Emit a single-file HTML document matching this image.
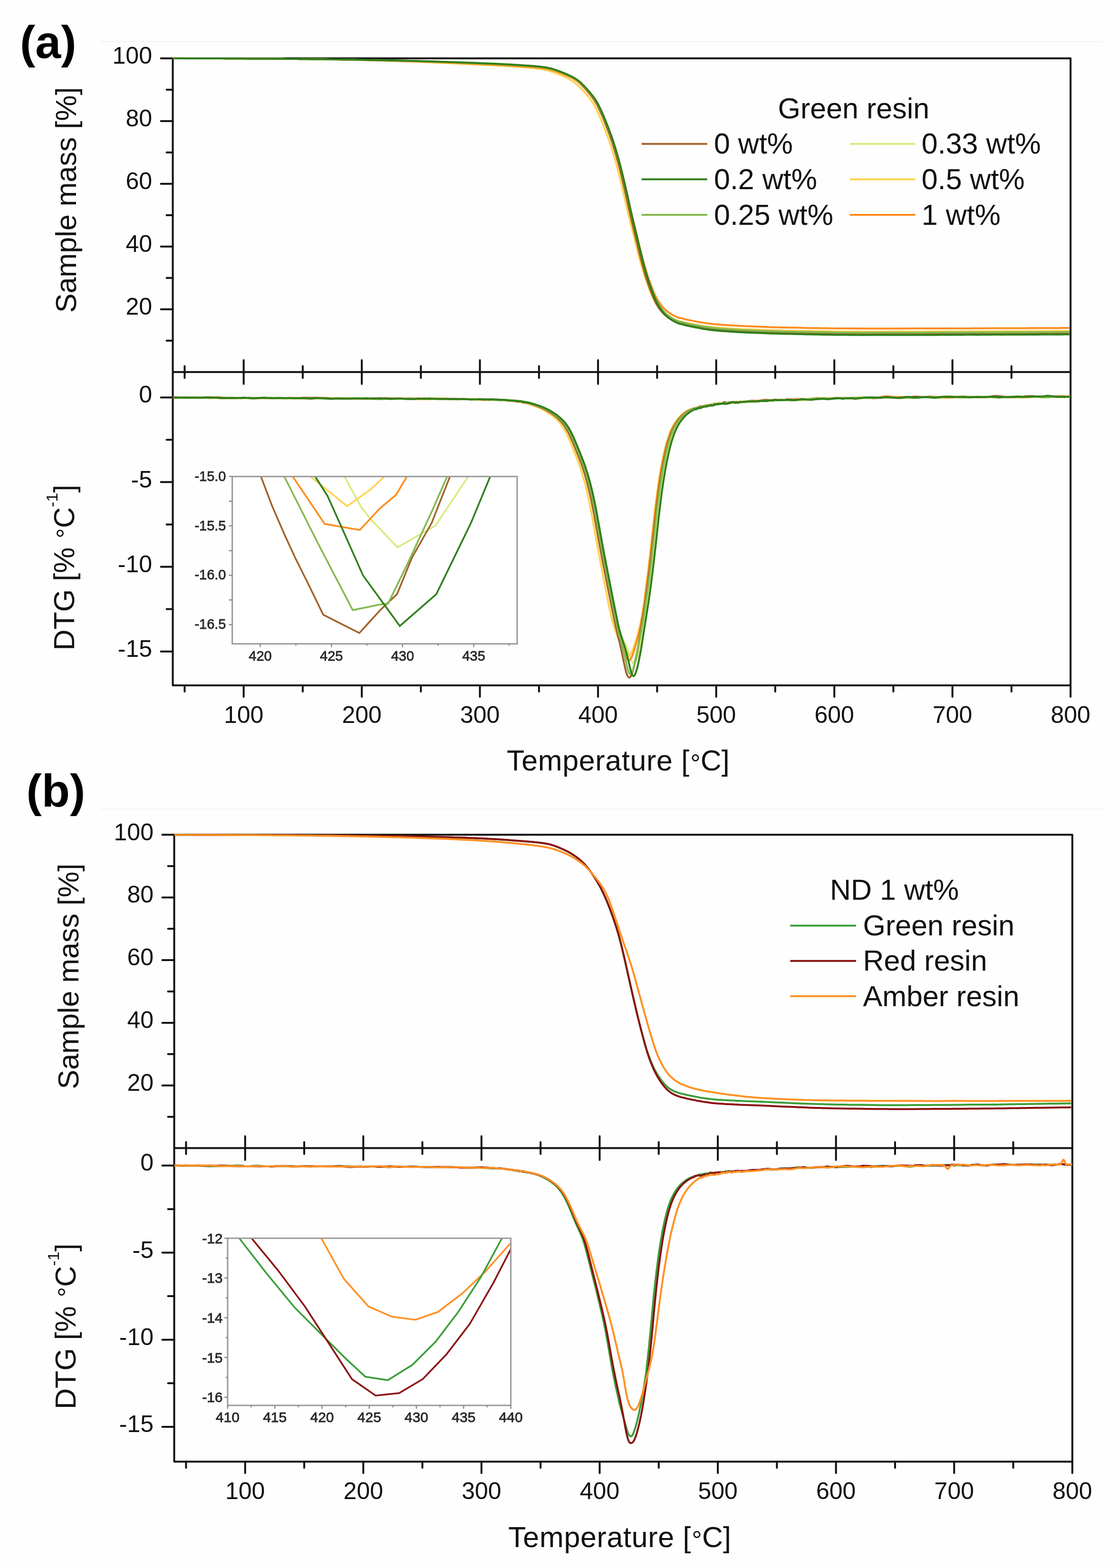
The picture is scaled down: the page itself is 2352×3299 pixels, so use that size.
<!DOCTYPE html>
<html><head><meta charset="utf-8"><title>TGA / DTG</title>
<style>html,body{margin:0;padding:0;background:#fefefe;}svg{display:block;}</style>
</head><body>
<svg width="2352" height="3299" viewBox="0 0 2352 3299">
<rect width="2352" height="3299" fill="#fefefe"/>
<path d="M210 87.5H2319M212 1702.5H2319" stroke="#f2f2f2" stroke-width="2" fill="none"/>
<clipPath id="pa"><rect x="363.5" y="120.8" width="1888.6999999999998" height="1321.2"/></clipPath>
<clipPath id="pb"><rect x="366.5" y="1754.3" width="1889.4" height="1320.8999999999999"/></clipPath>
<path d="M363.5 122.8H2252.2V1442H363.5Z" fill="none" stroke="#111" stroke-width="4" stroke-linejoin="round"/>
<path d="M363.5 782.7H2252.2" stroke="#111" stroke-width="4"/>
<path d="M350.5 716.7H363.5M338.5 650.7H363.5M350.5 584.7H363.5M338.5 518.7H363.5M350.5 452.8H363.5M338.5 386.8H363.5M350.5 320.8H363.5M338.5 254.8H363.5M350.5 188.8H363.5M338.5 122.8H363.5M338.5 836.2H363.5M350.5 925.3H363.5M338.5 1014.3H363.5M350.5 1103.4H363.5M338.5 1192.5H363.5M350.5 1281.6H363.5M338.5 1370.7H363.5M388.4 770.2V795.2M388.4 1442V1455M512.6 757.7V807.7M512.6 1442V1466M636.9 770.2V795.2M636.9 1442V1455M761.1 757.7V807.7M761.1 1442V1466M885.4 770.2V795.2M885.4 1442V1455M1009.6 757.7V807.7M1009.6 1442V1466M1133.9 770.2V795.2M1133.9 1442V1455M1258.1 757.7V807.7M1258.1 1442V1466M1382.4 770.2V795.2M1382.4 1442V1455M1506.7 757.7V807.7M1506.7 1442V1466M1630.9 770.2V795.2M1630.9 1442V1455M1755.2 757.7V807.7M1755.2 1442V1466M1879.4 770.2V795.2M1879.4 1442V1455M2003.7 757.7V807.7M2003.7 1442V1466M2127.9 770.2V795.2M2127.9 1442V1455M2252.2 1442V1466" stroke="#111" stroke-width="4" fill="none" stroke-linecap="round"/>
<path d="M366.5 1756.3H2255.9V3075.2H366.5Z" fill="none" stroke="#111" stroke-width="4" stroke-linejoin="round"/>
<path d="M366.5 2415.6H2255.9" stroke="#111" stroke-width="4"/>
<path d="M353.5 2349.7H366.5M341.5 2283.7H366.5M353.5 2217.8H366.5M341.5 2151.9H366.5M353.5 2085.9H366.5M341.5 2020H366.5M353.5 1954.1H366.5M341.5 1888.2H366.5M353.5 1822.2H366.5M341.5 1756.3H366.5M341.5 2452.2H366.5M353.5 2543.9H366.5M341.5 2635.5H366.5M353.5 2727.1H366.5M341.5 2818.7H366.5M353.5 2910.3H366.5M341.5 3001.9H366.5M391.4 2403.1V2428.1M391.4 3075.2V3088.2M515.7 2390.6V2440.6M515.7 3075.2V3099.2M640 2403.1V2428.1M640 3075.2V3088.2M764.3 2390.6V2440.6M764.3 3075.2V3099.2M888.6 2403.1V2428.1M888.6 3075.2V3088.2M1012.9 2390.6V2440.6M1012.9 3075.2V3099.2M1137.2 2403.1V2428.1M1137.2 3075.2V3088.2M1261.5 2390.6V2440.6M1261.5 3075.2V3099.2M1385.8 2403.1V2428.1M1385.8 3075.2V3088.2M1510.1 2390.6V2440.6M1510.1 3075.2V3099.2M1634.4 2403.1V2428.1M1634.4 3075.2V3088.2M1758.7 2390.6V2440.6M1758.7 3075.2V3099.2M1883 2403.1V2428.1M1883 3075.2V3088.2M2007.3 2390.6V2440.6M2007.3 3075.2V3099.2M2131.6 2403.1V2428.1M2131.6 3075.2V3088.2M2255.9 3075.2V3099.2" stroke="#111" stroke-width="4" fill="none" stroke-linecap="round"/>
<g clip-path="url(#pa)">
<path d="M363.5 122.8 L371 122.8 L378.4 122.8 L385.9 122.8 L393.3 122.9 L400.8 122.9 L408.2 122.9 L415.7 122.9 L423.1 123 L430.6 123 L438.1 123 L445.5 123 L453 123.1 L460.4 123.1 L467.9 123.1 L475.3 123.2 L482.8 123.2 L490.2 123.2 L497.7 123.3 L505.2 123.3 L512.6 123.3 L520.1 123.4 L527.5 123.4 L535 123.4 L542.4 123.5 L549.9 123.5 L557.3 123.6 L564.8 123.6 L572.3 123.7 L579.7 123.7 L587.2 123.8 L594.6 123.8 L602.1 123.9 L609.5 124 L617 124 L624.4 124.1 L631.9 124.2 L639.3 124.2 L646.8 124.3 L654.3 124.4 L661.7 124.5 L669.2 124.6 L676.6 124.6 L684.1 124.7 L691.5 124.9 L699 125 L706.4 125.1 L713.9 125.2 L721.4 125.3 L728.8 125.5 L736.3 125.6 L743.7 125.7 L751.2 125.9 L758.6 126.1 L766.1 126.2 L773.5 126.4 L781 126.5 L788.5 126.7 L795.9 126.9 L803.4 127.1 L810.8 127.3 L818.3 127.4 L825.7 127.6 L833.2 127.8 L840.6 128 L848.1 128.2 L855.6 128.4 L863 128.7 L870.5 128.9 L877.9 129.1 L885.4 129.3 L892.8 129.6 L900.3 129.8 L907.7 130.1 L915.2 130.4 L922.7 130.7 L930.1 130.9 L937.6 131.2 L945 131.5 L952.5 131.8 L959.9 132.1 L967.4 132.4 L974.8 132.7 L982.3 133 L989.8 133.4 L997.2 133.7 L1004.7 134 L1012.1 134.3 L1019.6 134.7 L1027 135 L1034.5 135.4 L1041.9 135.7 L1049.4 136.1 L1056.9 136.5 L1064.3 136.9 L1071.8 137.3 L1079.2 137.8 L1084.2 138.1 L1085.7 138.2 L1087.2 138.3 L1088.7 138.4 L1090.2 138.5 L1091.6 138.6 L1093.1 138.7 L1094.6 138.8 L1096.1 138.9 L1097.6 139 L1099.1 139.1 L1100.6 139.2 L1102.1 139.3 L1103.6 139.4 L1105.1 139.5 L1106.6 139.6 L1108 139.7 L1109.5 139.8 L1111 139.9 L1112.5 140 L1114 140.1 L1115.5 140.2 L1117 140.3 L1118.5 140.5 L1120 140.6 L1121.5 140.7 L1123 140.8 L1124.4 141 L1125.9 141.1 L1127.4 141.3 L1128.9 141.4 L1130.4 141.6 L1131.9 141.7 L1133.4 141.9 L1134.9 142 L1136.4 142.2 L1137.9 142.4 L1139.4 142.6 L1140.8 142.7 L1142.3 142.9 L1143.8 143.1 L1145.3 143.3 L1146.8 143.6 L1148.3 143.8 L1149.8 144.1 L1151.3 144.3 L1152.8 144.6 L1154.3 144.9 L1155.8 145.3 L1157.3 145.6 L1158.7 146 L1160.2 146.4 L1161.7 146.9 L1163.2 147.3 L1164.7 147.8 L1166.2 148.3 L1167.7 148.8 L1169.2 149.3 L1170.7 149.8 L1172.2 150.4 L1173.7 150.9 L1175.1 151.5 L1176.6 152 L1178.1 152.6 L1179.6 153.2 L1181.1 153.8 L1182.6 154.4 L1184.1 154.9 L1185.6 155.5 L1187.1 156.1 L1188.6 156.8 L1190.1 157.4 L1191.5 158 L1193 158.7 L1194.5 159.3 L1196 160 L1197.5 160.7 L1199 161.4 L1200.5 162.1 L1202 162.9 L1203.5 163.7 L1205 164.5 L1206.5 165.3 L1207.9 166.2 L1209.4 167.1 L1210.9 168.1 L1212.4 169.1 L1213.9 170.1 L1215.4 171.2 L1216.9 172.3 L1218.4 173.6 L1219.9 174.8 L1221.4 176.1 L1222.9 177.5 L1224.3 178.9 L1225.8 180.3 L1227.3 181.8 L1228.8 183.4 L1230.3 184.9 L1231.8 186.5 L1233.3 188.1 L1234.8 189.7 L1236.3 191.4 L1237.8 193 L1239.3 194.7 L1240.8 196.5 L1242.2 198.2 L1243.7 200 L1245.2 201.9 L1246.7 203.8 L1248.2 205.8 L1249.7 207.8 L1251.2 210 L1252.7 212.2 L1254.2 214.6 L1255.7 217 L1257.2 219.7 L1258.6 222.4 L1260.1 225.3 L1261.6 228.3 L1263.1 231.4 L1264.6 234.6 L1266.1 237.9 L1267.6 241.3 L1269.1 244.7 L1270.6 248.3 L1272.1 251.9 L1273.6 255.5 L1275 259.2 L1276.5 263 L1278 266.8 L1279.5 270.7 L1281 274.7 L1282.5 278.7 L1284 282.7 L1285.5 286.9 L1287 291.1 L1288.5 295.4 L1290 299.9 L1291.4 304.5 L1292.9 309.3 L1294.4 314.2 L1295.9 319.2 L1297.4 324.4 L1298.9 329.7 L1300.4 335.1 L1301.9 340.7 L1303.4 346.4 L1304.9 352.1 L1306.4 358 L1307.9 364 L1309.3 370.1 L1310.8 376.3 L1312.3 382.7 L1313.8 389.1 L1315.3 395.7 L1316.8 402.3 L1318.3 409.1 L1319.8 415.8 L1321.3 422.5 L1322.8 429.2 L1324.3 435.9 L1325.7 442.5 L1327.2 449 L1328.7 455.4 L1330.2 461.8 L1331.7 468.1 L1333.2 474.4 L1334.7 480.7 L1336.2 486.9 L1337.7 493.2 L1339.2 499.4 L1340.7 505.7 L1342.1 511.9 L1343.6 518.1 L1345.1 524.3 L1346.6 530.4 L1348.1 536.4 L1349.6 542.3 L1351.1 548.1 L1352.6 553.8 L1354.1 559.4 L1355.6 564.8 L1357.1 570 L1358.5 575.1 L1360 580 L1361.5 584.7 L1363 589.3 L1364.5 593.7 L1366 598.1 L1367.5 602.3 L1369 606.4 L1370.5 610.4 L1372 614.3 L1373.5 618 L1374.9 621.7 L1376.4 625.1 L1377.9 628.5 L1379.4 631.6 L1380.9 634.6 L1382.4 637.4 L1383.9 640 L1385.4 642.5 L1386.9 644.8 L1388.4 647 L1389.9 649 L1391.4 650.9 L1392.8 652.7 L1394.3 654.4 L1395.8 656 L1397.3 657.6 L1398.8 659 L1400.3 660.4 L1401.8 661.7 L1403.3 662.9 L1404.8 664 L1406.3 665.2 L1407.8 666.2 L1409.2 667.2 L1410.7 668.2 L1412.2 669.1 L1413.7 670 L1415.2 670.8 L1416.7 671.6 L1418.2 672.4 L1419.7 673.1 L1421.2 673.8 L1422.7 674.4 L1424.2 675 L1425.6 675.6 L1427.1 676.1 L1428.6 676.6 L1430.1 677.1 L1431.6 677.4 L1433.1 677.4 L1434.6 677.7 L1436.1 678.2 L1437.6 678.6 L1439.1 679 L1440.6 679.4 L1442 679.7 L1443.5 680.1 L1445 680.5 L1446.5 680.9 L1448 681.2 L1449.5 681.6 L1451 681.9 L1452.5 682.2 L1454 682.4 L1455.5 682.7 L1457 683 L1458.4 683.3 L1459.9 683.6 L1461.4 683.9 L1462.9 684.3 L1464.4 684.6 L1465.9 684.9 L1467.4 685.1 L1468.9 685.3 L1470.4 685.6 L1471.9 685.9 L1473.4 686.2 L1474.9 686.4 L1476.3 686.6 L1477.8 686.8 L1479.3 687.1 L1480.8 687.3 L1482.3 687.6 L1483.8 687.7 L1485.3 688 L1486.8 688.2 L1488.3 688.5 L1489.8 688.7 L1491.3 688.7 L1492.7 688.9 L1494.2 689 L1495.7 689.4 L1497.2 689.5 L1498.7 689.7 L1500.2 689.8 L1501.7 689.9 L1503.2 690.1 L1504.7 690.2 L1506.2 690.4 L1507.7 690.5 L1509.1 690.8 L1510.6 691 L1512.1 691.1 L1513.6 691.1 L1515.1 691.1 L1516.6 691.2 L1518.1 691.4 L1519.6 691.6 L1521.1 691.7 L1522.6 691.8 L1524.1 691.9 L1525.5 691.9 L1527 692.1 L1528.5 692.2 L1530 692.3 L1531.5 692.4 L1533 692.5 L1534.5 692.5 L1536 692.7 L1537.5 692.8 L1539 692.9 L1540.5 693 L1541.9 693.1 L1543.4 693.2 L1544.9 693.3 L1546.4 693.3 L1547.9 693.4 L1549.4 693.5 L1550.9 693.6 L1552.4 693.6 L1553.9 693.7 L1555.4 693.8 L1556.4 693.8 L1563.8 694.2 L1571.3 694.4 L1578.7 694.8 L1586.2 695 L1593.6 695.4 L1601.1 695.6 L1608.6 695.9 L1616 696.2 L1623.5 696.4 L1630.9 696.7 L1638.4 697 L1645.8 697.1 L1653.3 697.3 L1660.7 697.4 L1668.2 697.6 L1675.6 697.8 L1683.1 698 L1690.6 698.2 L1698 698.2 L1705.5 698.3 L1712.9 698.4 L1720.4 698.5 L1727.8 698.6 L1735.3 698.8 L1742.7 699 L1750.2 699.1 L1757.7 699.1 L1765.1 699.2 L1772.6 699.3 L1780 699.4 L1787.5 699.5 L1794.9 699.4 L1802.4 699.5 L1809.8 699.4 L1817.3 699.5 L1824.8 699.6 L1832.2 699.6 L1839.7 699.6 L1847.1 699.5 L1854.6 699.6 L1862 699.5 L1869.5 699.5 L1876.9 699.5 L1884.4 699.5 L1891.9 699.5 L1899.3 699.5 L1906.8 699.5 L1914.2 699.4 L1921.7 699.3 L1929.1 699.4 L1936.6 699.3 L1944 699.4 L1951.5 699.3 L1959 699.4 L1966.4 699.3 L1973.9 699.4 L1981.3 699.4 L1988.8 699.3 L1996.2 699.3 L2003.7 699.3 L2011.1 699.3 L2018.6 699.2 L2026.1 699.1 L2033.5 699 L2041 699.1 L2048.4 699.1 L2055.9 699.1 L2063.3 699 L2070.8 699 L2078.2 699 L2085.7 698.9 L2093.2 698.9 L2100.6 698.9 L2108.1 698.9 L2115.5 698.8 L2123 698.7 L2130.4 698.6 L2137.9 698.5 L2145.3 698.6 L2152.8 698.6 L2160.3 698.5 L2167.7 698.5 L2175.2 698.5 L2182.6 698.6 L2190.1 698.6 L2197.5 698.6 L2205 698.5 L2212.4 698.4 L2219.9 698.3 L2227.3 698.2 L2234.8 698.2 L2242.3 698.2 L2249.7 698.2" fill="none" stroke="#d8ea7c" stroke-width="4" stroke-linejoin="round"/>
<path d="M363.5 122.8 L371 122.8 L378.4 122.9 L385.9 122.9 L393.3 122.9 L400.8 122.9 L408.2 122.9 L415.7 123 L423.1 123 L430.6 123 L438.1 123 L445.5 123.1 L453 123.1 L460.4 123.1 L467.9 123.2 L475.3 123.2 L482.8 123.2 L490.2 123.3 L497.7 123.3 L505.2 123.3 L512.6 123.4 L520.1 123.4 L527.5 123.4 L535 123.5 L542.4 123.5 L549.9 123.6 L557.3 123.6 L564.8 123.7 L572.3 123.7 L579.7 123.8 L587.2 123.8 L594.6 123.9 L602.1 124 L609.5 124 L617 124.1 L624.4 124.2 L631.9 124.2 L639.3 124.3 L646.8 124.4 L654.3 124.5 L661.7 124.6 L669.2 124.7 L676.6 124.8 L684.1 124.9 L691.5 125 L699 125.1 L706.4 125.3 L713.9 125.4 L721.4 125.6 L728.8 125.7 L736.3 125.9 L743.7 126.1 L751.2 126.2 L758.6 126.4 L766.1 126.6 L773.5 126.8 L781 127 L788.5 127.2 L795.9 127.4 L803.4 127.6 L810.8 127.9 L818.3 128.1 L825.7 128.3 L833.2 128.6 L840.6 128.8 L848.1 129 L855.6 129.3 L863 129.6 L870.5 129.8 L877.9 130.1 L885.4 130.4 L892.8 130.7 L900.3 131 L907.7 131.3 L915.2 131.6 L922.7 131.9 L930.1 132.3 L937.6 132.6 L945 132.9 L952.5 133.3 L959.9 133.6 L967.4 134 L974.8 134.3 L982.3 134.7 L989.8 135 L997.2 135.4 L1004.7 135.7 L1012.1 136.1 L1019.6 136.5 L1027 136.9 L1034.5 137.3 L1041.9 137.7 L1049.4 138.1 L1056.9 138.6 L1064.3 139 L1071.8 139.5 L1079.2 140 L1084.2 140.3 L1085.7 140.4 L1087.2 140.5 L1088.7 140.6 L1090.2 140.7 L1091.6 140.8 L1093.1 140.9 L1094.6 141 L1096.1 141.2 L1097.6 141.3 L1099.1 141.4 L1100.6 141.5 L1102.1 141.6 L1103.6 141.7 L1105.1 141.8 L1106.6 142 L1108 142.1 L1109.5 142.2 L1111 142.3 L1112.5 142.4 L1114 142.5 L1115.5 142.7 L1117 142.8 L1118.5 142.9 L1120 143.1 L1121.5 143.2 L1123 143.4 L1124.4 143.6 L1125.9 143.7 L1127.4 143.9 L1128.9 144 L1130.4 144.2 L1131.9 144.4 L1133.4 144.6 L1134.9 144.8 L1136.4 145 L1137.9 145.2 L1139.4 145.4 L1140.8 145.7 L1142.3 145.9 L1143.8 146.2 L1145.3 146.5 L1146.8 146.8 L1148.3 147.2 L1149.8 147.5 L1151.3 147.9 L1152.8 148.3 L1154.3 148.7 L1155.8 149.2 L1157.3 149.7 L1158.7 150.1 L1160.2 150.7 L1161.7 151.2 L1163.2 151.7 L1164.7 152.2 L1166.2 152.8 L1167.7 153.3 L1169.2 153.9 L1170.7 154.5 L1172.2 155.1 L1173.7 155.6 L1175.1 156.2 L1176.6 156.8 L1178.1 157.4 L1179.6 158 L1181.1 158.6 L1182.6 159.2 L1184.1 159.9 L1185.6 160.5 L1187.1 161.2 L1188.6 161.9 L1190.1 162.5 L1191.5 163.3 L1193 164 L1194.5 164.7 L1196 165.5 L1197.5 166.3 L1199 167.2 L1200.5 168.1 L1202 169 L1203.5 169.9 L1205 170.9 L1206.5 172 L1207.9 173 L1209.4 174.2 L1210.9 175.4 L1212.4 176.7 L1213.9 178 L1215.4 179.3 L1216.9 180.7 L1218.4 182.2 L1219.9 183.6 L1221.4 185.2 L1222.9 186.7 L1224.3 188.3 L1225.8 189.8 L1227.3 191.4 L1228.8 193.1 L1230.3 194.7 L1231.8 196.4 L1233.3 198.1 L1234.8 199.8 L1236.3 201.5 L1237.8 203.4 L1239.3 205.2 L1240.8 207.2 L1242.2 209.2 L1243.7 211.3 L1245.2 213.5 L1246.7 215.8 L1248.2 218.2 L1249.7 220.8 L1251.2 223.5 L1252.7 226.3 L1254.2 229.2 L1255.7 232.3 L1257.2 235.4 L1258.6 238.6 L1260.1 242 L1261.6 245.3 L1263.1 248.8 L1264.6 252.3 L1266.1 255.9 L1267.6 259.5 L1269.1 263.1 L1270.6 266.9 L1272.1 270.6 L1273.6 274.4 L1275 278.3 L1276.5 282.2 L1278 286.2 L1279.5 290.3 L1281 294.4 L1282.5 298.7 L1284 303.1 L1285.5 307.7 L1287 312.4 L1288.5 317.2 L1290 322.2 L1291.4 327.2 L1292.9 332.4 L1294.4 337.8 L1295.9 343.2 L1297.4 348.7 L1298.9 354.2 L1300.4 359.9 L1301.9 365.8 L1303.4 371.7 L1304.9 377.7 L1306.4 383.9 L1307.9 390.1 L1309.3 396.5 L1310.8 402.9 L1312.3 409.4 L1313.8 415.9 L1315.3 422.4 L1316.8 428.8 L1318.3 435.2 L1319.8 441.6 L1321.3 447.8 L1322.8 454 L1324.3 460.1 L1325.7 466.2 L1327.2 472.2 L1328.7 478.2 L1330.2 484.2 L1331.7 490.2 L1333.2 496.2 L1334.7 502.2 L1336.2 508.2 L1337.7 514.2 L1339.2 520.1 L1340.7 526 L1342.1 531.9 L1343.6 537.6 L1345.1 543.3 L1346.6 548.8 L1348.1 554.3 L1349.6 559.6 L1351.1 564.7 L1352.6 569.7 L1354.1 574.6 L1355.6 579.2 L1357.1 583.8 L1358.5 588.2 L1360 592.5 L1361.5 596.6 L1363 600.7 L1364.5 604.6 L1366 608.5 L1367.5 612.3 L1369 616 L1370.5 619.5 L1372 622.9 L1373.5 626.2 L1374.9 629.3 L1376.4 632.2 L1377.9 635 L1379.4 637.6 L1380.9 640 L1382.4 642.3 L1383.9 644.5 L1385.4 646.5 L1386.9 648.4 L1388.4 650.2 L1389.9 651.9 L1391.4 653.6 L1392.8 655.1 L1394.3 656.5 L1395.8 657.9 L1397.3 659.2 L1398.8 660.5 L1400.3 661.6 L1401.8 662.8 L1403.3 663.8 L1404.8 664.9 L1406.3 665.8 L1407.8 666.8 L1409.2 667.7 L1410.7 668.5 L1412.2 669.3 L1413.7 670.1 L1415.2 670.9 L1416.7 671.6 L1418.2 672.2 L1419.7 672.8 L1421.2 673.4 L1422.7 674 L1424.2 674.5 L1425.6 674.9 L1427.1 675.4 L1428.6 675.8 L1430.1 676.2 L1431.6 676.5 L1433.1 676.6 L1434.6 677 L1436.1 677.5 L1437.6 677.8 L1439.1 678.2 L1440.6 678.4 L1442 678.7 L1443.5 679 L1445 679.4 L1446.5 679.8 L1448 680.1 L1449.5 680.3 L1451 680.6 L1452.5 680.8 L1454 681.2 L1455.5 681.5 L1457 681.8 L1458.4 682.1 L1459.9 682.4 L1461.4 682.7 L1462.9 683 L1464.4 683.4 L1465.9 683.6 L1467.4 683.9 L1468.9 684 L1470.4 684.3 L1471.9 684.5 L1473.4 684.8 L1474.9 685.1 L1476.3 685.3 L1477.8 685.5 L1479.3 685.7 L1480.8 685.9 L1482.3 686.2 L1483.8 686.4 L1485.3 686.6 L1486.8 686.8 L1488.3 686.9 L1489.8 687.1 L1491.3 687.3 L1492.7 687.5 L1494.2 687.6 L1495.7 687.8 L1497.2 688 L1498.7 688.2 L1500.2 688.3 L1501.7 688.4 L1503.2 688.6 L1504.7 688.8 L1506.2 688.9 L1507.7 689 L1509.1 689.1 L1510.6 689.3 L1512.1 689.3 L1513.6 689.4 L1515.1 689.5 L1516.6 689.6 L1518.1 689.7 L1519.6 689.8 L1521.1 689.8 L1522.6 690 L1524.1 690.1 L1525.5 690.3 L1527 690.3 L1528.5 690.3 L1530 690.4 L1531.5 690.6 L1533 690.8 L1534.5 690.9 L1536 691 L1537.5 691.1 L1539 691.2 L1540.5 691.3 L1541.9 691.4 L1543.4 691.5 L1544.9 691.6 L1546.4 691.6 L1547.9 691.7 L1549.4 691.6 L1550.9 691.7 L1552.4 691.7 L1553.9 691.8 L1555.4 691.9 L1556.4 692 L1563.8 692.4 L1571.3 692.7 L1578.7 693 L1586.2 693.3 L1593.6 693.6 L1601.1 693.8 L1608.6 694 L1616 694.3 L1623.5 694.6 L1630.9 694.9 L1638.4 695.1 L1645.8 695.3 L1653.3 695.5 L1660.7 695.6 L1668.2 695.8 L1675.6 695.9 L1683.1 696 L1690.6 696 L1698 696.1 L1705.5 696.3 L1712.9 696.5 L1720.4 696.6 L1727.8 696.8 L1735.3 696.8 L1742.7 696.9 L1750.2 697 L1757.7 697.2 L1765.1 697.3 L1772.6 697.4 L1780 697.5 L1787.5 697.5 L1794.9 697.6 L1802.4 697.6 L1809.8 697.6 L1817.3 697.7 L1824.8 697.6 L1832.2 697.7 L1839.7 697.6 L1847.1 697.8 L1854.6 697.7 L1862 697.6 L1869.5 697.6 L1876.9 697.5 L1884.4 697.5 L1891.9 697.5 L1899.3 697.5 L1906.8 697.5 L1914.2 697.5 L1921.7 697.5 L1929.1 697.5 L1936.6 697.4 L1944 697.4 L1951.5 697.3 L1959 697.4 L1966.4 697.3 L1973.9 697.2 L1981.3 697.2 L1988.8 697.2 L1996.2 697.3 L2003.7 697.3 L2011.1 697.2 L2018.6 697.2 L2026.1 697.1 L2033.5 697.2 L2041 697.1 L2048.4 697.1 L2055.9 697.1 L2063.3 697.1 L2070.8 697.1 L2078.2 697 L2085.7 697 L2093.2 696.9 L2100.6 696.9 L2108.1 696.8 L2115.5 696.8 L2123 696.8 L2130.4 696.8 L2137.9 696.8 L2145.3 696.8 L2152.8 696.9 L2160.3 696.7 L2167.7 696.6 L2175.2 696.5 L2182.6 696.4 L2190.1 696.4 L2197.5 696.5 L2205 696.4 L2212.4 696.4 L2219.9 696.3 L2227.3 696.3 L2234.8 696.2 L2242.3 696.2 L2249.7 696.2" fill="none" stroke="#ffd34f" stroke-width="4" stroke-linejoin="round"/>
<path d="M363.5 122.8 L371 122.8 L378.4 122.8 L385.9 122.9 L393.3 122.9 L400.8 122.9 L408.2 122.9 L415.7 122.9 L423.1 123 L430.6 123 L438.1 123 L445.5 123 L453 123.1 L460.4 123.1 L467.9 123.1 L475.3 123.2 L482.8 123.2 L490.2 123.2 L497.7 123.3 L505.2 123.3 L512.6 123.3 L520.1 123.4 L527.5 123.4 L535 123.5 L542.4 123.5 L549.9 123.6 L557.3 123.6 L564.8 123.6 L572.3 123.7 L579.7 123.8 L587.2 123.8 L594.6 123.9 L602.1 123.9 L609.5 124 L617 124.1 L624.4 124.1 L631.9 124.2 L639.3 124.3 L646.8 124.3 L654.3 124.4 L661.7 124.5 L669.2 124.6 L676.6 124.7 L684.1 124.8 L691.5 124.9 L699 125 L706.4 125.1 L713.9 125.2 L721.4 125.3 L728.8 125.4 L736.3 125.6 L743.7 125.7 L751.2 125.8 L758.6 126 L766.1 126.1 L773.5 126.3 L781 126.4 L788.5 126.6 L795.9 126.7 L803.4 126.9 L810.8 127.1 L818.3 127.2 L825.7 127.4 L833.2 127.6 L840.6 127.8 L848.1 128 L855.6 128.2 L863 128.3 L870.5 128.6 L877.9 128.8 L885.4 129 L892.8 129.2 L900.3 129.5 L907.7 129.7 L915.2 130 L922.7 130.2 L930.1 130.5 L937.6 130.7 L945 131 L952.5 131.3 L959.9 131.6 L967.4 131.9 L974.8 132.2 L982.3 132.5 L989.8 132.8 L997.2 133.1 L1004.7 133.4 L1012.1 133.7 L1019.6 134 L1027 134.3 L1034.5 134.7 L1041.9 135 L1049.4 135.4 L1056.9 135.8 L1064.3 136.2 L1071.8 136.6 L1079.2 137.1 L1084.2 137.4 L1085.7 137.5 L1087.2 137.6 L1088.7 137.6 L1090.2 137.7 L1091.6 137.8 L1093.1 137.9 L1094.6 138 L1096.1 138.1 L1097.6 138.2 L1099.1 138.3 L1100.6 138.4 L1102.1 138.5 L1103.6 138.6 L1105.1 138.7 L1106.6 138.9 L1108 139 L1109.5 139 L1111 139.1 L1112.5 139.2 L1114 139.4 L1115.5 139.5 L1117 139.6 L1118.5 139.7 L1120 139.9 L1121.5 140 L1123 140.1 L1124.4 140.3 L1125.9 140.4 L1127.4 140.5 L1128.9 140.7 L1130.4 140.8 L1131.9 141 L1133.4 141.2 L1134.9 141.3 L1136.4 141.5 L1137.9 141.7 L1139.4 141.9 L1140.8 142.1 L1142.3 142.3 L1143.8 142.5 L1145.3 142.7 L1146.8 142.9 L1148.3 143.2 L1149.8 143.5 L1151.3 143.8 L1152.8 144.1 L1154.3 144.4 L1155.8 144.8 L1157.3 145.2 L1158.7 145.6 L1160.2 146.1 L1161.7 146.5 L1163.2 147 L1164.7 147.5 L1166.2 148 L1167.7 148.5 L1169.2 149 L1170.7 149.6 L1172.2 150.1 L1173.7 150.7 L1175.1 151.3 L1176.6 151.8 L1178.1 152.4 L1179.6 153 L1181.1 153.6 L1182.6 154.2 L1184.1 154.8 L1185.6 155.4 L1187.1 156 L1188.6 156.6 L1190.1 157.3 L1191.5 157.9 L1193 158.6 L1194.5 159.3 L1196 160 L1197.5 160.7 L1199 161.4 L1200.5 162.2 L1202 163 L1203.5 163.8 L1205 164.7 L1206.5 165.6 L1207.9 166.5 L1209.4 167.5 L1210.9 168.5 L1212.4 169.5 L1213.9 170.6 L1215.4 171.8 L1216.9 173 L1218.4 174.3 L1219.9 175.7 L1221.4 177 L1222.9 178.5 L1224.3 180 L1225.8 181.5 L1227.3 183 L1228.8 184.6 L1230.3 186.2 L1231.8 187.9 L1233.3 189.5 L1234.8 191.2 L1236.3 192.9 L1237.8 194.6 L1239.3 196.4 L1240.8 198.2 L1242.2 200 L1243.7 201.9 L1245.2 203.8 L1246.7 205.9 L1248.2 208 L1249.7 210.1 L1251.2 212.4 L1252.7 214.9 L1254.2 217.4 L1255.7 220.1 L1257.2 222.9 L1258.6 225.8 L1260.1 228.8 L1261.6 232 L1263.1 235.3 L1264.6 238.6 L1266.1 242 L1267.6 245.5 L1269.1 249.1 L1270.6 252.8 L1272.1 256.4 L1273.6 260.2 L1275 264 L1276.5 267.9 L1278 271.8 L1279.5 275.8 L1281 279.8 L1282.5 283.9 L1284 288 L1285.5 292.3 L1287 296.7 L1288.5 301.2 L1290 305.8 L1291.4 310.6 L1292.9 315.5 L1294.4 320.6 L1295.9 325.8 L1297.4 331.2 L1298.9 336.6 L1300.4 342.2 L1301.9 347.9 L1303.4 353.6 L1304.9 359.5 L1306.4 365.5 L1307.9 371.6 L1309.3 377.9 L1310.8 384.2 L1312.3 390.7 L1313.8 397.3 L1315.3 403.9 L1316.8 410.6 L1318.3 417.4 L1319.8 424.1 L1321.3 430.8 L1322.8 437.5 L1324.3 444.1 L1325.7 450.6 L1327.2 457 L1328.7 463.4 L1330.2 469.7 L1331.7 476 L1333.2 482.2 L1334.7 488.5 L1336.2 494.7 L1337.7 501 L1339.2 507.2 L1340.7 513.4 L1342.1 519.7 L1343.6 525.8 L1345.1 531.9 L1346.6 538 L1348.1 543.9 L1349.6 549.7 L1351.1 555.4 L1352.6 561 L1354.1 566.4 L1355.6 571.6 L1357.1 576.7 L1358.5 581.6 L1360 586.4 L1361.5 591 L1363 595.4 L1364.5 599.8 L1366 604 L1367.5 608.1 L1369 612.1 L1370.5 616 L1372 619.8 L1373.5 623.5 L1374.9 627 L1376.4 630.3 L1377.9 633.5 L1379.4 636.5 L1380.9 639.4 L1382.4 642 L1383.9 644.5 L1385.4 646.8 L1386.9 649 L1388.4 651.1 L1389.9 653.1 L1391.4 654.9 L1392.8 656.6 L1394.3 658.2 L1395.8 659.8 L1397.3 661.2 L1398.8 662.6 L1400.3 663.9 L1401.8 665.2 L1403.3 666.3 L1404.8 667.5 L1406.3 668.5 L1407.8 669.5 L1409.2 670.5 L1410.7 671.4 L1412.2 672.3 L1413.7 673.2 L1415.2 674 L1416.7 674.8 L1418.2 675.5 L1419.7 676.2 L1421.2 676.8 L1422.7 677.5 L1424.2 678 L1425.6 678.6 L1427.1 679.1 L1428.6 679.5 L1430.1 680 L1431.6 680.3 L1433.1 680.3 L1434.6 680.7 L1436.1 681.2 L1437.6 681.6 L1439.1 682 L1440.6 682.3 L1442 682.7 L1443.5 683 L1445 683.4 L1446.5 683.7 L1448 684 L1449.5 684.3 L1451 684.7 L1452.5 685.1 L1454 685.3 L1455.5 685.5 L1457 685.8 L1458.4 686 L1459.9 686.4 L1461.4 686.7 L1462.9 687.1 L1464.4 687.3 L1465.9 687.6 L1467.4 687.9 L1468.9 688.1 L1470.4 688.3 L1471.9 688.6 L1473.4 688.8 L1474.9 689.1 L1476.3 689.4 L1477.8 689.6 L1479.3 689.8 L1480.8 690 L1482.3 690.3 L1483.8 690.5 L1485.3 690.7 L1486.8 690.9 L1488.3 691.1 L1489.8 691.3 L1491.3 691.4 L1492.7 691.6 L1494.2 691.7 L1495.7 692 L1497.2 692.1 L1498.7 692.4 L1500.2 692.5 L1501.7 692.7 L1503.2 692.8 L1504.7 693 L1506.2 693.1 L1507.7 693.2 L1509.1 693.3 L1510.6 693.5 L1512.1 693.6 L1513.6 693.8 L1515.1 693.9 L1516.6 694 L1518.1 694.1 L1519.6 694.3 L1521.1 694.3 L1522.6 694.4 L1524.1 694.6 L1525.5 694.8 L1527 694.9 L1528.5 695 L1530 694.9 L1531.5 695 L1533 695 L1534.5 695.2 L1536 695.3 L1537.5 695.4 L1539 695.5 L1540.5 695.6 L1541.9 695.6 L1543.4 695.7 L1544.9 695.8 L1546.4 695.9 L1547.9 696.1 L1549.4 696.2 L1550.9 696.3 L1552.4 696.3 L1553.9 696.3 L1555.4 696.4 L1556.4 696.5 L1563.8 696.9 L1571.3 697.2 L1578.7 697.5 L1586.2 697.7 L1593.6 697.9 L1601.1 698.3 L1608.6 698.7 L1616 699.1 L1623.5 699.2 L1630.9 699.3 L1638.4 699.6 L1645.8 699.8 L1653.3 699.9 L1660.7 700 L1668.2 700.2 L1675.6 700.3 L1683.1 700.5 L1690.6 700.6 L1698 700.8 L1705.5 700.9 L1712.9 701.1 L1720.4 701.3 L1727.8 701.5 L1735.3 701.6 L1742.7 701.7 L1750.2 701.8 L1757.7 701.9 L1765.1 701.9 L1772.6 701.9 L1780 702 L1787.5 702.1 L1794.9 702.2 L1802.4 702.2 L1809.8 702.2 L1817.3 702.1 L1824.8 702.1 L1832.2 702.1 L1839.7 702.2 L1847.1 702.3 L1854.6 702.2 L1862 702.2 L1869.5 702 L1876.9 702 L1884.4 702 L1891.9 702.1 L1899.3 702 L1906.8 702 L1914.2 702.1 L1921.7 702.2 L1929.1 702.2 L1936.6 702.1 L1944 702 L1951.5 702 L1959 702.1 L1966.4 702 L1973.9 702 L1981.3 702 L1988.8 702.1 L1996.2 702 L2003.7 702 L2011.1 701.9 L2018.6 701.9 L2026.1 701.8 L2033.5 701.8 L2041 701.7 L2048.4 701.7 L2055.9 701.8 L2063.3 701.7 L2070.8 701.8 L2078.2 701.6 L2085.7 701.6 L2093.2 701.4 L2100.6 701.5 L2108.1 701.5 L2115.5 701.6 L2123 701.5 L2130.4 701.6 L2137.9 701.5 L2145.3 701.5 L2152.8 701.5 L2160.3 701.5 L2167.7 701.4 L2175.2 701.4 L2182.6 701.3 L2190.1 701.2 L2197.5 701.1 L2205 701 L2212.4 701 L2219.9 701 L2227.3 701 L2234.8 700.9 L2242.3 700.9 L2249.7 700.9" fill="none" stroke="#a3622b" stroke-width="4" stroke-linejoin="round"/>
<path d="M363.5 122.8 L371 122.8 L378.4 122.8 L385.9 122.8 L393.3 122.9 L400.8 122.9 L408.2 122.9 L415.7 122.9 L423.1 123 L430.6 123 L438.1 123 L445.5 123 L453 123.1 L460.4 123.1 L467.9 123.1 L475.3 123.2 L482.8 123.2 L490.2 123.2 L497.7 123.3 L505.2 123.3 L512.6 123.3 L520.1 123.4 L527.5 123.4 L535 123.4 L542.4 123.5 L549.9 123.5 L557.3 123.6 L564.8 123.6 L572.3 123.7 L579.7 123.7 L587.2 123.8 L594.6 123.8 L602.1 123.9 L609.5 124 L617 124 L624.4 124.1 L631.9 124.1 L639.3 124.2 L646.8 124.3 L654.3 124.4 L661.7 124.5 L669.2 124.5 L676.6 124.6 L684.1 124.7 L691.5 124.9 L699 125 L706.4 125.1 L713.9 125.2 L721.4 125.4 L728.8 125.5 L736.3 125.7 L743.7 125.8 L751.2 126 L758.6 126.1 L766.1 126.3 L773.5 126.5 L781 126.7 L788.5 126.9 L795.9 127 L803.4 127.2 L810.8 127.4 L818.3 127.6 L825.7 127.8 L833.2 128.1 L840.6 128.3 L848.1 128.5 L855.6 128.7 L863 128.9 L870.5 129.2 L877.9 129.4 L885.4 129.7 L892.8 130 L900.3 130.2 L907.7 130.5 L915.2 130.8 L922.7 131.1 L930.1 131.4 L937.6 131.7 L945 132 L952.5 132.3 L959.9 132.6 L967.4 132.9 L974.8 133.3 L982.3 133.6 L989.8 133.9 L997.2 134.3 L1004.7 134.6 L1012.1 135 L1019.6 135.3 L1027 135.7 L1034.5 136 L1041.9 136.4 L1049.4 136.8 L1056.9 137.2 L1064.3 137.6 L1071.8 138 L1079.2 138.5 L1084.2 138.8 L1085.7 138.9 L1087.2 139 L1088.7 139.1 L1090.2 139.2 L1091.6 139.3 L1093.1 139.4 L1094.6 139.5 L1096.1 139.6 L1097.6 139.7 L1099.1 139.8 L1100.6 139.9 L1102.1 140 L1103.6 140.1 L1105.1 140.2 L1106.6 140.3 L1108 140.4 L1109.5 140.5 L1111 140.6 L1112.5 140.7 L1114 140.8 L1115.5 140.9 L1117 141.1 L1118.5 141.2 L1120 141.3 L1121.5 141.4 L1123 141.6 L1124.4 141.7 L1125.9 141.8 L1127.4 142 L1128.9 142.1 L1130.4 142.3 L1131.9 142.4 L1133.4 142.6 L1134.9 142.8 L1136.4 142.9 L1137.9 143.1 L1139.4 143.3 L1140.8 143.4 L1142.3 143.6 L1143.8 143.8 L1145.3 144 L1146.8 144.3 L1148.3 144.5 L1149.8 144.8 L1151.3 145 L1152.8 145.3 L1154.3 145.6 L1155.8 146 L1157.3 146.3 L1158.7 146.7 L1160.2 147.1 L1161.7 147.5 L1163.2 148 L1164.7 148.4 L1166.2 148.9 L1167.7 149.4 L1169.2 149.9 L1170.7 150.4 L1172.2 151 L1173.7 151.5 L1175.1 152.1 L1176.6 152.6 L1178.1 153.2 L1179.6 153.8 L1181.1 154.3 L1182.6 154.9 L1184.1 155.5 L1185.6 156.1 L1187.1 156.7 L1188.6 157.3 L1190.1 157.9 L1191.5 158.5 L1193 159.2 L1194.5 159.8 L1196 160.5 L1197.5 161.2 L1199 161.9 L1200.5 162.6 L1202 163.3 L1203.5 164.1 L1205 164.9 L1206.5 165.7 L1207.9 166.6 L1209.4 167.5 L1210.9 168.4 L1212.4 169.4 L1213.9 170.4 L1215.4 171.5 L1216.9 172.6 L1218.4 173.8 L1219.9 175 L1221.4 176.3 L1222.9 177.7 L1224.3 179 L1225.8 180.4 L1227.3 181.9 L1228.8 183.4 L1230.3 184.9 L1231.8 186.5 L1233.3 188 L1234.8 189.6 L1236.3 191.2 L1237.8 192.8 L1239.3 194.5 L1240.8 196.2 L1242.2 197.9 L1243.7 199.6 L1245.2 201.4 L1246.7 203.3 L1248.2 205.2 L1249.7 207.2 L1251.2 209.3 L1252.7 211.5 L1254.2 213.8 L1255.7 216.2 L1257.2 218.8 L1258.6 221.5 L1260.1 224.3 L1261.6 227.2 L1263.1 230.2 L1264.6 233.4 L1266.1 236.6 L1267.6 239.9 L1269.1 243.3 L1270.6 246.8 L1272.1 250.3 L1273.6 253.9 L1275 257.5 L1276.5 261.2 L1278 264.9 L1279.5 268.7 L1281 272.6 L1282.5 276.5 L1284 280.5 L1285.5 284.5 L1287 288.7 L1288.5 292.9 L1290 297.3 L1291.4 301.8 L1292.9 306.4 L1294.4 311.2 L1295.9 316.2 L1297.4 321.2 L1298.9 326.4 L1300.4 331.8 L1301.9 337.2 L1303.4 342.7 L1304.9 348.4 L1306.4 354.1 L1307.9 360 L1309.3 366 L1310.8 372.1 L1312.3 378.3 L1313.8 384.6 L1315.3 391.1 L1316.8 397.6 L1318.3 404.2 L1319.8 410.8 L1321.3 417.4 L1322.8 424 L1324.3 430.5 L1325.7 437 L1327.2 443.4 L1328.7 449.7 L1330.2 456 L1331.7 462.2 L1333.2 468.3 L1334.7 474.5 L1336.2 480.6 L1337.7 486.7 L1339.2 492.9 L1340.7 499 L1342.1 505.1 L1343.6 511.2 L1345.1 517.3 L1346.6 523.3 L1348.1 529.2 L1349.6 535 L1351.1 540.8 L1352.6 546.4 L1354.1 551.9 L1355.6 557.2 L1357.1 562.4 L1358.5 567.4 L1360 572.2 L1361.5 576.9 L1363 581.5 L1364.5 585.9 L1366 590.1 L1367.5 594.3 L1369 598.3 L1370.5 602.3 L1372 606.1 L1373.5 609.9 L1374.9 613.5 L1376.4 617 L1377.9 620.3 L1379.4 623.4 L1380.9 626.4 L1382.4 629.2 L1383.9 631.8 L1385.4 634.3 L1386.9 636.6 L1388.4 638.8 L1389.9 640.8 L1391.4 642.8 L1392.8 644.6 L1394.3 646.3 L1395.8 647.9 L1397.3 649.4 L1398.8 650.9 L1400.3 652.2 L1401.8 653.5 L1403.3 654.8 L1404.8 655.9 L1406.3 657 L1407.8 658.1 L1409.2 659.1 L1410.7 660 L1412.2 661 L1413.7 661.8 L1415.2 662.7 L1416.7 663.5 L1418.2 664.3 L1419.7 665 L1421.2 665.7 L1422.7 666.3 L1424.2 666.9 L1425.6 667.5 L1427.1 668 L1428.6 668.5 L1430.1 669 L1431.6 669.3 L1433.1 669.4 L1434.6 669.8 L1436.1 670 L1437.6 670.4 L1439.1 670.9 L1440.6 671.4 L1442 671.8 L1443.5 672.1 L1445 672.5 L1446.5 672.8 L1448 673.2 L1449.5 673.5 L1451 673.7 L1452.5 673.9 L1454 674.3 L1455.5 674.6 L1457 674.9 L1458.4 675.2 L1459.9 675.5 L1461.4 675.9 L1462.9 676.1 L1464.4 676.4 L1465.9 676.7 L1467.4 676.9 L1468.9 677.2 L1470.4 677.4 L1471.9 677.7 L1473.4 678 L1474.9 678.3 L1476.3 678.5 L1477.8 678.7 L1479.3 678.8 L1480.8 679.1 L1482.3 679.3 L1483.8 679.6 L1485.3 679.7 L1486.8 680.1 L1488.3 680.3 L1489.8 680.5 L1491.3 680.7 L1492.7 680.9 L1494.2 681 L1495.7 681.1 L1497.2 681.2 L1498.7 681.6 L1500.2 681.7 L1501.7 681.9 L1503.2 682.1 L1504.7 682.3 L1506.2 682.3 L1507.7 682.4 L1509.1 682.4 L1510.6 682.6 L1512.1 682.7 L1513.6 682.9 L1515.1 683.1 L1516.6 683.2 L1518.1 683.3 L1519.6 683.3 L1521.1 683.4 L1522.6 683.5 L1524.1 683.7 L1525.5 683.8 L1527 684 L1528.5 683.9 L1530 684 L1531.5 684.1 L1533 684.2 L1534.5 684.3 L1536 684.5 L1537.5 684.6 L1539 684.6 L1540.5 684.7 L1541.9 684.8 L1543.4 684.9 L1544.9 684.9 L1546.4 685 L1547.9 685.1 L1549.4 685.2 L1550.9 685.3 L1552.4 685.3 L1553.9 685.3 L1555.4 685.4 L1556.4 685.5 L1563.8 686 L1571.3 686.2 L1578.7 686.5 L1586.2 686.9 L1593.6 687.3 L1601.1 687.6 L1608.6 687.8 L1616 688.1 L1623.5 688.4 L1630.9 688.6 L1638.4 688.7 L1645.8 688.9 L1653.3 689 L1660.7 689.2 L1668.2 689.2 L1675.6 689.4 L1683.1 689.6 L1690.6 689.9 L1698 690 L1705.5 690.2 L1712.9 690.3 L1720.4 690.3 L1727.8 690.4 L1735.3 690.6 L1742.7 690.8 L1750.2 690.8 L1757.7 690.9 L1765.1 691.1 L1772.6 691.1 L1780 691.1 L1787.5 691.1 L1794.9 691.1 L1802.4 691.2 L1809.8 691.1 L1817.3 691.2 L1824.8 691.2 L1832.2 691.2 L1839.7 691.2 L1847.1 691.2 L1854.6 691.3 L1862 691.2 L1869.5 691.2 L1876.9 691.2 L1884.4 691.2 L1891.9 691.2 L1899.3 691.1 L1906.8 691.2 L1914.2 691 L1921.7 691.1 L1929.1 691 L1936.6 691 L1944 691 L1951.5 691 L1959 691.1 L1966.4 691.1 L1973.9 691.1 L1981.3 691 L1988.8 690.9 L1996.2 690.8 L2003.7 690.9 L2011.1 691 L2018.6 691 L2026.1 691 L2033.5 690.9 L2041 690.9 L2048.4 690.8 L2055.9 690.8 L2063.3 690.8 L2070.8 690.7 L2078.2 690.7 L2085.7 690.6 L2093.2 690.6 L2100.6 690.5 L2108.1 690.5 L2115.5 690.6 L2123 690.6 L2130.4 690.6 L2137.9 690.5 L2145.3 690.4 L2152.8 690.4 L2160.3 690.4 L2167.7 690.3 L2175.2 690.3 L2182.6 690.3 L2190.1 690.3 L2197.5 690.2 L2205 690.2 L2212.4 690.2 L2219.9 690.2 L2227.3 690.2 L2234.8 690.1 L2242.3 690 L2249.7 690" fill="none" stroke="#ff8c1f" stroke-width="4" stroke-linejoin="round"/>
<path d="M363.5 122.8 L371 122.8 L378.4 122.8 L385.9 122.8 L393.3 122.9 L400.8 122.9 L408.2 122.9 L415.7 122.9 L423.1 123 L430.6 123 L438.1 123 L445.5 123 L453 123.1 L460.4 123.1 L467.9 123.1 L475.3 123.2 L482.8 123.2 L490.2 123.2 L497.7 123.3 L505.2 123.3 L512.6 123.3 L520.1 123.4 L527.5 123.4 L535 123.4 L542.4 123.5 L549.9 123.5 L557.3 123.6 L564.8 123.6 L572.3 123.7 L579.7 123.7 L587.2 123.8 L594.6 123.8 L602.1 123.9 L609.5 124 L617 124 L624.4 124.1 L631.9 124.2 L639.3 124.2 L646.8 124.3 L654.3 124.4 L661.7 124.5 L669.2 124.5 L676.6 124.6 L684.1 124.7 L691.5 124.8 L699 124.9 L706.4 125 L713.9 125.1 L721.4 125.2 L728.8 125.4 L736.3 125.5 L743.7 125.6 L751.2 125.7 L758.6 125.9 L766.1 126 L773.5 126.2 L781 126.3 L788.5 126.5 L795.9 126.6 L803.4 126.8 L810.8 126.9 L818.3 127.1 L825.7 127.3 L833.2 127.4 L840.6 127.6 L848.1 127.8 L855.6 128 L863 128.2 L870.5 128.3 L877.9 128.6 L885.4 128.8 L892.8 129 L900.3 129.2 L907.7 129.4 L915.2 129.7 L922.7 129.9 L930.1 130.2 L937.6 130.4 L945 130.7 L952.5 131 L959.9 131.3 L967.4 131.5 L974.8 131.8 L982.3 132.1 L989.8 132.4 L997.2 132.7 L1004.7 133 L1012.1 133.3 L1019.6 133.6 L1027 133.9 L1034.5 134.3 L1041.9 134.6 L1049.4 135 L1056.9 135.3 L1064.3 135.7 L1071.8 136.2 L1079.2 136.6 L1084.2 136.9 L1085.7 137 L1087.2 137.1 L1088.7 137.1 L1090.2 137.2 L1091.6 137.3 L1093.1 137.4 L1094.6 137.5 L1096.1 137.6 L1097.6 137.7 L1099.1 137.8 L1100.6 137.9 L1102.1 138 L1103.6 138.1 L1105.1 138.2 L1106.6 138.3 L1108 138.4 L1109.5 138.5 L1111 138.6 L1112.5 138.7 L1114 138.8 L1115.5 138.9 L1117 139 L1118.5 139.2 L1120 139.3 L1121.5 139.4 L1123 139.5 L1124.4 139.7 L1125.9 139.8 L1127.4 139.9 L1128.9 140.1 L1130.4 140.2 L1131.9 140.4 L1133.4 140.5 L1134.9 140.7 L1136.4 140.9 L1137.9 141 L1139.4 141.2 L1140.8 141.4 L1142.3 141.6 L1143.8 141.8 L1145.3 142 L1146.8 142.2 L1148.3 142.4 L1149.8 142.7 L1151.3 142.9 L1152.8 143.2 L1154.3 143.5 L1155.8 143.9 L1157.3 144.2 L1158.7 144.6 L1160.2 145 L1161.7 145.4 L1163.2 145.9 L1164.7 146.3 L1166.2 146.8 L1167.7 147.3 L1169.2 147.8 L1170.7 148.3 L1172.2 148.9 L1173.7 149.4 L1175.1 150 L1176.6 150.5 L1178.1 151.1 L1179.6 151.7 L1181.1 152.3 L1182.6 152.9 L1184.1 153.4 L1185.6 154 L1187.1 154.6 L1188.6 155.3 L1190.1 155.9 L1191.5 156.5 L1193 157.1 L1194.5 157.8 L1196 158.5 L1197.5 159.2 L1199 159.9 L1200.5 160.6 L1202 161.3 L1203.5 162.1 L1205 162.9 L1206.5 163.8 L1207.9 164.6 L1209.4 165.5 L1210.9 166.5 L1212.4 167.4 L1213.9 168.5 L1215.4 169.6 L1216.9 170.7 L1218.4 171.9 L1219.9 173.1 L1221.4 174.5 L1222.9 175.8 L1224.3 177.2 L1225.8 178.7 L1227.3 180.2 L1228.8 181.7 L1230.3 183.3 L1231.8 184.9 L1233.3 186.5 L1234.8 188.1 L1236.3 189.8 L1237.8 191.5 L1239.3 193.2 L1240.8 194.9 L1242.2 196.7 L1243.7 198.5 L1245.2 200.4 L1246.7 202.3 L1248.2 204.3 L1249.7 206.3 L1251.2 208.5 L1252.7 210.7 L1254.2 213.1 L1255.7 215.5 L1257.2 218.1 L1258.6 220.9 L1260.1 223.7 L1261.6 226.7 L1263.1 229.8 L1264.6 233 L1266.1 236.3 L1267.6 239.7 L1269.1 243.1 L1270.6 246.7 L1272.1 250.2 L1273.6 253.9 L1275 257.6 L1276.5 261.4 L1278 265.2 L1279.5 269 L1281 273 L1282.5 276.9 L1284 281 L1285.5 285.1 L1287 289.2 L1288.5 293.5 L1290 297.9 L1291.4 302.4 L1292.9 307.1 L1294.4 311.9 L1295.9 316.9 L1297.4 322 L1298.9 327.2 L1300.4 332.5 L1301.9 338 L1303.4 343.5 L1304.9 349.2 L1306.4 354.9 L1307.9 360.8 L1309.3 366.8 L1310.8 372.9 L1312.3 379.1 L1313.8 385.4 L1315.3 391.9 L1316.8 398.4 L1318.3 405 L1319.8 411.7 L1321.3 418.3 L1322.8 425 L1324.3 431.6 L1325.7 438.2 L1327.2 444.7 L1328.7 451.1 L1330.2 457.4 L1331.7 463.7 L1333.2 469.9 L1334.7 476.1 L1336.2 482.3 L1337.7 488.5 L1339.2 494.7 L1340.7 500.8 L1342.1 507 L1343.6 513.2 L1345.1 519.3 L1346.6 525.4 L1348.1 531.4 L1349.6 537.4 L1351.1 543.2 L1352.6 549 L1354.1 554.6 L1355.6 560.1 L1357.1 565.4 L1358.5 570.6 L1360 575.6 L1361.5 580.4 L1363 585.1 L1364.5 589.6 L1366 594 L1367.5 598.3 L1369 602.5 L1370.5 606.5 L1372 610.5 L1373.5 614.4 L1374.9 618.1 L1376.4 621.7 L1377.9 625.2 L1379.4 628.5 L1380.9 631.7 L1382.4 634.6 L1383.9 637.4 L1385.4 640 L1386.9 642.5 L1388.4 644.8 L1389.9 647 L1391.4 649.1 L1392.8 651 L1394.3 652.8 L1395.8 654.5 L1397.3 656.1 L1398.8 657.7 L1400.3 659.1 L1401.8 660.5 L1403.3 661.8 L1404.8 663 L1406.3 664.2 L1407.8 665.3 L1409.2 666.3 L1410.7 667.4 L1412.2 668.3 L1413.7 669.3 L1415.2 670.1 L1416.7 671 L1418.2 671.8 L1419.7 672.6 L1421.2 673.3 L1422.7 674 L1424.2 674.6 L1425.6 675.2 L1427.1 675.8 L1428.6 676.3 L1430.1 676.9 L1431.6 677.2 L1433.1 677.1 L1434.6 677.7 L1436.1 678.1 L1437.6 678.5 L1439.1 678.9 L1440.6 679.2 L1442 679.6 L1443.5 680.1 L1445 680.5 L1446.5 680.8 L1448 681.1 L1449.5 681.4 L1451 681.8 L1452.5 682.1 L1454 682.4 L1455.5 682.7 L1457 683 L1458.4 683.3 L1459.9 683.6 L1461.4 683.9 L1462.9 684.1 L1464.4 684.3 L1465.9 684.7 L1467.4 685.1 L1468.9 685.3 L1470.4 685.6 L1471.9 685.8 L1473.4 686.1 L1474.9 686.3 L1476.3 686.6 L1477.8 686.9 L1479.3 687.2 L1480.8 687.3 L1482.3 687.6 L1483.8 687.8 L1485.3 688.1 L1486.8 688.3 L1488.3 688.5 L1489.8 688.6 L1491.3 688.8 L1492.7 689 L1494.2 689.2 L1495.7 689.4 L1497.2 689.6 L1498.7 689.8 L1500.2 689.9 L1501.7 690.1 L1503.2 690.3 L1504.7 690.5 L1506.2 690.5 L1507.7 690.7 L1509.1 690.9 L1510.6 691 L1512.1 691.1 L1513.6 691.1 L1515.1 691.4 L1516.6 691.6 L1518.1 691.7 L1519.6 691.8 L1521.1 691.8 L1522.6 692 L1524.1 692.1 L1525.5 692.2 L1527 692.3 L1528.5 692.3 L1530 692.5 L1531.5 692.6 L1533 692.8 L1534.5 692.9 L1536 692.9 L1537.5 693.1 L1539 693.1 L1540.5 693.2 L1541.9 693.1 L1543.4 693.2 L1544.9 693.3 L1546.4 693.5 L1547.9 693.6 L1549.4 693.7 L1550.9 693.7 L1552.4 693.8 L1553.9 693.8 L1555.4 694 L1556.4 694.1 L1563.8 694.5 L1571.3 694.8 L1578.7 695.1 L1586.2 695.3 L1593.6 695.6 L1601.1 696 L1608.6 696.2 L1616 696.5 L1623.5 696.7 L1630.9 696.9 L1638.4 697.3 L1645.8 697.5 L1653.3 697.6 L1660.7 697.7 L1668.2 697.8 L1675.6 698 L1683.1 698.1 L1690.6 698.3 L1698 698.4 L1705.5 698.6 L1712.9 698.8 L1720.4 699 L1727.8 699 L1735.3 699.1 L1742.7 699.1 L1750.2 699.2 L1757.7 699.5 L1765.1 699.6 L1772.6 699.7 L1780 699.7 L1787.5 699.7 L1794.9 699.8 L1802.4 699.8 L1809.8 699.9 L1817.3 699.9 L1824.8 699.8 L1832.2 699.9 L1839.7 699.8 L1847.1 699.8 L1854.6 699.8 L1862 699.8 L1869.5 699.7 L1876.9 699.7 L1884.4 699.8 L1891.9 699.8 L1899.3 699.8 L1906.8 699.8 L1914.2 699.7 L1921.7 699.8 L1929.1 699.8 L1936.6 699.8 L1944 699.7 L1951.5 699.5 L1959 699.5 L1966.4 699.4 L1973.9 699.6 L1981.3 699.5 L1988.8 699.5 L1996.2 699.5 L2003.7 699.6 L2011.1 699.6 L2018.6 699.6 L2026.1 699.5 L2033.5 699.4 L2041 699.3 L2048.4 699.3 L2055.9 699.3 L2063.3 699.3 L2070.8 699.2 L2078.2 699.3 L2085.7 699.3 L2093.2 699.3 L2100.6 699.2 L2108.1 699.2 L2115.5 699.2 L2123 699.1 L2130.4 699.2 L2137.9 699.1 L2145.3 699.2 L2152.8 699.1 L2160.3 699 L2167.7 698.9 L2175.2 698.9 L2182.6 698.8 L2190.1 698.8 L2197.5 698.7 L2205 698.8 L2212.4 698.7 L2219.9 698.6 L2227.3 698.5 L2234.8 698.5 L2242.3 698.6 L2249.7 698.7" fill="none" stroke="#84b850" stroke-width="4" stroke-linejoin="round"/>
<path d="M363.5 122.8 L371 122.8 L378.4 122.8 L385.9 122.8 L393.3 122.9 L400.8 122.9 L408.2 122.9 L415.7 122.9 L423.1 123 L430.6 123 L438.1 123 L445.5 123 L453 123.1 L460.4 123.1 L467.9 123.1 L475.3 123.2 L482.8 123.2 L490.2 123.2 L497.7 123.3 L505.2 123.3 L512.6 123.3 L520.1 123.4 L527.5 123.4 L535 123.4 L542.4 123.5 L549.9 123.5 L557.3 123.6 L564.8 123.6 L572.3 123.7 L579.7 123.7 L587.2 123.8 L594.6 123.8 L602.1 123.9 L609.5 124 L617 124 L624.4 124.1 L631.9 124.2 L639.3 124.2 L646.8 124.3 L654.3 124.4 L661.7 124.5 L669.2 124.5 L676.6 124.6 L684.1 124.7 L691.5 124.8 L699 124.9 L706.4 125 L713.9 125.1 L721.4 125.2 L728.8 125.3 L736.3 125.4 L743.7 125.6 L751.2 125.7 L758.6 125.8 L766.1 125.9 L773.5 126.1 L781 126.2 L788.5 126.3 L795.9 126.5 L803.4 126.6 L810.8 126.8 L818.3 126.9 L825.7 127.1 L833.2 127.3 L840.6 127.4 L848.1 127.6 L855.6 127.8 L863 127.9 L870.5 128.1 L877.9 128.3 L885.4 128.5 L892.8 128.7 L900.3 128.9 L907.7 129.1 L915.2 129.4 L922.7 129.6 L930.1 129.9 L937.6 130.1 L945 130.4 L952.5 130.6 L959.9 130.9 L967.4 131.2 L974.8 131.4 L982.3 131.7 L989.8 132 L997.2 132.3 L1004.7 132.6 L1012.1 132.9 L1019.6 133.2 L1027 133.5 L1034.5 133.8 L1041.9 134.1 L1049.4 134.5 L1056.9 134.8 L1064.3 135.2 L1071.8 135.6 L1079.2 136.1 L1084.2 136.3 L1085.7 136.4 L1087.2 136.5 L1088.7 136.6 L1090.2 136.7 L1091.6 136.8 L1093.1 136.9 L1094.6 137 L1096.1 137.1 L1097.6 137.2 L1099.1 137.3 L1100.6 137.4 L1102.1 137.5 L1103.6 137.6 L1105.1 137.7 L1106.6 137.8 L1108 137.9 L1109.5 137.9 L1111 138 L1112.5 138.1 L1114 138.3 L1115.5 138.4 L1117 138.5 L1118.5 138.6 L1120 138.7 L1121.5 138.8 L1123 139 L1124.4 139.1 L1125.9 139.2 L1127.4 139.4 L1128.9 139.5 L1130.4 139.7 L1131.9 139.8 L1133.4 140 L1134.9 140.1 L1136.4 140.3 L1137.9 140.5 L1139.4 140.6 L1140.8 140.8 L1142.3 141 L1143.8 141.2 L1145.3 141.4 L1146.8 141.6 L1148.3 141.8 L1149.8 142.1 L1151.3 142.3 L1152.8 142.6 L1154.3 142.9 L1155.8 143.2 L1157.3 143.6 L1158.7 143.9 L1160.2 144.3 L1161.7 144.7 L1163.2 145.2 L1164.7 145.6 L1166.2 146.1 L1167.7 146.6 L1169.2 147.1 L1170.7 147.6 L1172.2 148.2 L1173.7 148.7 L1175.1 149.3 L1176.6 149.8 L1178.1 150.4 L1179.6 151 L1181.1 151.6 L1182.6 152.2 L1184.1 152.7 L1185.6 153.3 L1187.1 153.9 L1188.6 154.6 L1190.1 155.2 L1191.5 155.8 L1193 156.4 L1194.5 157.1 L1196 157.8 L1197.5 158.5 L1199 159.2 L1200.5 159.9 L1202 160.6 L1203.5 161.4 L1205 162.2 L1206.5 163 L1207.9 163.9 L1209.4 164.8 L1210.9 165.7 L1212.4 166.7 L1213.9 167.7 L1215.4 168.8 L1216.9 169.9 L1218.4 171.1 L1219.9 172.3 L1221.4 173.6 L1222.9 174.9 L1224.3 176.4 L1225.8 177.8 L1227.3 179.3 L1228.8 180.8 L1230.3 182.4 L1231.8 184 L1233.3 185.6 L1234.8 187.3 L1236.3 189 L1237.8 190.7 L1239.3 192.4 L1240.8 194.2 L1242.2 195.9 L1243.7 197.8 L1245.2 199.6 L1246.7 201.5 L1248.2 203.5 L1249.7 205.6 L1251.2 207.7 L1252.7 209.9 L1254.2 212.3 L1255.7 214.7 L1257.2 217.3 L1258.6 220 L1260.1 222.8 L1261.6 225.8 L1263.1 228.8 L1264.6 232 L1266.1 235.3 L1267.6 238.7 L1269.1 242.2 L1270.6 245.7 L1272.1 249.3 L1273.6 253 L1275 256.7 L1276.5 260.5 L1278 264.3 L1279.5 268.2 L1281 272.1 L1282.5 276.1 L1284 280.2 L1285.5 284.3 L1287 288.5 L1288.5 292.7 L1290 297.1 L1291.4 301.6 L1292.9 306.3 L1294.4 311.1 L1295.9 316 L1297.4 321.1 L1298.9 326.3 L1300.4 331.6 L1301.9 337 L1303.4 342.6 L1304.9 348.3 L1306.4 354 L1307.9 359.9 L1309.3 365.9 L1310.8 371.9 L1312.3 378.2 L1313.8 384.5 L1315.3 390.9 L1316.8 397.5 L1318.3 404.1 L1319.8 410.8 L1321.3 417.5 L1322.8 424.2 L1324.3 430.9 L1325.7 437.6 L1327.2 444.2 L1328.7 450.7 L1330.2 457.1 L1331.7 463.5 L1333.2 469.8 L1334.7 476 L1336.2 482.3 L1337.7 488.5 L1339.2 494.7 L1340.7 501 L1342.1 507.2 L1343.6 513.4 L1345.1 519.6 L1346.6 525.8 L1348.1 531.9 L1349.6 538 L1351.1 543.9 L1352.6 549.8 L1354.1 555.5 L1355.6 561.1 L1357.1 566.5 L1358.5 571.8 L1360 577 L1361.5 581.9 L1363 586.7 L1364.5 591.4 L1366 595.9 L1367.5 600.3 L1369 604.5 L1370.5 608.7 L1372 612.7 L1373.5 616.7 L1374.9 620.5 L1376.4 624.2 L1377.9 627.8 L1379.4 631.2 L1380.9 634.5 L1382.4 637.6 L1383.9 640.5 L1385.4 643.2 L1386.9 645.8 L1388.4 648.2 L1389.9 650.4 L1391.4 652.6 L1392.8 654.6 L1394.3 656.4 L1395.8 658.2 L1397.3 659.9 L1398.8 661.5 L1400.3 663 L1401.8 664.4 L1403.3 665.8 L1404.8 667 L1406.3 668.2 L1407.8 669.4 L1409.2 670.5 L1410.7 671.5 L1412.2 672.5 L1413.7 673.5 L1415.2 674.4 L1416.7 675.3 L1418.2 676.1 L1419.7 676.9 L1421.2 677.7 L1422.7 678.4 L1424.2 679.1 L1425.6 679.7 L1427.1 680.3 L1428.6 680.8 L1430.1 681.4 L1431.6 681.7 L1433.1 681.7 L1434.6 682.1 L1436.1 682.6 L1437.6 683.1 L1439.1 683.6 L1440.6 684 L1442 684.3 L1443.5 684.7 L1445 685 L1446.5 685.4 L1448 685.8 L1449.5 686.1 L1451 686.4 L1452.5 686.7 L1454 687.1 L1455.5 687.3 L1457 687.6 L1458.4 687.8 L1459.9 688.2 L1461.4 688.5 L1462.9 688.8 L1464.4 689.2 L1465.9 689.3 L1467.4 689.6 L1468.9 689.8 L1470.4 690.1 L1471.9 690.3 L1473.4 690.7 L1474.9 691.1 L1476.3 691.5 L1477.8 691.6 L1479.3 691.9 L1480.8 692.1 L1482.3 692.4 L1483.8 692.6 L1485.3 692.8 L1486.8 693.1 L1488.3 693.3 L1489.8 693.6 L1491.3 693.7 L1492.7 693.9 L1494.2 694.1 L1495.7 694.2 L1497.2 694.5 L1498.7 694.6 L1500.2 694.8 L1501.7 694.9 L1503.2 695.1 L1504.7 695.3 L1506.2 695.3 L1507.7 695.4 L1509.1 695.5 L1510.6 695.7 L1512.1 696 L1513.6 696.2 L1515.1 696.3 L1516.6 696.5 L1518.1 696.6 L1519.6 696.6 L1521.1 696.7 L1522.6 696.8 L1524.1 696.9 L1525.5 696.9 L1527 697 L1528.5 697.1 L1530 697.3 L1531.5 697.4 L1533 697.6 L1534.5 697.6 L1536 697.6 L1537.5 697.8 L1539 698 L1540.5 698.1 L1541.9 698.1 L1543.4 698.2 L1544.9 698.3 L1546.4 698.3 L1547.9 698.4 L1549.4 698.5 L1550.9 698.7 L1552.4 698.7 L1553.9 698.8 L1555.4 698.9 L1556.4 698.8 L1563.8 699.3 L1571.3 699.7 L1578.7 700 L1586.2 700.2 L1593.6 700.5 L1601.1 700.7 L1608.6 701 L1616 701.4 L1623.5 701.7 L1630.9 701.8 L1638.4 702 L1645.8 702.2 L1653.3 702.4 L1660.7 702.6 L1668.2 702.8 L1675.6 702.9 L1683.1 703 L1690.6 703.2 L1698 703.4 L1705.5 703.6 L1712.9 703.7 L1720.4 703.8 L1727.8 703.9 L1735.3 704.2 L1742.7 704.3 L1750.2 704.4 L1757.7 704.4 L1765.1 704.5 L1772.6 704.6 L1780 704.6 L1787.5 704.7 L1794.9 704.7 L1802.4 704.7 L1809.8 704.8 L1817.3 704.9 L1824.8 704.8 L1832.2 704.8 L1839.7 704.6 L1847.1 704.7 L1854.6 704.7 L1862 704.7 L1869.5 704.7 L1876.9 704.8 L1884.4 704.8 L1891.9 704.8 L1899.3 704.7 L1906.8 704.7 L1914.2 704.8 L1921.7 704.8 L1929.1 704.7 L1936.6 704.7 L1944 704.7 L1951.5 704.8 L1959 704.8 L1966.4 704.7 L1973.9 704.7 L1981.3 704.6 L1988.8 704.6 L1996.2 704.7 L2003.7 704.6 L2011.1 704.5 L2018.6 704.4 L2026.1 704.4 L2033.5 704.3 L2041 704.3 L2048.4 704.3 L2055.9 704.4 L2063.3 704.3 L2070.8 704.3 L2078.2 704.3 L2085.7 704.2 L2093.2 704.1 L2100.6 704.1 L2108.1 704.2 L2115.5 704.1 L2123 703.9 L2130.4 703.9 L2137.9 704 L2145.3 704 L2152.8 704 L2160.3 703.9 L2167.7 704 L2175.2 704 L2182.6 704 L2190.1 703.8 L2197.5 703.7 L2205 703.7 L2212.4 703.7 L2219.9 703.8 L2227.3 703.7 L2234.8 703.7 L2242.3 703.6 L2249.7 703.6" fill="none" stroke="#2f7f1b" stroke-width="4" stroke-linejoin="round"/>
<path d="M363.5 836.1 L369.7 836 L375.9 836.1 L382.1 836.2 L388.4 836.7 L394.6 836.5 L400.8 836.8 L407 836.4 L413.2 836.5 L419.4 836.5 L425.6 836.6 L431.8 836.7 L438.1 836.7 L444.3 836.4 L450.5 836.3 L456.7 836.5 L462.9 837.3 L469.1 837.4 L475.3 837.1 L481.5 837.1 L487.8 836.9 L494 837 L500.2 837.1 L506.4 837.5 L512.6 837.6 L518.8 837.8 L525 837.9 L531.2 838.3 L537.5 838.1 L543.7 837.8 L549.9 837.7 L556.1 837.5 L562.3 838 L568.5 837.8 L574.7 838 L580.9 838 L587.2 838.1 L593.4 838.3 L599.6 838 L605.8 837.9 L612 837.3 L618.2 837.8 L624.4 837.5 L630.7 837.9 L636.9 837.5 L643.1 837.8 L649.3 837.4 L655.5 837.2 L661.7 836.9 L667.9 837.3 L674.1 838.2 L680.4 838.3 L686.6 838.4 L692.8 837.9 L699 838 L705.2 837.7 L711.4 837.6 L717.6 837.9 L723.8 838.4 L730.1 838.4 L736.3 838 L742.5 837.7 L748.7 837.7 L754.9 838.1 L761.1 838.6 L767.3 838.5 L773.5 838.3 L779.8 838.5 L786 838.9 L792.2 838.8 L798.4 838.1 L804.6 838.2 L810.8 837.9 L817 837.8 L823.2 837.5 L829.5 838.1 L835.7 838.8 L841.9 838.8 L848.1 838.4 L854.3 837.9 L860.5 838.3 L866.7 838.5 L873 838.9 L879.2 839.2 L885.4 839.5 L891.6 840 L897.8 839.5 L904 839.3 L910.2 838.5 L916.4 837.9 L922.7 838 L928.9 838.6 L935.1 839.1 L941.3 839.2 L947.5 839.1 L953.7 839.7 L959.9 840 L966.1 840.1 L972.4 839.9 L978.6 839.9 L984.8 839.7 L991 839.5 L997.2 839.3 L1003.4 839.7 L1009.6 839.8 L1015.8 840.7 L1022.1 840.7 L1028.3 841.5 L1034.5 841.5 L1040.7 841.4 L1046.9 841.5 L1053.1 841.2 L1059.3 841.4 L1065.5 841.3 L1071.8 842.1 L1078 843.2 L1084.2 844 L1085.4 844.1 L1086.7 844.2 L1087.9 844.1 L1089.2 844.4 L1090.4 844.1 L1091.6 844.7 L1092.9 844.5 L1094.1 844.5 L1095.4 844.5 L1096.6 844.4 L1097.9 844.4 L1099.1 844.2 L1100.3 845.1 L1101.6 845.6 L1102.8 846.3 L1104.1 846.3 L1105.3 846.9 L1106.6 846.7 L1107.8 847 L1109 846.8 L1110.3 847.1 L1111.5 847.4 L1112.8 847.7 L1114 848 L1115.3 848.4 L1116.5 848.7 L1117.7 849.1 L1119 849.4 L1120.2 849.8 L1121.5 850.2 L1122.7 850.6 L1124 851 L1125.2 851.4 L1126.4 851.8 L1127.7 852.2 L1128.9 852.6 L1130.2 853 L1131.4 853.5 L1132.6 853.9 L1133.9 854.4 L1135.1 854.9 L1136.4 855.3 L1137.6 855.8 L1138.9 856.3 L1140.1 856.8 L1141.3 857.4 L1142.6 857.9 L1143.8 858.5 L1145.1 859 L1146.3 859.6 L1147.6 860.2 L1148.8 860.8 L1150 861.5 L1151.3 862.1 L1152.5 862.8 L1153.8 863.5 L1155 864.2 L1156.3 864.9 L1157.5 865.7 L1158.7 866.4 L1160 867.2 L1161.2 868 L1162.5 868.8 L1163.7 869.6 L1165 870.5 L1166.2 871.3 L1167.4 872.2 L1168.7 873.1 L1169.9 874 L1171.2 875 L1172.4 876 L1173.7 877 L1174.9 878 L1176.1 879.1 L1177.4 880.2 L1178.6 881.4 L1179.9 882.6 L1181.1 883.8 L1182.4 885.1 L1183.6 886.4 L1184.8 887.8 L1186.1 889.3 L1187.3 890.8 L1188.6 892.4 L1189.8 894.1 L1191 895.9 L1192.3 897.7 L1193.5 899.7 L1194.8 901.7 L1196 903.9 L1197.3 906.1 L1198.5 908.5 L1199.7 910.9 L1201 913.4 L1202.2 916 L1203.5 918.7 L1204.7 921.4 L1206 924.2 L1207.2 927.1 L1208.4 930 L1209.7 932.9 L1210.9 935.9 L1212.2 938.9 L1213.4 942 L1214.7 945 L1215.9 948.1 L1217.1 951.2 L1218.4 954.3 L1219.6 957.4 L1220.9 960.6 L1222.1 963.8 L1223.4 967 L1224.6 970.2 L1225.8 973.5 L1227.1 976.9 L1228.3 980.5 L1229.6 984.1 L1230.8 987.8 L1232.1 991.7 L1233.3 995.7 L1234.5 999.8 L1235.8 1004.1 L1237 1008.5 L1238.3 1013.1 L1239.5 1017.8 L1240.8 1022.6 L1242 1027.6 L1243.2 1032.7 L1244.5 1038 L1245.7 1043.5 L1247 1049.1 L1248.2 1055 L1249.4 1061 L1250.7 1067.3 L1251.9 1073.8 L1253.2 1080.4 L1254.4 1087.2 L1255.7 1094.1 L1256.9 1101.2 L1258.1 1108.2 L1259.4 1115.3 L1260.6 1122.3 L1261.9 1129.2 L1263.1 1136.1 L1264.4 1142.9 L1265.6 1149.6 L1266.8 1156.2 L1268.1 1162.8 L1269.3 1169.3 L1270.6 1175.7 L1271.8 1182.1 L1273.1 1188.5 L1274.3 1194.9 L1275.5 1201.3 L1276.8 1207.7 L1278 1214 L1279.3 1220.5 L1280.5 1226.9 L1281.8 1233.3 L1283 1239.8 L1284.2 1246.3 L1285.5 1252.7 L1286.7 1259.2 L1288 1265.5 L1289.2 1271.8 L1290.5 1278 L1291.7 1283.9 L1292.9 1289.7 L1294.2 1295.3 L1295.4 1300.5 L1296.7 1305.6 L1297.9 1310.3 L1299.2 1318.3 L1300.4 1322.1 L1301.6 1325.6 L1302.9 1328.9 L1304.1 1331.9 L1305.4 1334.8 L1306.6 1337.5 L1307.8 1340 L1309.1 1342.5 L1310.3 1345 L1311.6 1347.4 L1312.8 1349.9 L1314.1 1352.3 L1315.3 1354.9 L1316.5 1357.5 L1317.8 1360.3 L1319 1363.3 L1320.3 1366.4 L1321.5 1369.8 L1322.8 1373.5 L1324 1377.3 L1325.2 1381 L1326.5 1384.6 L1327.7 1387.9 L1329 1390.8 L1330.2 1393 L1331.5 1394.4 L1332.7 1394.8 L1333.9 1394.3 L1335.2 1393.1 L1336.4 1391.4 L1337.7 1389.2 L1338.9 1386.6 L1340.2 1383.5 L1341.4 1379.7 L1342.6 1375.4 L1343.9 1370.2 L1345.1 1364.3 L1346.4 1357.5 L1347.6 1350 L1348.9 1341.9 L1350.1 1333.6 L1351.3 1325.3 L1352.6 1317.1 L1353.8 1309.2 L1355.1 1301.6 L1356.3 1294.1 L1357.6 1286.2 L1358.8 1278.1 L1360 1270 L1361.3 1261.7 L1362.5 1253.1 L1363.8 1244.4 L1365 1235.4 L1366.3 1226.1 L1367.5 1216.6 L1368.7 1206.7 L1370 1196.6 L1371.2 1186.1 L1372.5 1175.4 L1373.7 1164.5 L1374.9 1153.4 L1376.2 1142.2 L1377.4 1130.8 L1378.7 1119.5 L1379.9 1108.2 L1381.2 1097 L1382.4 1086 L1383.6 1075.3 L1384.9 1064.9 L1386.1 1054.8 L1387.4 1045.1 L1388.6 1035.7 L1389.9 1026.8 L1391.1 1018.3 L1392.3 1010.1 L1393.6 1002.3 L1394.8 994.8 L1396.1 987.7 L1397.3 980.9 L1398.6 974.3 L1399.8 968 L1401 962 L1402.3 956.3 L1403.5 950.8 L1404.8 945.6 L1406 940.6 L1407.3 935.9 L1408.5 931.4 L1409.7 927.2 L1411 923.1 L1412.2 919.4 L1413.5 915.8 L1414.7 912.5 L1416 909.3 L1417.2 906.4 L1418.4 903.6 L1419.7 901 L1420.9 898.5 L1422.2 896.2 L1423.4 894 L1424.7 891.9 L1425.9 889.9 L1427.1 888.1 L1428.4 886.3 L1429.6 884.6 L1430.9 883 L1432.1 881.5 L1433.3 880 L1434.6 878.6 L1435.8 877.2 L1437.1 875.9 L1438.3 874.6 L1439.6 873.4 L1440.8 872.3 L1442 871.2 L1443.3 870.1 L1444.5 869.1 L1445.8 868.1 L1447 867.3 L1448.3 866.4 L1449.5 865.6 L1450.7 864.9 L1452 864.2 L1453.2 863.6 L1454.5 863 L1455.7 862.5 L1457 861.9 L1458.2 861 L1459.4 861.3 L1460.7 860.9 L1461.9 860.5 L1463.2 859.7 L1464.4 858.4 L1465.7 858.3 L1466.9 858.1 L1468.1 858.5 L1469.4 857.5 L1470.6 856.7 L1471.9 856 L1473.1 856.3 L1474.4 857.2 L1475.6 856.9 L1476.8 856.9 L1478.1 856.1 L1479.3 856.4 L1480.6 855.3 L1481.8 855 L1483.1 853.7 L1484.3 854 L1485.5 854 L1486.8 853.4 L1488 852.9 L1489.3 853.1 L1490.5 853.7 L1491.7 854 L1493 853.5 L1494.2 852.3 L1495.5 852.5 L1496.7 851.3 L1498 852.7 L1499.2 851.4 L1500.4 852.1 L1501.7 852.1 L1502.9 852.3 L1504.2 851.7 L1505.4 851 L1506.7 850.4 L1507.9 851.1 L1509.1 850.1 L1510.4 850.1 L1511.6 848.5 L1512.9 849 L1514.1 848.7 L1515.4 849.5 L1516.6 848.9 L1517.8 849 L1519.1 848.3 L1520.3 849 L1521.6 848.8 L1522.8 848.8 L1524.1 847.5 L1525.3 847.7 L1526.5 847.9 L1527.8 848.1 L1529 847.6 L1530.3 848.5 L1531.5 848.8 L1532.8 848.5 L1534 847.5 L1535.2 848.1 L1536.5 848.5 L1537.7 848.2 L1539 847.8 L1540.2 847.5 L1541.5 847.9 L1542.7 847.5 L1543.9 847.4 L1545.2 846.1 L1546.4 845.8 L1547.7 845.2 L1548.9 845.8 L1550.2 846.3 L1551.4 847.2 L1552.6 846.9 L1553.9 847 L1555.1 847.1 L1556.4 847 L1562.6 846.3 L1568.8 845.7 L1575 845.1 L1581.2 844.8 L1587.4 843.8 L1593.6 844.2 L1599.9 843.5 L1606.1 843.4 L1612.3 842.7 L1618.5 841.9 L1624.7 842 L1630.9 841.6 L1637.1 842 L1643.3 841.4 L1649.6 841.5 L1655.8 841.4 L1662 841.5 L1668.2 840.9 L1674.4 840.7 L1680.6 840.9 L1686.8 842.7 L1693 842.1 L1699.3 841.1 L1705.5 838.8 L1711.7 839.2 L1717.9 839.5 L1724.1 840 L1730.3 838.8 L1736.5 837.5 L1742.7 837.4 L1749 838 L1755.2 838.4 L1761.4 837.7 L1767.6 837.3 L1773.8 837.4 L1780 837.7 L1786.2 837.5 L1792.5 837.1 L1798.7 836.3 L1804.9 836 L1811.1 835.9 L1817.3 836.8 L1823.5 837 L1829.7 836.8 L1835.9 836.2 L1842.2 836.3 L1848.4 836.6 L1854.6 837 L1860.8 837 L1867 836.3 L1873.2 836.5 L1879.4 836 L1885.6 836 L1891.9 835.9 L1898.1 836.3 L1904.3 836.7 L1910.5 836.1 L1916.7 835.6 L1922.9 835.5 L1929.1 835.2 L1935.3 835.4 L1941.6 835.7 L1947.8 835.9 L1954 835.6 L1960.2 834.9 L1966.4 834.7 L1972.6 835.2 L1978.8 836.4 L1985 836.6 L1991.3 836.1 L1997.5 835.1 L2003.7 835.7 L2009.9 835.3 L2016.1 835.5 L2022.3 834.8 L2028.5 834.8 L2034.8 834.6 L2041 834.8 L2047.2 835.5 L2053.4 834.4 L2059.6 834.9 L2065.8 834.3 L2072 836 L2078.2 835.7 L2084.5 835.4 L2090.7 835 L2096.9 834.2 L2103.1 835 L2109.3 834.3 L2115.5 835.3 L2121.7 835.5 L2127.9 835.3 L2134.2 834.5 L2140.4 834.5 L2146.6 835.2 L2152.8 836.5 L2159 836.2 L2165.2 836.5 L2171.4 835.7 L2177.6 835 L2183.9 834.6 L2190.1 834.5 L2196.3 835.5 L2202.5 835 L2208.7 834.5 L2214.9 834.4 L2221.1 835.3 L2227.3 835.6 L2233.6 835.2 L2239.8 835.3 L2246 834.7 L2252.2 834.7" fill="none" stroke="#d8ea7c" stroke-width="4" stroke-linejoin="round"/>
<path d="M363.5 836.1 L369.7 835.8 L375.9 835.7 L382.1 835.9 L388.4 836.4 L394.6 836.7 L400.8 837.1 L407 837.3 L413.2 836.9 L419.4 836.7 L425.6 836.5 L431.8 836.9 L438.1 837.2 L444.3 837.6 L450.5 837.7 L456.7 837.3 L462.9 837 L469.1 837 L475.3 837.2 L481.5 837.6 L487.8 837.3 L494 837.5 L500.2 837.2 L506.4 837 L512.6 837.4 L518.8 837.8 L525 838.5 L531.2 837.9 L537.5 838 L543.7 837.9 L549.9 837.9 L556.1 837.5 L562.3 838.1 L568.5 837.9 L574.7 837.6 L580.9 837 L587.2 837.3 L593.4 837.9 L599.6 838.6 L605.8 838.4 L612 837.9 L618.2 837.1 L624.4 838 L630.7 838.5 L636.9 838.7 L643.1 838.1 L649.3 837.8 L655.5 838.2 L661.7 838.3 L667.9 838.4 L674.1 837.8 L680.4 837.6 L686.6 837.5 L692.8 837.6 L699 837.9 L705.2 837.9 L711.4 838.2 L717.6 838.3 L723.8 838.6 L730.1 838.1 L736.3 837.5 L742.5 837.4 L748.7 837.8 L754.9 838.6 L761.1 838.7 L767.3 838.8 L773.5 838.8 L779.8 839.2 L786 839.4 L792.2 838.6 L798.4 838.4 L804.6 838.2 L810.8 838.4 L817 838.8 L823.2 839.3 L829.5 839.4 L835.7 839.2 L841.9 838.7 L848.1 838.8 L854.3 838.9 L860.5 838.8 L866.7 838.7 L873 838.8 L879.2 839.4 L885.4 840.1 L891.6 840.3 L897.8 840 L904 839.2 L910.2 839 L916.4 838.8 L922.7 838.8 L928.9 838.2 L935.1 838.3 L941.3 838.3 L947.5 838.9 L953.7 839.3 L959.9 840.3 L966.1 840.3 L972.4 839.9 L978.6 838.9 L984.8 839.2 L991 839.4 L997.2 840.2 L1003.4 840.7 L1009.6 840.9 L1015.8 841.1 L1022.1 841.1 L1028.3 840.9 L1034.5 841.2 L1040.7 841 L1046.9 841.8 L1053.1 842.1 L1059.3 842.6 L1065.5 842.8 L1071.8 843.2 L1078 844.1 L1084.2 844.4 L1085.4 844.3 L1086.7 844.3 L1087.9 844.9 L1089.2 845.5 L1090.4 845.5 L1091.6 845.4 L1092.9 845.7 L1094.1 845.7 L1095.4 845.9 L1096.6 845.7 L1097.9 846.2 L1099.1 846.7 L1100.3 847 L1101.6 847.7 L1102.8 847.6 L1104.1 847.9 L1105.3 847.8 L1106.6 848.5 L1107.8 848.6 L1109 849.1 L1110.3 849.4 L1111.5 849.8 L1112.8 850.2 L1114 850.6 L1115.3 851 L1116.5 851.4 L1117.7 851.8 L1119 852.2 L1120.2 852.6 L1121.5 853 L1122.7 853.5 L1124 853.9 L1125.2 854.4 L1126.4 854.9 L1127.7 855.3 L1128.9 855.8 L1130.2 856.3 L1131.4 856.8 L1132.6 857.4 L1133.9 857.9 L1135.1 858.5 L1136.4 859 L1137.6 859.6 L1138.9 860.2 L1140.1 860.8 L1141.3 861.5 L1142.6 862.1 L1143.8 862.8 L1145.1 863.5 L1146.3 864.2 L1147.6 864.9 L1148.8 865.7 L1150 866.4 L1151.3 867.2 L1152.5 868 L1153.8 868.8 L1155 869.6 L1156.3 870.5 L1157.5 871.3 L1158.7 872.2 L1160 873.1 L1161.2 874 L1162.5 875 L1163.7 876 L1165 877 L1166.2 878 L1167.4 879.1 L1168.7 880.2 L1169.9 881.4 L1171.2 882.6 L1172.4 883.8 L1173.7 885.1 L1174.9 886.4 L1176.1 887.8 L1177.4 889.3 L1178.6 890.8 L1179.9 892.4 L1181.1 894.1 L1182.4 895.9 L1183.6 897.7 L1184.8 899.7 L1186.1 901.7 L1187.3 903.9 L1188.6 906.1 L1189.8 908.5 L1191 910.9 L1192.3 913.4 L1193.5 916 L1194.8 918.7 L1196 921.4 L1197.3 924.2 L1198.5 927.1 L1199.7 930 L1201 932.9 L1202.2 935.9 L1203.5 938.9 L1204.7 942 L1206 945 L1207.2 948.1 L1208.4 951.2 L1209.7 954.3 L1210.9 957.4 L1212.2 960.6 L1213.4 963.8 L1214.7 967 L1215.9 970.2 L1217.1 973.5 L1218.4 976.9 L1219.6 980.5 L1220.9 984.1 L1222.1 987.8 L1223.4 991.7 L1224.6 995.7 L1225.8 999.8 L1227.1 1004.1 L1228.3 1008.5 L1229.6 1013.1 L1230.8 1017.8 L1232.1 1022.6 L1233.3 1027.6 L1234.5 1032.7 L1235.8 1038 L1237 1043.5 L1238.3 1049.1 L1239.5 1055 L1240.8 1061 L1242 1067.3 L1243.2 1073.8 L1244.5 1080.4 L1245.7 1087.2 L1247 1094.1 L1248.2 1101.2 L1249.4 1108.2 L1250.7 1115.3 L1251.9 1122.3 L1253.2 1129.2 L1254.4 1136.1 L1255.7 1142.9 L1256.9 1149.6 L1258.1 1156.2 L1259.4 1162.8 L1260.6 1169.3 L1261.9 1175.7 L1263.1 1182.1 L1264.4 1188.5 L1265.6 1194.9 L1266.8 1201.3 L1268.1 1207.7 L1269.3 1214.1 L1270.6 1220.5 L1271.8 1227 L1273.1 1233.4 L1274.3 1239.9 L1275.5 1246.4 L1276.8 1252.9 L1278 1259.4 L1279.3 1265.8 L1280.5 1272 L1281.8 1278.2 L1283 1284.2 L1284.2 1289.9 L1285.5 1295.5 L1286.7 1300.7 L1288 1305.7 L1289.2 1310.4 L1290.5 1314.7 L1291.7 1318.8 L1292.9 1322.7 L1294.2 1326.3 L1295.4 1329.6 L1296.7 1332.8 L1297.9 1335.8 L1299.2 1339.9 L1300.4 1342.4 L1301.6 1344.9 L1302.9 1347.2 L1304.1 1349.5 L1305.4 1351.7 L1306.6 1353.9 L1307.8 1356 L1309.1 1358.2 L1310.3 1360.3 L1311.6 1362.4 L1312.8 1364.5 L1314.1 1366.7 L1315.3 1368.9 L1316.5 1371.2 L1317.8 1373.6 L1319 1375.8 L1320.3 1377.8 L1321.5 1379.2 L1322.8 1379.7 L1324 1379.3 L1325.2 1378.1 L1326.5 1376.2 L1327.7 1374 L1329 1371.5 L1330.2 1368.8 L1331.5 1365.9 L1332.7 1362.7 L1333.9 1359.4 L1335.2 1356 L1336.4 1352.3 L1337.7 1348.5 L1338.9 1344.5 L1340.2 1340.3 L1341.4 1335.9 L1342.6 1331.3 L1343.9 1326.4 L1345.1 1321.3 L1346.4 1315.9 L1347.6 1310 L1348.9 1303.7 L1350.1 1296.9 L1351.3 1289.7 L1352.6 1282 L1353.8 1273.9 L1355.1 1265.6 L1356.3 1257 L1357.6 1245.2 L1358.8 1236.2 L1360 1226.8 L1361.3 1217.1 L1362.5 1207.1 L1363.8 1196.9 L1365 1186.3 L1366.3 1175.6 L1367.5 1164.6 L1368.7 1153.5 L1370 1142.2 L1371.2 1130.8 L1372.5 1119.5 L1373.7 1108.2 L1374.9 1097 L1376.2 1086 L1377.4 1075.3 L1378.7 1064.9 L1379.9 1054.8 L1381.2 1045.1 L1382.4 1035.7 L1383.6 1026.8 L1384.9 1018.3 L1386.1 1010.1 L1387.4 1002.3 L1388.6 994.8 L1389.9 987.7 L1391.1 980.9 L1392.3 974.3 L1393.6 968 L1394.8 962 L1396.1 956.3 L1397.3 950.8 L1398.6 945.6 L1399.8 940.6 L1401 935.9 L1402.3 931.4 L1403.5 927.2 L1404.8 923.1 L1406 919.4 L1407.3 915.8 L1408.5 912.5 L1409.7 909.3 L1411 906.4 L1412.2 903.6 L1413.5 901 L1414.7 898.5 L1416 896.2 L1417.2 894 L1418.4 891.9 L1419.7 889.9 L1420.9 888.1 L1422.2 886.3 L1423.4 884.6 L1424.7 883 L1425.9 881.5 L1427.1 880 L1428.4 878.6 L1429.6 877.2 L1430.9 875.9 L1432.1 874.6 L1433.3 873.4 L1434.6 872.3 L1435.8 871.2 L1437.1 870.1 L1438.3 869.1 L1439.6 868.1 L1440.8 867.3 L1442 866.4 L1443.3 865.6 L1444.5 864.9 L1445.8 864.2 L1447 863.6 L1448.3 863 L1449.5 862.5 L1450.7 861.9 L1452 861.5 L1453.2 861 L1454.5 860.6 L1455.7 860.2 L1457 859.8 L1458.2 859.1 L1459.4 859.2 L1460.7 859.3 L1461.9 859.6 L1463.2 858.6 L1464.4 858.8 L1465.7 858.4 L1466.9 858.1 L1468.1 857.4 L1469.4 857.3 L1470.6 856.7 L1471.9 855.5 L1473.1 855.2 L1474.4 854.5 L1475.6 855.4 L1476.8 854.7 L1478.1 855.3 L1479.3 855.4 L1480.6 854.4 L1481.8 853.9 L1483.1 853.3 L1484.3 853.7 L1485.5 854.3 L1486.8 853.9 L1488 853.2 L1489.3 853.1 L1490.5 852.9 L1491.7 853 L1493 851.6 L1494.2 850.7 L1495.5 850.7 L1496.7 851.2 L1498 851.4 L1499.2 851.2 L1500.4 850.8 L1501.7 850.4 L1502.9 849.3 L1504.2 848.9 L1505.4 849.3 L1506.7 849.6 L1507.9 850.3 L1509.1 850.1 L1510.4 850.6 L1511.6 848.7 L1512.9 848.2 L1514.1 847.6 L1515.4 848.5 L1516.6 849.7 L1517.8 849.4 L1519.1 848.5 L1520.3 847.6 L1521.6 847.5 L1522.8 847.8 L1524.1 848 L1525.3 847.8 L1526.5 847.4 L1527.8 846.6 L1529 846.9 L1530.3 847 L1531.5 847.7 L1532.8 847.5 L1534 847.3 L1535.2 847.1 L1536.5 846.6 L1537.7 847.2 L1539 847.4 L1540.2 847.8 L1541.5 847.9 L1542.7 846.8 L1543.9 847.2 L1545.2 846.3 L1546.4 846.6 L1547.7 845.9 L1548.9 846.5 L1550.2 846.3 L1551.4 845.8 L1552.6 845.4 L1553.9 845.4 L1555.1 846.3 L1556.4 845.8 L1562.6 845 L1568.8 844.3 L1575 844.4 L1581.2 844.8 L1587.4 844.8 L1593.6 844.9 L1599.9 844.1 L1606.1 843.3 L1612.3 843 L1618.5 842.6 L1624.7 842.1 L1630.9 841.4 L1637.1 841.1 L1643.3 841.3 L1649.6 841.1 L1655.8 841.1 L1662 840.8 L1668.2 840.2 L1674.4 840.6 L1680.6 839.8 L1686.8 840.2 L1693 839.6 L1699.3 840.5 L1705.5 839.8 L1711.7 839 L1717.9 837.8 L1724.1 837.5 L1730.3 838.5 L1736.5 839.1 L1742.7 839.5 L1749 839.1 L1755.2 838.2 L1761.4 837.8 L1767.6 837.3 L1773.8 837.4 L1780 837.7 L1786.2 838 L1792.5 838.4 L1798.7 837.7 L1804.9 837.1 L1811.1 836.4 L1817.3 836 L1823.5 836.6 L1829.7 837 L1835.9 837.3 L1842.2 837.2 L1848.4 837.1 L1854.6 836.7 L1860.8 835.6 L1867 834.9 L1873.2 835.2 L1879.4 835.7 L1885.6 835.7 L1891.9 835.8 L1898.1 835.5 L1904.3 835.4 L1910.5 835.3 L1916.7 835.7 L1922.9 836.2 L1929.1 835.8 L1935.3 835.3 L1941.6 835.2 L1947.8 835.2 L1954 836 L1960.2 836.4 L1966.4 836.5 L1972.6 836.2 L1978.8 836.4 L1985 836.9 L1991.3 836.9 L1997.5 836.4 L2003.7 836.3 L2009.9 835.8 L2016.1 835 L2022.3 834.6 L2028.5 834.1 L2034.8 834.7 L2041 835 L2047.2 835.6 L2053.4 836.1 L2059.6 835.3 L2065.8 835.7 L2072 834.7 L2078.2 834.7 L2084.5 835.1 L2090.7 835.3 L2096.9 834.8 L2103.1 834.3 L2109.3 834.2 L2115.5 835.5 L2121.7 835.1 L2127.9 836.1 L2134.2 835.2 L2140.4 836 L2146.6 836.4 L2152.8 836.4 L2159 834.7 L2165.2 833.8 L2171.4 833.6 L2177.6 834.5 L2183.9 834.3 L2190.1 834.4 L2196.3 833.7 L2202.5 834.1 L2208.7 834.1 L2214.9 834.6 L2221.1 834.7 L2227.3 834.2 L2233.6 833.5 L2239.8 833.3 L2246 833.2 L2252.2 834" fill="none" stroke="#ffd34f" stroke-width="4" stroke-linejoin="round"/>
<path d="M363.5 835.8 L369.7 836.2 L375.9 836 L382.1 836.4 L388.4 836.2 L394.6 836.8 L400.8 837.1 L407 837 L413.2 836.7 L419.4 836.4 L425.6 836.2 L431.8 836.8 L438.1 837.4 L444.3 837.2 L450.5 836.6 L456.7 835.8 L462.9 835.9 L469.1 836.4 L475.3 836.7 L481.5 836.9 L487.8 836.6 L494 837.1 L500.2 837.3 L506.4 837.4 L512.6 837.1 L518.8 837.1 L525 836.7 L531.2 837.1 L537.5 837.1 L543.7 837.4 L549.9 837.4 L556.1 837.8 L562.3 837.7 L568.5 837.4 L574.7 837.2 L580.9 837.4 L587.2 837.7 L593.4 837.6 L599.6 837.9 L605.8 837.7 L612 837.6 L618.2 837.5 L624.4 837.4 L630.7 837.9 L636.9 837.9 L643.1 838.5 L649.3 838.3 L655.5 838.2 L661.7 837.9 L667.9 838 L674.1 837.7 L680.4 837.4 L686.6 837.6 L692.8 837.7 L699 838.5 L705.2 838.4 L711.4 838.7 L717.6 838.3 L723.8 838.4 L730.1 838.6 L736.3 838.6 L742.5 838.5 L748.7 838.6 L754.9 838.4 L761.1 838.1 L767.3 838 L773.5 838.2 L779.8 838.4 L786 838.5 L792.2 838.7 L798.4 839 L804.6 838.7 L810.8 838.6 L817 838.5 L823.2 838.6 L829.5 838.5 L835.7 838.1 L841.9 838.3 L848.1 838.5 L854.3 838.8 L860.5 839 L866.7 838.6 L873 838.5 L879.2 838.1 L885.4 838.5 L891.6 838.6 L897.8 838.5 L904 838.4 L910.2 838.7 L916.4 839.4 L922.7 839.3 L928.9 839.4 L935.1 839.3 L941.3 839.3 L947.5 839.2 L953.7 839.4 L959.9 839.7 L966.1 839.9 L972.4 839.4 L978.6 839.9 L984.8 840.1 L991 840.4 L997.2 839.8 L1003.4 840.1 L1009.6 840.9 L1015.8 841.7 L1022.1 841.5 L1028.3 840.8 L1034.5 840.3 L1040.7 840.5 L1046.9 841.1 L1053.1 841.6 L1059.3 842 L1065.5 842.2 L1071.8 842.8 L1078 843 L1084.2 843.6 L1085.4 844 L1086.7 844.4 L1087.9 844.3 L1089.2 844.4 L1090.4 844.7 L1091.6 844.8 L1092.9 844.4 L1094.1 844.2 L1095.4 844.2 L1096.6 844.4 L1097.9 845.2 L1099.1 846 L1100.3 846.6 L1101.6 846.6 L1102.8 846.8 L1104.1 846.8 L1105.3 847.1 L1106.6 847.2 L1107.8 848 L1109 847.4 L1110.3 847.7 L1111.5 848 L1112.8 848.4 L1114 848.7 L1115.3 849.1 L1116.5 849.4 L1117.7 849.8 L1119 850.2 L1120.2 850.6 L1121.5 851 L1122.7 851.4 L1124 851.8 L1125.2 852.2 L1126.4 852.6 L1127.7 853 L1128.9 853.5 L1130.2 853.9 L1131.4 854.4 L1132.6 854.9 L1133.9 855.3 L1135.1 855.8 L1136.4 856.3 L1137.6 856.8 L1138.9 857.4 L1140.1 857.9 L1141.3 858.5 L1142.6 859 L1143.8 859.6 L1145.1 860.2 L1146.3 860.8 L1147.6 861.5 L1148.8 862.1 L1150 862.8 L1151.3 863.5 L1152.5 864.2 L1153.8 864.9 L1155 865.7 L1156.3 866.4 L1157.5 867.2 L1158.7 868 L1160 868.8 L1161.2 869.6 L1162.5 870.5 L1163.7 871.3 L1165 872.2 L1166.2 873.1 L1167.4 874 L1168.7 875 L1169.9 876 L1171.2 877 L1172.4 878 L1173.7 879.1 L1174.9 880.2 L1176.1 881.4 L1177.4 882.6 L1178.6 883.8 L1179.9 885.1 L1181.1 886.4 L1182.4 887.8 L1183.6 889.3 L1184.8 890.8 L1186.1 892.4 L1187.3 894.1 L1188.6 895.9 L1189.8 897.7 L1191 899.7 L1192.3 901.7 L1193.5 903.9 L1194.8 906.1 L1196 908.5 L1197.3 910.9 L1198.5 913.4 L1199.7 916 L1201 918.7 L1202.2 921.4 L1203.5 924.2 L1204.7 927.1 L1206 930 L1207.2 932.9 L1208.4 935.9 L1209.7 938.9 L1210.9 942 L1212.2 945 L1213.4 948.1 L1214.7 951.2 L1215.9 954.3 L1217.1 957.4 L1218.4 960.6 L1219.6 963.8 L1220.9 967 L1222.1 970.2 L1223.4 973.5 L1224.6 976.9 L1225.8 980.5 L1227.1 984.1 L1228.3 987.8 L1229.6 991.7 L1230.8 995.7 L1232.1 999.8 L1233.3 1004.1 L1234.5 1008.5 L1235.8 1013.1 L1237 1017.8 L1238.3 1022.6 L1239.5 1027.6 L1240.8 1032.7 L1242 1038 L1243.2 1043.5 L1244.5 1049.1 L1245.7 1055 L1247 1061 L1248.2 1067.3 L1249.4 1073.8 L1250.7 1080.4 L1251.9 1087.2 L1253.2 1094.1 L1254.4 1101.2 L1255.7 1108.2 L1256.9 1115.3 L1258.1 1122.3 L1259.4 1129.2 L1260.6 1136.1 L1261.9 1142.9 L1263.1 1149.6 L1264.4 1156.2 L1265.6 1162.8 L1266.8 1169.3 L1268.1 1175.7 L1269.3 1182.1 L1270.6 1188.5 L1271.8 1194.9 L1273.1 1201.2 L1274.3 1207.6 L1275.5 1214 L1276.8 1220.3 L1278 1226.7 L1279.3 1233.1 L1280.5 1239.5 L1281.8 1245.9 L1283 1252.3 L1284.2 1258.7 L1285.5 1265 L1286.7 1271.3 L1288 1277.4 L1289.2 1283.5 L1290.5 1289.4 L1291.7 1295.2 L1292.9 1300.8 L1294.2 1306.2 L1295.4 1311.4 L1296.7 1316.4 L1297.9 1321.2 L1299.2 1327.9 L1300.4 1332.1 L1301.6 1336.1 L1302.9 1339.9 L1304.1 1343.7 L1305.4 1347.3 L1306.6 1351 L1307.8 1354.6 L1309.1 1358.2 L1310.3 1361.8 L1311.6 1365.5 L1312.8 1369.4 L1314.1 1373.4 L1315.3 1377.4 L1316.5 1381.1 L1317.8 1384.2 L1319 1386.5 L1320.3 1388 L1321.5 1388.9 L1322.8 1389.3 L1324 1389.1 L1325.2 1388.3 L1326.5 1386.8 L1327.7 1384.6 L1329 1382.1 L1330.2 1379.3 L1331.5 1376.1 L1332.7 1372.6 L1333.9 1368.6 L1335.2 1364.4 L1336.4 1360.1 L1337.7 1355.7 L1338.9 1351.3 L1340.2 1346.8 L1341.4 1342.2 L1342.6 1337.4 L1343.9 1332.4 L1345.1 1327.2 L1346.4 1321.8 L1347.6 1316 L1348.9 1309.8 L1350.1 1303.2 L1351.3 1296.3 L1352.6 1289 L1353.8 1281.4 L1355.1 1273.4 L1356.3 1265.2 L1357.6 1253.8 L1358.8 1245 L1360 1236 L1361.3 1226.6 L1362.5 1217 L1363.8 1207 L1365 1196.8 L1366.3 1186.3 L1367.5 1175.6 L1368.7 1164.6 L1370 1153.5 L1371.2 1142.2 L1372.5 1130.8 L1373.7 1119.5 L1374.9 1108.2 L1376.2 1097 L1377.4 1086 L1378.7 1075.3 L1379.9 1064.9 L1381.2 1054.8 L1382.4 1045.1 L1383.6 1035.7 L1384.9 1026.8 L1386.1 1018.3 L1387.4 1010.1 L1388.6 1002.3 L1389.9 994.8 L1391.1 987.7 L1392.3 980.9 L1393.6 974.3 L1394.8 968 L1396.1 962 L1397.3 956.3 L1398.6 950.8 L1399.8 945.6 L1401 940.6 L1402.3 935.9 L1403.5 931.4 L1404.8 927.2 L1406 923.1 L1407.3 919.4 L1408.5 915.8 L1409.7 912.5 L1411 909.3 L1412.2 906.4 L1413.5 903.6 L1414.7 901 L1416 898.5 L1417.2 896.2 L1418.4 894 L1419.7 891.9 L1420.9 889.9 L1422.2 888.1 L1423.4 886.3 L1424.7 884.6 L1425.9 883 L1427.1 881.5 L1428.4 880 L1429.6 878.6 L1430.9 877.2 L1432.1 875.9 L1433.3 874.6 L1434.6 873.4 L1435.8 872.3 L1437.1 871.2 L1438.3 870.1 L1439.6 869.1 L1440.8 868.1 L1442 867.3 L1443.3 866.4 L1444.5 865.6 L1445.8 864.9 L1447 864.2 L1448.3 863.6 L1449.5 863 L1450.7 862.5 L1452 861.9 L1453.2 861.5 L1454.5 861 L1455.7 860.6 L1457 860.2 L1458.2 859.3 L1459.4 859.6 L1460.7 858.8 L1461.9 858.5 L1463.2 858.4 L1464.4 858.2 L1465.7 858.3 L1466.9 858.1 L1468.1 858.3 L1469.4 857.3 L1470.6 857 L1471.9 855.9 L1473.1 855.8 L1474.4 855.7 L1475.6 855.3 L1476.8 855.6 L1478.1 854.7 L1479.3 854.2 L1480.6 853.9 L1481.8 854.3 L1483.1 855.1 L1484.3 853.6 L1485.5 853.1 L1486.8 853 L1488 853.4 L1489.3 853.1 L1490.5 852.3 L1491.7 852.9 L1493 853.5 L1494.2 853.6 L1495.5 853.4 L1496.7 852.9 L1498 852.9 L1499.2 852.6 L1500.4 851.4 L1501.7 850.5 L1502.9 849.7 L1504.2 850.1 L1505.4 850.7 L1506.7 850.6 L1507.9 850.1 L1509.1 849 L1510.4 848.9 L1511.6 849 L1512.9 849.2 L1514.1 849.4 L1515.4 849.5 L1516.6 849.3 L1517.8 849.3 L1519.1 848.8 L1520.3 848.7 L1521.6 847.9 L1522.8 847.6 L1524.1 848.3 L1525.3 848.3 L1526.5 848.5 L1527.8 847.7 L1529 847.3 L1530.3 847.1 L1531.5 846.5 L1532.8 846.3 L1534 846.3 L1535.2 847.3 L1536.5 847.4 L1537.7 847.5 L1539 846.4 L1540.2 846.1 L1541.5 845.9 L1542.7 846.8 L1543.9 847.3 L1545.2 847.2 L1546.4 846.3 L1547.7 845.5 L1548.9 845.3 L1550.2 845.7 L1551.4 846.7 L1552.6 846.3 L1553.9 846.4 L1555.1 845 L1556.4 845.3 L1562.6 845 L1568.8 845.2 L1575 845 L1581.2 844 L1587.4 843.6 L1593.6 842.9 L1599.9 843.1 L1606.1 843.1 L1612.3 842.8 L1618.5 842.6 L1624.7 841.4 L1630.9 841.3 L1637.1 841 L1643.3 841.6 L1649.6 841.6 L1655.8 841.6 L1662 840.6 L1668.2 840.2 L1674.4 839.4 L1680.6 839.8 L1686.8 839.8 L1693 840.8 L1699.3 840.1 L1705.5 838.9 L1711.7 838 L1717.9 837.6 L1724.1 837.9 L1730.3 837.9 L1736.5 838 L1742.7 838.6 L1749 838.3 L1755.2 838 L1761.4 837.4 L1767.6 837.6 L1773.8 837.4 L1780 837.8 L1786.2 837.2 L1792.5 837.9 L1798.7 837.3 L1804.9 837.5 L1811.1 837.9 L1817.3 837 L1823.5 836.9 L1829.7 836.5 L1835.9 838.2 L1842.2 837.7 L1848.4 836.7 L1854.6 835 L1860.8 833.9 L1867 833.7 L1873.2 834.1 L1879.4 835.2 L1885.6 835.1 L1891.9 835.3 L1898.1 835.2 L1904.3 836.1 L1910.5 836 L1916.7 835.2 L1922.9 834.8 L1929.1 834.7 L1935.3 836.5 L1941.6 835.8 L1947.8 835.8 L1954 834.2 L1960.2 834.6 L1966.4 835.1 L1972.6 836.3 L1978.8 836.1 L1985 835.8 L1991.3 835.6 L1997.5 835.8 L2003.7 836 L2009.9 835.3 L2016.1 835.4 L2022.3 835.6 L2028.5 835.9 L2034.8 836 L2041 834.8 L2047.2 835 L2053.4 835.3 L2059.6 835.9 L2065.8 835.8 L2072 835.1 L2078.2 835 L2084.5 835.3 L2090.7 835.4 L2096.9 835.5 L2103.1 835.5 L2109.3 835.7 L2115.5 835.6 L2121.7 835.7 L2127.9 835.9 L2134.2 836.2 L2140.4 835.5 L2146.6 834.8 L2152.8 835.2 L2159 835 L2165.2 834.9 L2171.4 833.7 L2177.6 834 L2183.9 834.6 L2190.1 835.9 L2196.3 835.4 L2202.5 834.5 L2208.7 834.1 L2214.9 834.1 L2221.1 834.3 L2227.3 833.6 L2233.6 833.9 L2239.8 834 L2246 834.4 L2252.2 834.2" fill="none" stroke="#ff8c1f" stroke-width="4" stroke-linejoin="round"/>
<path d="M363.5 836.9 L369.7 837.2 L375.9 837.1 L382.1 836.5 L388.4 836.6 L394.6 836.3 L400.8 836.4 L407 836.1 L413.2 836.6 L419.4 836.8 L425.6 836.5 L431.8 835.8 L438.1 835.8 L444.3 835.7 L450.5 836.4 L456.7 836.9 L462.9 837.7 L469.1 837.9 L475.3 837.8 L481.5 837.4 L487.8 837.5 L494 837.2 L500.2 837.3 L506.4 837.2 L512.6 837.6 L518.8 837.1 L525 837 L531.2 837 L537.5 837.8 L543.7 837.4 L549.9 837.4 L556.1 836.9 L562.3 837 L568.5 837.5 L574.7 837.4 L580.9 837.9 L587.2 837.6 L593.4 838.1 L599.6 837.9 L605.8 837.6 L612 837.4 L618.2 837.7 L624.4 837.5 L630.7 837.3 L636.9 836.7 L643.1 836.8 L649.3 836.7 L655.5 836.7 L661.7 836.8 L667.9 837.1 L674.1 837.4 L680.4 837.5 L686.6 837.5 L692.8 838.1 L699 838.3 L705.2 838.4 L711.4 838.6 L717.6 838.9 L723.8 838.6 L730.1 838.4 L736.3 838.2 L742.5 838.5 L748.7 838.4 L754.9 838.5 L761.1 838.8 L767.3 838.8 L773.5 838.7 L779.8 838.6 L786 838.1 L792.2 837.9 L798.4 837.6 L804.6 837.9 L810.8 837.8 L817 838 L823.2 838.3 L829.5 838.4 L835.7 838.5 L841.9 838.8 L848.1 838.7 L854.3 838.7 L860.5 838.3 L866.7 838.7 L873 839.5 L879.2 839.3 L885.4 839.2 L891.6 839.1 L897.8 839.3 L904 839.5 L910.2 838.9 L916.4 839.1 L922.7 838.7 L928.9 838.9 L935.1 838.8 L941.3 839.1 L947.5 838.9 L953.7 839.3 L959.9 839.2 L966.1 839.4 L972.4 839.3 L978.6 839.6 L984.8 840 L991 840 L997.2 839.9 L1003.4 840.1 L1009.6 840.1 L1015.8 840.2 L1022.1 840.1 L1028.3 840.1 L1034.5 840.5 L1040.7 840.7 L1046.9 840.7 L1053.1 841 L1059.3 841.5 L1065.5 842.5 L1071.8 842.7 L1078 843.3 L1084.2 843.9 L1085.4 844.6 L1086.7 844.8 L1087.9 845.1 L1089.2 845.1 L1090.4 845.1 L1091.6 844.8 L1092.9 844.8 L1094.1 845.1 L1095.4 845.4 L1096.6 845.5 L1097.9 845.7 L1099.1 845.9 L1100.3 846.4 L1101.6 846.4 L1102.8 846.9 L1104.1 846.7 L1105.3 847 L1106.6 847.2 L1107.8 847.6 L1109 847.7 L1110.3 848 L1111.5 848.4 L1112.8 848.7 L1114 849.1 L1115.3 849.4 L1116.5 849.8 L1117.7 850.2 L1119 850.6 L1120.2 851 L1121.5 851.4 L1122.7 851.8 L1124 852.2 L1125.2 852.6 L1126.4 853 L1127.7 853.5 L1128.9 853.9 L1130.2 854.4 L1131.4 854.9 L1132.6 855.3 L1133.9 855.8 L1135.1 856.3 L1136.4 856.8 L1137.6 857.4 L1138.9 857.9 L1140.1 858.5 L1141.3 859 L1142.6 859.6 L1143.8 860.2 L1145.1 860.8 L1146.3 861.5 L1147.6 862.1 L1148.8 862.8 L1150 863.5 L1151.3 864.2 L1152.5 864.9 L1153.8 865.7 L1155 866.4 L1156.3 867.2 L1157.5 868 L1158.7 868.8 L1160 869.6 L1161.2 870.5 L1162.5 871.3 L1163.7 872.2 L1165 873.1 L1166.2 874 L1167.4 875 L1168.7 876 L1169.9 877 L1171.2 878 L1172.4 879.1 L1173.7 880.2 L1174.9 881.4 L1176.1 882.6 L1177.4 883.8 L1178.6 885.1 L1179.9 886.4 L1181.1 887.8 L1182.4 889.3 L1183.6 890.8 L1184.8 892.4 L1186.1 894.1 L1187.3 895.9 L1188.6 897.7 L1189.8 899.7 L1191 901.7 L1192.3 903.9 L1193.5 906.1 L1194.8 908.5 L1196 910.9 L1197.3 913.4 L1198.5 916 L1199.7 918.7 L1201 921.4 L1202.2 924.2 L1203.5 927.1 L1204.7 930 L1206 932.9 L1207.2 935.9 L1208.4 938.9 L1209.7 942 L1210.9 945 L1212.2 948.1 L1213.4 951.2 L1214.7 954.3 L1215.9 957.4 L1217.1 960.6 L1218.4 963.8 L1219.6 967 L1220.9 970.2 L1222.1 973.5 L1223.4 976.9 L1224.6 980.5 L1225.8 984.1 L1227.1 987.8 L1228.3 991.7 L1229.6 995.7 L1230.8 999.8 L1232.1 1004.1 L1233.3 1008.5 L1234.5 1013.1 L1235.8 1017.8 L1237 1022.6 L1238.3 1027.6 L1239.5 1032.7 L1240.8 1038 L1242 1043.5 L1243.2 1049.1 L1244.5 1055 L1245.7 1061 L1247 1067.3 L1248.2 1073.8 L1249.4 1080.4 L1250.7 1087.2 L1251.9 1094.1 L1253.2 1101.2 L1254.4 1108.2 L1255.7 1115.3 L1256.9 1122.3 L1258.1 1129.2 L1259.4 1136.1 L1260.6 1142.9 L1261.9 1149.6 L1263.1 1156.2 L1264.4 1162.8 L1265.6 1169.3 L1266.8 1175.7 L1268.1 1182.1 L1269.3 1188.5 L1270.6 1194.8 L1271.8 1201.2 L1273.1 1207.5 L1274.3 1213.9 L1275.5 1220.2 L1276.8 1226.5 L1278 1232.9 L1279.3 1239.2 L1280.5 1245.5 L1281.8 1251.8 L1283 1258.1 L1284.2 1264.4 L1285.5 1270.7 L1286.7 1276.9 L1288 1283 L1289.2 1289.1 L1290.5 1295 L1291.7 1300.9 L1292.9 1306.7 L1294.2 1312.4 L1295.4 1318 L1296.7 1323.5 L1297.9 1328.9 L1299.2 1334.8 L1300.4 1339.7 L1301.6 1344.6 L1302.9 1349.5 L1304.1 1354.6 L1305.4 1359.9 L1306.6 1365.5 L1307.8 1371.4 L1309.1 1377.4 L1310.3 1383.5 L1311.6 1389.5 L1312.8 1395.2 L1314.1 1400.8 L1315.3 1406.2 L1316.5 1411.2 L1317.8 1415.7 L1319 1419.4 L1320.3 1422.2 L1321.5 1424.2 L1322.8 1425.3 L1324 1425.7 L1325.2 1425.1 L1326.5 1423.7 L1327.7 1421.4 L1329 1418.7 L1330.2 1415.4 L1331.5 1411.6 L1332.7 1407.2 L1333.9 1402.3 L1335.2 1397.1 L1336.4 1391.9 L1337.7 1386.5 L1338.9 1380.6 L1340.2 1374.1 L1341.4 1367.1 L1342.6 1359.7 L1343.9 1352 L1345.1 1344.1 L1346.4 1336 L1347.6 1328 L1348.9 1320 L1350.1 1312.2 L1351.3 1304.6 L1352.6 1297 L1353.8 1289.6 L1355.1 1282.1 L1356.3 1274.6 L1357.6 1264.9 L1358.8 1256.5 L1360 1247.9 L1361.3 1239 L1362.5 1229.9 L1363.8 1220.4 L1365 1210.7 L1366.3 1200.7 L1367.5 1190.3 L1368.7 1179.8 L1370 1168.9 L1371.2 1157.9 L1372.5 1146.7 L1373.7 1135.4 L1374.9 1124 L1376.2 1112.7 L1377.4 1101.5 L1378.7 1090.4 L1379.9 1079.6 L1381.2 1069 L1382.4 1058.8 L1383.6 1048.9 L1384.9 1039.4 L1386.1 1030.3 L1387.4 1021.6 L1388.6 1013.3 L1389.9 1005.4 L1391.1 997.8 L1392.3 990.5 L1393.6 983.6 L1394.8 976.9 L1396.1 970.5 L1397.3 964.4 L1398.6 958.6 L1399.8 953 L1401 947.6 L1402.3 942.6 L1403.5 937.7 L1404.8 933.2 L1406 928.8 L1407.3 924.7 L1408.5 920.9 L1409.7 917.2 L1411 913.8 L1412.2 910.6 L1413.5 907.5 L1414.7 904.7 L1416 902 L1417.2 899.5 L1418.4 897.1 L1419.7 894.8 L1420.9 892.7 L1422.2 890.7 L1423.4 888.8 L1424.7 887 L1425.9 885.3 L1427.1 883.7 L1428.4 882.1 L1429.6 880.6 L1430.9 879.1 L1432.1 877.8 L1433.3 876.4 L1434.6 875.1 L1435.8 873.9 L1437.1 872.7 L1438.3 871.6 L1439.6 870.5 L1440.8 869.5 L1442 868.5 L1443.3 867.6 L1444.5 866.7 L1445.8 865.9 L1447 865.2 L1448.3 864.5 L1449.5 863.8 L1450.7 863.2 L1452 862.7 L1453.2 862.1 L1454.5 861.7 L1455.7 861.2 L1457 860.8 L1458.2 861.1 L1459.4 859.9 L1460.7 860.3 L1461.9 859.7 L1463.2 859.9 L1464.4 858.6 L1465.7 858.1 L1466.9 857.2 L1468.1 857.1 L1469.4 857.3 L1470.6 856.5 L1471.9 855.4 L1473.1 854.7 L1474.4 855.2 L1475.6 855.1 L1476.8 855 L1478.1 855 L1479.3 855.6 L1480.6 855.3 L1481.8 854.6 L1483.1 853.5 L1484.3 853.6 L1485.5 853 L1486.8 853.4 L1488 852.4 L1489.3 852.5 L1490.5 852.4 L1491.7 853.1 L1493 853.1 L1494.2 852.8 L1495.5 851.8 L1496.7 851.8 L1498 852.1 L1499.2 852.3 L1500.4 851 L1501.7 849.5 L1502.9 849.6 L1504.2 850.3 L1505.4 850.7 L1506.7 850.5 L1507.9 850.3 L1509.1 850.4 L1510.4 850.4 L1511.6 850.4 L1512.9 850.3 L1514.1 849.6 L1515.4 849.7 L1516.6 849.3 L1517.8 849.7 L1519.1 849.4 L1520.3 849.8 L1521.6 847.6 L1522.8 846.6 L1524.1 845.5 L1525.3 846.7 L1526.5 847.2 L1527.8 847.6 L1529 847.7 L1530.3 847.3 L1531.5 847 L1532.8 846.4 L1534 847.7 L1535.2 848.1 L1536.5 848.4 L1537.7 847.2 L1539 846.9 L1540.2 846.5 L1541.5 846.2 L1542.7 845.3 L1543.9 845.8 L1545.2 845.7 L1546.4 846.8 L1547.7 847.6 L1548.9 847.7 L1550.2 847.2 L1551.4 846.4 L1552.6 846.7 L1553.9 846.4 L1555.1 846.2 L1556.4 845.5 L1562.6 845.7 L1568.8 844.7 L1575 843.8 L1581.2 843 L1587.4 843.5 L1593.6 843.7 L1599.9 842.8 L1606.1 841.4 L1612.3 841.2 L1618.5 841.8 L1624.7 843.5 L1630.9 842 L1637.1 842.1 L1643.3 840.7 L1649.6 841.4 L1655.8 840.1 L1662 840.6 L1668.2 841.3 L1674.4 841.5 L1680.6 840.8 L1686.8 839.4 L1693 839.9 L1699.3 840.1 L1705.5 840.5 L1711.7 840.1 L1717.9 839.8 L1724.1 839.2 L1730.3 838.5 L1736.5 838.9 L1742.7 838.9 L1749 838.4 L1755.2 837.4 L1761.4 837.1 L1767.6 838 L1773.8 837.9 L1780 837.8 L1786.2 837.2 L1792.5 837.3 L1798.7 837.7 L1804.9 836.9 L1811.1 836.9 L1817.3 836.9 L1823.5 837.2 L1829.7 836.9 L1835.9 836.2 L1842.2 836.5 L1848.4 836.8 L1854.6 836.8 L1860.8 835.5 L1867 834.9 L1873.2 835.6 L1879.4 836.4 L1885.6 836.9 L1891.9 837 L1898.1 837.3 L1904.3 837.2 L1910.5 836.2 L1916.7 835.4 L1922.9 834.6 L1929.1 834.4 L1935.3 835.1 L1941.6 835.5 L1947.8 835.8 L1954 835 L1960.2 835.3 L1966.4 835.5 L1972.6 835.4 L1978.8 834.9 L1985 834.8 L1991.3 835.3 L1997.5 835.5 L2003.7 835.2 L2009.9 834.9 L2016.1 834.8 L2022.3 834.9 L2028.5 835.4 L2034.8 836.3 L2041 836.3 L2047.2 835.6 L2053.4 834.8 L2059.6 834.8 L2065.8 835.4 L2072 835.8 L2078.2 835.4 L2084.5 834.4 L2090.7 833.3 L2096.9 832.9 L2103.1 833.4 L2109.3 834.2 L2115.5 835.2 L2121.7 835.5 L2127.9 835.5 L2134.2 834.6 L2140.4 834.5 L2146.6 834.6 L2152.8 834.7 L2159 833.5 L2165.2 833.6 L2171.4 833.3 L2177.6 834.3 L2183.9 833.9 L2190.1 834.7 L2196.3 834.9 L2202.5 834.7 L2208.7 834.1 L2214.9 833.8 L2221.1 833.7 L2227.3 834.3 L2233.6 834.4 L2239.8 834.7 L2246 834.9 L2252.2 835" fill="none" stroke="#a3622b" stroke-width="4" stroke-linejoin="round"/>
<path d="M363.5 836 L369.7 836.1 L375.9 836.8 L382.1 836.8 L388.4 837.3 L394.6 836.6 L400.8 836.6 L407 836 L413.2 836 L419.4 836.2 L425.6 836.5 L431.8 836.8 L438.1 836.6 L444.3 836.7 L450.5 836.7 L456.7 837.3 L462.9 837.3 L469.1 837.3 L475.3 837.2 L481.5 837.1 L487.8 837.2 L494 837.4 L500.2 837.4 L506.4 837.7 L512.6 837.5 L518.8 837.3 L525 837.2 L531.2 837.2 L537.5 836.9 L543.7 837 L549.9 837.4 L556.1 838.2 L562.3 837.5 L568.5 836.7 L574.7 836.9 L580.9 837.2 L587.2 837.7 L593.4 837.6 L599.6 838.2 L605.8 838 L612 838.1 L618.2 837.6 L624.4 837.9 L630.7 837.2 L636.9 837.1 L643.1 837.4 L649.3 837.9 L655.5 838 L661.7 838 L667.9 838.1 L674.1 838.3 L680.4 838.4 L686.6 838.6 L692.8 839.1 L699 838.7 L705.2 838.5 L711.4 837.9 L717.6 838 L723.8 837.8 L730.1 838 L736.3 837.9 L742.5 838.1 L748.7 838.3 L754.9 838.3 L761.1 838 L767.3 837.3 L773.5 837.6 L779.8 838 L786 838.9 L792.2 839.8 L798.4 840 L804.6 839.6 L810.8 838.9 L817 839.3 L823.2 839.3 L829.5 839.2 L835.7 838.7 L841.9 839 L848.1 838.9 L854.3 838.7 L860.5 839.1 L866.7 839.1 L873 839.4 L879.2 838.7 L885.4 839 L891.6 838.5 L897.8 838.6 L904 838 L910.2 838.6 L916.4 838.6 L922.7 839 L928.9 839.2 L935.1 839.5 L941.3 839.8 L947.5 839.7 L953.7 839.9 L959.9 840.2 L966.1 840.1 L972.4 839.9 L978.6 839.8 L984.8 840.2 L991 840.1 L997.2 840.2 L1003.4 839.9 L1009.6 840.4 L1015.8 840.5 L1022.1 840.6 L1028.3 840.8 L1034.5 840.9 L1040.7 841.6 L1046.9 842.1 L1053.1 842.4 L1059.3 841.9 L1065.5 841.8 L1071.8 841.7 L1078 842.5 L1084.2 842.9 L1085.4 843.6 L1086.7 843.8 L1087.9 843.6 L1089.2 843.3 L1090.4 843.6 L1091.6 844.2 L1092.9 844.3 L1094.1 844.4 L1095.4 844.2 L1096.6 844.9 L1097.9 844.8 L1099.1 844.8 L1100.3 844.6 L1101.6 844.9 L1102.8 845.4 L1104.1 845.9 L1105.3 846.2 L1106.6 846.2 L1107.8 846.1 L1109 846.9 L1110.3 847.2 L1111.5 847.5 L1112.8 847.8 L1114 848.2 L1115.3 848.5 L1116.5 848.8 L1117.7 849.2 L1119 849.6 L1120.2 849.9 L1121.5 850.3 L1122.7 850.7 L1124 851.1 L1125.2 851.5 L1126.4 851.9 L1127.7 852.4 L1128.9 852.8 L1130.2 853.2 L1131.4 853.7 L1132.6 854.1 L1133.9 854.6 L1135.1 855.1 L1136.4 855.5 L1137.6 856 L1138.9 856.5 L1140.1 857 L1141.3 857.6 L1142.6 858.1 L1143.8 858.7 L1145.1 859.3 L1146.3 859.9 L1147.6 860.5 L1148.8 861.1 L1150 861.7 L1151.3 862.4 L1152.5 863.1 L1153.8 863.8 L1155 864.5 L1156.3 865.2 L1157.5 866 L1158.7 866.7 L1160 867.5 L1161.2 868.3 L1162.5 869.1 L1163.7 870 L1165 870.8 L1166.2 871.7 L1167.4 872.6 L1168.7 873.5 L1169.9 874.4 L1171.2 875.4 L1172.4 876.4 L1173.7 877.4 L1174.9 878.5 L1176.1 879.6 L1177.4 880.7 L1178.6 881.8 L1179.9 883.1 L1181.1 884.3 L1182.4 885.6 L1183.6 887 L1184.8 888.4 L1186.1 889.9 L1187.3 891.4 L1188.6 893.1 L1189.8 894.8 L1191 896.6 L1192.3 898.5 L1193.5 900.5 L1194.8 902.6 L1196 904.8 L1197.3 907.1 L1198.5 909.4 L1199.7 911.9 L1201 914.4 L1202.2 917.1 L1203.5 919.8 L1204.7 922.5 L1206 925.3 L1207.2 928.2 L1208.4 931.1 L1209.7 934.1 L1210.9 937.1 L1212.2 940.1 L1213.4 943.2 L1214.7 946.3 L1215.9 949.4 L1217.1 952.5 L1218.4 955.6 L1219.6 958.7 L1220.9 961.9 L1222.1 965 L1223.4 968.3 L1224.6 971.5 L1225.8 974.9 L1227.1 978.3 L1228.3 981.9 L1229.6 985.5 L1230.8 989.3 L1232.1 993.3 L1233.3 997.3 L1234.5 1001.5 L1235.8 1005.9 L1237 1010.3 L1238.3 1015 L1239.5 1019.7 L1240.8 1024.6 L1242 1029.6 L1243.2 1034.8 L1244.5 1040.2 L1245.7 1045.7 L1247 1051.4 L1248.2 1057.4 L1249.4 1063.5 L1250.7 1069.9 L1251.9 1076.4 L1253.2 1083.1 L1254.4 1090 L1255.7 1096.9 L1256.9 1104 L1258.1 1111 L1259.4 1118.1 L1260.6 1125.1 L1261.9 1132 L1263.1 1138.8 L1264.4 1145.6 L1265.6 1152.3 L1266.8 1158.9 L1268.1 1165.4 L1269.3 1171.9 L1270.6 1178.3 L1271.8 1184.7 L1273.1 1191 L1274.3 1197.4 L1275.5 1203.7 L1276.8 1210.1 L1278 1216.4 L1279.3 1222.8 L1280.5 1229.1 L1281.8 1235.5 L1283 1241.8 L1284.2 1248.1 L1285.5 1254.5 L1286.7 1260.8 L1288 1267.1 L1289.2 1273.3 L1290.5 1279.5 L1291.7 1285.6 L1292.9 1291.6 L1294.2 1297.5 L1295.4 1303.3 L1296.7 1308.9 L1297.9 1314.5 L1299.2 1321.5 L1300.4 1326.7 L1301.6 1331.7 L1302.9 1336.5 L1304.1 1341.2 L1305.4 1345.9 L1306.6 1350.6 L1307.8 1355.2 L1309.1 1359.9 L1310.3 1364.7 L1311.6 1369.5 L1312.8 1374.5 L1314.1 1379.5 L1315.3 1384.7 L1316.5 1389.9 L1317.8 1395.4 L1319 1400.9 L1320.3 1406.2 L1321.5 1410.9 L1322.8 1414.5 L1324 1416.7 L1325.2 1417.7 L1326.5 1417.7 L1327.7 1417.1 L1329 1415.8 L1330.2 1413.5 L1331.5 1410.1 L1332.7 1405.6 L1333.9 1400.4 L1335.2 1394.8 L1336.4 1389.2 L1337.7 1383.4 L1338.9 1377.6 L1340.2 1371.7 L1341.4 1365.7 L1342.6 1359.5 L1343.9 1353.3 L1345.1 1347 L1346.4 1340.5 L1347.6 1334 L1348.9 1327.3 L1350.1 1320.5 L1351.3 1313.6 L1352.6 1306.5 L1353.8 1299.4 L1355.1 1292.1 L1356.3 1284.6 L1357.6 1274.8 L1358.8 1266.8 L1360 1258.5 L1361.3 1249.9 L1362.5 1241.1 L1363.8 1231.9 L1365 1222.5 L1366.3 1212.8 L1367.5 1202.8 L1368.7 1192.5 L1370 1182 L1371.2 1171.1 L1372.5 1160.1 L1373.7 1148.9 L1374.9 1137.6 L1376.2 1126.3 L1377.4 1115 L1378.7 1103.7 L1379.9 1092.6 L1381.2 1081.7 L1382.4 1071.1 L1383.6 1060.8 L1384.9 1050.8 L1386.1 1041.3 L1387.4 1032.1 L1388.6 1023.3 L1389.9 1014.9 L1391.1 1006.9 L1392.3 999.3 L1393.6 991.9 L1394.8 984.9 L1396.1 978.2 L1397.3 971.8 L1398.6 965.6 L1399.8 959.7 L1401 954.1 L1402.3 948.7 L1403.5 943.6 L1404.8 938.7 L1406 934.1 L1407.3 929.7 L1408.5 925.5 L1409.7 921.6 L1411 917.9 L1412.2 914.5 L1413.5 911.2 L1414.7 908.1 L1416 905.2 L1417.2 902.5 L1418.4 900 L1419.7 897.5 L1420.9 895.3 L1422.2 893.1 L1423.4 891.1 L1424.7 889.2 L1425.9 887.4 L1427.1 885.6 L1428.4 884 L1429.6 882.4 L1430.9 880.9 L1432.1 879.4 L1433.3 878 L1434.6 876.7 L1435.8 875.4 L1437.1 874.2 L1438.3 873 L1439.6 871.8 L1440.8 870.7 L1442 869.7 L1443.3 868.7 L1444.5 867.8 L1445.8 866.9 L1447 866.1 L1448.3 865.3 L1449.5 864.6 L1450.7 864 L1452 863.4 L1453.2 862.8 L1454.5 862.3 L1455.7 861.8 L1457 861.3 L1458.2 859.4 L1459.4 859.8 L1460.7 859.4 L1461.9 860.7 L1463.2 859.2 L1464.4 859 L1465.7 857.9 L1466.9 858 L1468.1 857.3 L1469.4 858.4 L1470.6 858.7 L1471.9 858.7 L1473.1 857.7 L1474.4 856.7 L1475.6 856 L1476.8 855.7 L1478.1 855.8 L1479.3 855.8 L1480.6 854.3 L1481.8 853.4 L1483.1 853.1 L1484.3 854 L1485.5 854.1 L1486.8 854.1 L1488 853.8 L1489.3 853.4 L1490.5 853.3 L1491.7 853 L1493 852.1 L1494.2 851.8 L1495.5 850.6 L1496.7 851.5 L1498 851.2 L1499.2 852.3 L1500.4 852.2 L1501.7 851.3 L1502.9 850.6 L1504.2 851 L1505.4 850.8 L1506.7 851 L1507.9 850.2 L1509.1 850.6 L1510.4 850.9 L1511.6 849.9 L1512.9 849.2 L1514.1 848.4 L1515.4 848.8 L1516.6 849.3 L1517.8 849.2 L1519.1 849.3 L1520.3 849.7 L1521.6 849.5 L1522.8 849.5 L1524.1 848 L1525.3 848.3 L1526.5 847.4 L1527.8 847.8 L1529 847 L1530.3 847.7 L1531.5 847.1 L1532.8 846.5 L1534 846.2 L1535.2 846.9 L1536.5 847.3 L1537.7 846.5 L1539 846.7 L1540.2 846.6 L1541.5 846.8 L1542.7 846.9 L1543.9 846.9 L1545.2 846.8 L1546.4 846.3 L1547.7 846.3 L1548.9 847.3 L1550.2 846.8 L1551.4 847.2 L1552.6 846.6 L1553.9 846.6 L1555.1 846.2 L1556.4 845.7 L1562.6 845.1 L1568.8 844.3 L1575 844 L1581.2 844 L1587.4 844.8 L1593.6 844.6 L1599.9 843.9 L1606.1 842.9 L1612.3 843.4 L1618.5 842.9 L1624.7 842.7 L1630.9 842.2 L1637.1 842.6 L1643.3 841.2 L1649.6 841.1 L1655.8 841.7 L1662 842.5 L1668.2 842.4 L1674.4 841.9 L1680.6 841.5 L1686.8 841.1 L1693 839.8 L1699.3 839.8 L1705.5 838.9 L1711.7 838.7 L1717.9 838.4 L1724.1 838.4 L1730.3 837.8 L1736.5 837.4 L1742.7 838.2 L1749 838.7 L1755.2 838.8 L1761.4 837.5 L1767.6 837.5 L1773.8 837 L1780 837.4 L1786.2 837.2 L1792.5 837.7 L1798.7 837.5 L1804.9 837.4 L1811.1 837.1 L1817.3 837.3 L1823.5 837.6 L1829.7 837.6 L1835.9 837.2 L1842.2 836.8 L1848.4 836.5 L1854.6 836.4 L1860.8 835.5 L1867 836.2 L1873.2 835.4 L1879.4 837 L1885.6 837.1 L1891.9 837.8 L1898.1 837.2 L1904.3 836.6 L1910.5 836.8 L1916.7 836.9 L1922.9 837.4 L1929.1 837.3 L1935.3 836.6 L1941.6 835.7 L1947.8 835.5 L1954 835.7 L1960.2 835.5 L1966.4 836.4 L1972.6 836.2 L1978.8 836.2 L1985 834.6 L1991.3 834.1 L1997.5 834 L2003.7 834.2 L2009.9 834.6 L2016.1 836 L2022.3 836.6 L2028.5 836.8 L2034.8 835.2 L2041 835.1 L2047.2 835.1 L2053.4 835.5 L2059.6 835.6 L2065.8 835.5 L2072 835.5 L2078.2 835.2 L2084.5 835.2 L2090.7 836.1 L2096.9 836.5 L2103.1 836.5 L2109.3 835.3 L2115.5 835 L2121.7 835.2 L2127.9 836 L2134.2 835.5 L2140.4 835.7 L2146.6 835.2 L2152.8 835.6 L2159 835 L2165.2 835.3 L2171.4 835.1 L2177.6 834.6 L2183.9 834.4 L2190.1 834.6 L2196.3 836.2 L2202.5 835.8 L2208.7 835.9 L2214.9 834.6 L2221.1 834.7 L2227.3 834.8 L2233.6 835.2 L2239.8 835.8 L2246 834.6 L2252.2 834.2" fill="none" stroke="#84b850" stroke-width="4" stroke-linejoin="round"/>
<path d="M363.5 835.8 L369.7 836.1 L375.9 836.5 L382.1 836.7 L388.4 836.5 L394.6 836.4 L400.8 836.7 L407 836.4 L413.2 836.9 L419.4 836.7 L425.6 836.8 L431.8 836.4 L438.1 836.5 L444.3 836.4 L450.5 836.5 L456.7 836.6 L462.9 837 L469.1 837.4 L475.3 837.1 L481.5 837.5 L487.8 837.2 L494 837.7 L500.2 837.2 L506.4 837.3 L512.6 836.6 L518.8 837 L525 837.6 L531.2 838.3 L537.5 838.2 L543.7 837.3 L549.9 836.9 L556.1 836.5 L562.3 837.2 L568.5 837.5 L574.7 837.9 L580.9 837.5 L587.2 837.5 L593.4 837.5 L599.6 837.5 L605.8 837.6 L612 837.5 L618.2 838.2 L624.4 838.1 L630.7 837.9 L636.9 837.4 L643.1 837.7 L649.3 838.5 L655.5 838.7 L661.7 838 L667.9 837.5 L674.1 837.6 L680.4 838 L686.6 838.4 L692.8 839.1 L699 839.2 L705.2 838.6 L711.4 838.3 L717.6 838.4 L723.8 838.8 L730.1 838.6 L736.3 838.9 L742.5 838.5 L748.7 838.3 L754.9 838 L761.1 838.5 L767.3 838.4 L773.5 838.5 L779.8 838.4 L786 838.7 L792.2 838.5 L798.4 838.6 L804.6 838.4 L810.8 838.8 L817 839 L823.2 839.4 L829.5 838.7 L835.7 838.7 L841.9 838.5 L848.1 839.3 L854.3 839.4 L860.5 839.8 L866.7 839.5 L873 839.5 L879.2 838.8 L885.4 839 L891.6 838.6 L897.8 839 L904 838.7 L910.2 839.2 L916.4 839.2 L922.7 839.4 L928.9 839.4 L935.1 839.3 L941.3 839.7 L947.5 839.6 L953.7 839.8 L959.9 839.5 L966.1 839.8 L972.4 839.7 L978.6 840 L984.8 840 L991 840.4 L997.2 840.4 L1003.4 840.3 L1009.6 839.5 L1015.8 840.2 L1022.1 840.2 L1028.3 840.9 L1034.5 840.1 L1040.7 840.4 L1046.9 840.8 L1053.1 840.9 L1059.3 841.2 L1065.5 841.6 L1071.8 842.4 L1078 842.7 L1084.2 842.8 L1085.4 843.1 L1086.7 843.1 L1087.9 844.1 L1089.2 843.9 L1090.4 844.4 L1091.6 843.7 L1092.9 843.7 L1094.1 843.5 L1095.4 843.8 L1096.6 844.1 L1097.9 844.9 L1099.1 845.1 L1100.3 845.7 L1101.6 845.1 L1102.8 845.5 L1104.1 845.4 L1105.3 846 L1106.6 846 L1107.8 846.2 L1109 846.3 L1110.3 846.6 L1111.5 846.8 L1112.8 847.1 L1114 847.4 L1115.3 847.7 L1116.5 848 L1117.7 848.4 L1119 848.7 L1120.2 849.1 L1121.5 849.4 L1122.7 849.8 L1124 850.2 L1125.2 850.6 L1126.4 851 L1127.7 851.4 L1128.9 851.8 L1130.2 852.2 L1131.4 852.6 L1132.6 853 L1133.9 853.5 L1135.1 853.9 L1136.4 854.4 L1137.6 854.9 L1138.9 855.3 L1140.1 855.8 L1141.3 856.3 L1142.6 856.8 L1143.8 857.4 L1145.1 857.9 L1146.3 858.5 L1147.6 859 L1148.8 859.6 L1150 860.2 L1151.3 860.8 L1152.5 861.5 L1153.8 862.1 L1155 862.8 L1156.3 863.5 L1157.5 864.2 L1158.7 864.9 L1160 865.7 L1161.2 866.4 L1162.5 867.2 L1163.7 868 L1165 868.8 L1166.2 869.6 L1167.4 870.5 L1168.7 871.3 L1169.9 872.2 L1171.2 873.1 L1172.4 874 L1173.7 875 L1174.9 876 L1176.1 877 L1177.4 878 L1178.6 879.1 L1179.9 880.2 L1181.1 881.4 L1182.4 882.6 L1183.6 883.8 L1184.8 885.1 L1186.1 886.4 L1187.3 887.8 L1188.6 889.3 L1189.8 890.8 L1191 892.4 L1192.3 894.1 L1193.5 895.9 L1194.8 897.7 L1196 899.7 L1197.3 901.7 L1198.5 903.9 L1199.7 906.1 L1201 908.5 L1202.2 910.9 L1203.5 913.4 L1204.7 916 L1206 918.7 L1207.2 921.4 L1208.4 924.2 L1209.7 927.1 L1210.9 930 L1212.2 932.9 L1213.4 935.9 L1214.7 938.9 L1215.9 942 L1217.1 945 L1218.4 948.1 L1219.6 951.2 L1220.9 954.3 L1222.1 957.4 L1223.4 960.6 L1224.6 963.8 L1225.8 967 L1227.1 970.2 L1228.3 973.5 L1229.6 976.9 L1230.8 980.5 L1232.1 984.1 L1233.3 987.8 L1234.5 991.7 L1235.8 995.7 L1237 999.8 L1238.3 1004.1 L1239.5 1008.5 L1240.8 1013.1 L1242 1017.8 L1243.2 1022.6 L1244.5 1027.6 L1245.7 1032.7 L1247 1038 L1248.2 1043.5 L1249.4 1049.1 L1250.7 1055 L1251.9 1061 L1253.2 1067.3 L1254.4 1073.8 L1255.7 1080.4 L1256.9 1087.2 L1258.1 1094.1 L1259.4 1101.2 L1260.6 1108.2 L1261.9 1115.3 L1263.1 1122.3 L1264.4 1129.2 L1265.6 1136.1 L1266.8 1142.9 L1268.1 1149.6 L1269.3 1156.2 L1270.6 1162.8 L1271.8 1169.3 L1273.1 1175.7 L1274.3 1182.1 L1275.5 1188.5 L1276.8 1194.9 L1278 1201.2 L1279.3 1207.6 L1280.5 1213.9 L1281.8 1220.3 L1283 1226.7 L1284.2 1233.1 L1285.5 1239.4 L1286.7 1245.8 L1288 1252.2 L1289.2 1258.6 L1290.5 1264.9 L1291.7 1271.1 L1292.9 1277.3 L1294.2 1283.4 L1295.4 1289.4 L1296.7 1295.2 L1297.9 1300.8 L1299.2 1308.7 L1300.4 1314 L1301.6 1319.1 L1302.9 1323.8 L1304.1 1328.4 L1305.4 1332.7 L1306.6 1336.9 L1307.8 1341 L1309.1 1345 L1310.3 1348.9 L1311.6 1352.8 L1312.8 1356.6 L1314.1 1360.5 L1315.3 1364.4 L1316.5 1368.5 L1317.8 1372.7 L1319 1377.2 L1320.3 1382.2 L1321.5 1387.6 L1322.8 1393.1 L1324 1398.7 L1325.2 1404.1 L1326.5 1409.1 L1327.7 1413.6 L1329 1417.4 L1330.2 1420.4 L1331.5 1422.1 L1332.7 1422.6 L1333.9 1421.9 L1335.2 1420.3 L1336.4 1417.8 L1337.7 1414.7 L1338.9 1410.9 L1340.2 1406.6 L1341.4 1401.7 L1342.6 1396.3 L1343.9 1390.5 L1345.1 1384.5 L1346.4 1378.2 L1347.6 1371.5 L1348.9 1364.5 L1350.1 1357 L1351.3 1349.2 L1352.6 1341.1 L1353.8 1333 L1355.1 1324.9 L1356.3 1316.9 L1357.6 1309.6 L1358.8 1301.8 L1360 1294 L1361.3 1286.1 L1362.5 1278 L1363.8 1269.9 L1365 1261.6 L1366.3 1253.1 L1367.5 1244.4 L1368.7 1235.4 L1370 1226.1 L1371.2 1216.6 L1372.5 1206.7 L1373.7 1196.6 L1374.9 1186.1 L1376.2 1175.4 L1377.4 1164.5 L1378.7 1153.4 L1379.9 1142.2 L1381.2 1130.8 L1382.4 1119.5 L1383.6 1108.2 L1384.9 1097 L1386.1 1086 L1387.4 1075.3 L1388.6 1064.9 L1389.9 1054.8 L1391.1 1045.1 L1392.3 1035.7 L1393.6 1026.8 L1394.8 1018.3 L1396.1 1010.1 L1397.3 1002.3 L1398.6 994.8 L1399.8 987.7 L1401 980.9 L1402.3 974.3 L1403.5 968 L1404.8 962 L1406 956.3 L1407.3 950.8 L1408.5 945.6 L1409.7 940.6 L1411 935.9 L1412.2 931.4 L1413.5 927.2 L1414.7 923.1 L1416 919.4 L1417.2 915.8 L1418.4 912.5 L1419.7 909.3 L1420.9 906.4 L1422.2 903.6 L1423.4 901 L1424.7 898.5 L1425.9 896.2 L1427.1 894 L1428.4 891.9 L1429.6 889.9 L1430.9 888.1 L1432.1 886.3 L1433.3 884.6 L1434.6 883 L1435.8 881.5 L1437.1 880 L1438.3 878.6 L1439.6 877.2 L1440.8 875.9 L1442 874.6 L1443.3 873.4 L1444.5 872.3 L1445.8 871.2 L1447 870.1 L1448.3 869.1 L1449.5 868.1 L1450.7 867.3 L1452 866.4 L1453.2 865.6 L1454.5 864.9 L1455.7 864.2 L1457 863.6 L1458.2 862.9 L1459.4 861.7 L1460.7 860.6 L1461.9 860.8 L1463.2 861.6 L1464.4 861.7 L1465.7 860.2 L1466.9 859.2 L1468.1 859 L1469.4 859.4 L1470.6 858.8 L1471.9 858.4 L1473.1 858.1 L1474.4 858.4 L1475.6 858.2 L1476.8 856.9 L1478.1 856.7 L1479.3 855.9 L1480.6 856 L1481.8 855.4 L1483.1 855.4 L1484.3 855.7 L1485.5 855.4 L1486.8 855.1 L1488 854.9 L1489.3 854.8 L1490.5 854.4 L1491.7 853.3 L1493 853.1 L1494.2 852.5 L1495.5 853.1 L1496.7 853.1 L1498 853.7 L1499.2 853.2 L1500.4 853.1 L1501.7 852.3 L1502.9 852.3 L1504.2 850.9 L1505.4 851.3 L1506.7 850.5 L1507.9 850.4 L1509.1 849.4 L1510.4 849.9 L1511.6 850.2 L1512.9 850.3 L1514.1 849.9 L1515.4 849.5 L1516.6 849.4 L1517.8 849.1 L1519.1 848.9 L1520.3 848.7 L1521.6 848.8 L1522.8 849.1 L1524.1 849.1 L1525.3 849.8 L1526.5 849.9 L1527.8 849.7 L1529 849.1 L1530.3 849.5 L1531.5 849.1 L1532.8 848.8 L1534 847.7 L1535.2 847.6 L1536.5 846.6 L1537.7 846.5 L1539 846.2 L1540.2 846.1 L1541.5 846.4 L1542.7 846.3 L1543.9 846.2 L1545.2 846.7 L1546.4 847.5 L1547.7 847.9 L1548.9 846.3 L1550.2 846 L1551.4 846.5 L1552.6 847.7 L1553.9 847.4 L1555.1 846.7 L1556.4 846.2 L1562.6 845.8 L1568.8 845.7 L1575 844.6 L1581.2 845 L1587.4 844.7 L1593.6 844.5 L1599.9 843.8 L1606.1 843.7 L1612.3 844 L1618.5 842.8 L1624.7 842 L1630.9 841.1 L1637.1 841.9 L1643.3 841.9 L1649.6 841.9 L1655.8 841.2 L1662 841.1 L1668.2 842 L1674.4 841.7 L1680.6 840.9 L1686.8 839.6 L1693 840.3 L1699.3 841 L1705.5 841.2 L1711.7 840.7 L1717.9 839.5 L1724.1 839.5 L1730.3 839.1 L1736.5 839.8 L1742.7 839.9 L1749 839.2 L1755.2 838.5 L1761.4 838 L1767.6 838.2 L1773.8 839.1 L1780 838 L1786.2 838.3 L1792.5 838 L1798.7 839 L1804.9 838.4 L1811.1 837.5 L1817.3 836.6 L1823.5 836.3 L1829.7 836.2 L1835.9 836 L1842.2 836.9 L1848.4 836.6 L1854.6 836.8 L1860.8 835.8 L1867 836 L1873.2 836.4 L1879.4 836.7 L1885.6 837.3 L1891.9 837.2 L1898.1 836.5 L1904.3 835.1 L1910.5 835.1 L1916.7 835.7 L1922.9 836.5 L1929.1 836.3 L1935.3 836.1 L1941.6 835.6 L1947.8 834.9 L1954 835.7 L1960.2 836.4 L1966.4 837.1 L1972.6 836.3 L1978.8 835.6 L1985 834.7 L1991.3 835 L1997.5 834.9 L2003.7 835.6 L2009.9 835.2 L2016.1 835.3 L2022.3 834.8 L2028.5 834.8 L2034.8 835.3 L2041 835.5 L2047.2 835.3 L2053.4 835.4 L2059.6 835.4 L2065.8 835.6 L2072 835 L2078.2 835.1 L2084.5 834.4 L2090.7 835 L2096.9 834.9 L2103.1 836.3 L2109.3 835.6 L2115.5 835.3 L2121.7 835.2 L2127.9 834.8 L2134.2 834.9 L2140.4 834.2 L2146.6 834.7 L2152.8 834.9 L2159 834.8 L2165.2 834.7 L2171.4 834.2 L2177.6 833.9 L2183.9 834.2 L2190.1 834.2 L2196.3 833.7 L2202.5 832.6 L2208.7 832.9 L2214.9 834.3 L2221.1 835.1 L2227.3 835.3 L2233.6 834.6 L2239.8 835 L2246 834.7 L2252.2 834.7" fill="none" stroke="#2f7f1b" stroke-width="4" stroke-linejoin="round"/>
</g>
<g clip-path="url(#pb)">
<path d="M366.5 1756.3 L374 1756.3 L381.4 1756.3 L388.9 1756.3 L396.3 1756.3 L403.8 1756.4 L411.2 1756.4 L418.7 1756.4 L426.2 1756.4 L433.6 1756.4 L441.1 1756.4 L448.5 1756.4 L456 1756.5 L463.5 1756.5 L470.9 1756.5 L478.4 1756.5 L485.8 1756.5 L493.3 1756.6 L500.7 1756.6 L508.2 1756.6 L515.7 1756.6 L523.1 1756.7 L530.6 1756.7 L538 1756.7 L545.5 1756.7 L553 1756.7 L560.4 1756.8 L567.9 1756.8 L575.3 1756.8 L582.8 1756.9 L590.2 1756.9 L597.7 1756.9 L605.2 1757 L612.6 1757 L620.1 1757 L627.5 1757.1 L635 1757.1 L642.5 1757.2 L649.9 1757.2 L657.4 1757.2 L664.8 1757.3 L672.3 1757.3 L679.7 1757.4 L687.2 1757.4 L694.7 1757.5 L702.1 1757.6 L709.6 1757.6 L717 1757.7 L724.5 1757.8 L731.9 1757.8 L739.4 1757.9 L746.9 1758 L754.3 1758.1 L761.8 1758.2 L769.2 1758.3 L776.7 1758.4 L784.2 1758.5 L791.6 1758.6 L799.1 1758.7 L806.5 1758.8 L814 1758.9 L821.4 1759 L828.9 1759.1 L836.4 1759.2 L843.8 1759.3 L851.3 1759.5 L858.7 1759.6 L866.2 1759.7 L873.7 1759.8 L881.1 1760 L888.6 1760.1 L896 1760.3 L903.5 1760.5 L910.9 1760.6 L918.4 1760.8 L925.9 1761 L933.3 1761.2 L940.8 1761.4 L948.2 1761.6 L955.7 1761.9 L963.2 1762.1 L970.6 1762.3 L978.1 1762.6 L985.5 1762.9 L993 1763.1 L1000.4 1763.4 L1007.9 1763.7 L1015.4 1764.1 L1022.8 1764.5 L1030.3 1764.9 L1037.7 1765.3 L1045.2 1765.8 L1052.7 1766.2 L1060.1 1766.8 L1067.6 1767.3 L1075 1767.8 L1082.5 1768.4 L1087.5 1768.7 L1088.9 1768.9 L1090.4 1769 L1091.9 1769.1 L1093.4 1769.2 L1094.9 1769.3 L1096.4 1769.4 L1097.9 1769.5 L1099.4 1769.6 L1100.9 1769.8 L1102.4 1769.9 L1103.9 1770 L1105.4 1770.1 L1106.8 1770.2 L1108.3 1770.4 L1109.8 1770.5 L1111.3 1770.6 L1112.8 1770.7 L1114.3 1770.8 L1115.8 1770.9 L1117.3 1771.1 L1118.8 1771.2 L1120.3 1771.3 L1121.8 1771.5 L1123.3 1771.6 L1124.7 1771.8 L1126.2 1771.9 L1127.7 1772.1 L1129.2 1772.2 L1130.7 1772.4 L1132.2 1772.6 L1133.7 1772.8 L1135.2 1772.9 L1136.7 1773.1 L1138.2 1773.3 L1139.7 1773.5 L1141.2 1773.7 L1142.6 1773.9 L1144.1 1774.2 L1145.6 1774.4 L1147.1 1774.6 L1148.6 1774.9 L1150.1 1775.2 L1151.6 1775.5 L1153.1 1775.8 L1154.6 1776.1 L1156.1 1776.5 L1157.6 1776.9 L1159.1 1777.3 L1160.5 1777.7 L1162 1778.2 L1163.5 1778.7 L1165 1779.1 L1166.5 1779.7 L1168 1780.2 L1169.5 1780.7 L1171 1781.3 L1172.5 1781.9 L1174 1782.5 L1175.5 1783.1 L1177 1783.7 L1178.4 1784.3 L1179.9 1785 L1181.4 1785.6 L1182.9 1786.3 L1184.4 1787 L1185.9 1787.6 L1187.4 1788.3 L1188.9 1789.1 L1190.4 1789.8 L1191.9 1790.5 L1193.4 1791.3 L1194.9 1792.1 L1196.3 1792.9 L1197.8 1793.8 L1199.3 1794.6 L1200.8 1795.5 L1202.3 1796.4 L1203.8 1797.3 L1205.3 1798.3 L1206.8 1799.3 L1208.3 1800.3 L1209.8 1801.3 L1211.3 1802.4 L1212.8 1803.5 L1214.2 1804.6 L1215.7 1805.7 L1217.2 1806.9 L1218.7 1808.1 L1220.2 1809.4 L1221.7 1810.7 L1223.2 1812 L1224.7 1813.4 L1226.2 1814.9 L1227.7 1816.4 L1229.2 1817.9 L1230.7 1819.6 L1232.1 1821.2 L1233.6 1823 L1235.1 1824.8 L1236.6 1826.7 L1238.1 1828.6 L1239.6 1830.5 L1241.1 1832.5 L1242.6 1834.5 L1244.1 1836.6 L1245.6 1838.7 L1247.1 1840.9 L1248.6 1843.1 L1250 1845.3 L1251.5 1847.6 L1253 1850 L1254.5 1852.4 L1256 1854.8 L1257.5 1857.4 L1259 1860 L1260.5 1862.6 L1262 1865.4 L1263.5 1868.2 L1265 1871.1 L1266.5 1874.1 L1267.9 1877.1 L1269.4 1880.3 L1270.9 1883.5 L1272.4 1886.8 L1273.9 1890.2 L1275.4 1893.7 L1276.9 1897.3 L1278.4 1901 L1279.9 1904.8 L1281.4 1908.6 L1282.9 1912.5 L1284.4 1916.4 L1285.8 1920.5 L1287.3 1924.6 L1288.8 1928.8 L1290.3 1933 L1291.8 1937.3 L1293.3 1941.8 L1294.8 1946.3 L1296.3 1951 L1297.8 1955.9 L1299.3 1960.9 L1300.8 1966.1 L1302.3 1971.5 L1303.7 1977 L1305.2 1982.8 L1306.7 1988.7 L1308.2 1994.8 L1309.7 2001 L1311.2 2007.4 L1312.7 2013.8 L1314.2 2020.3 L1315.7 2026.8 L1317.2 2033.4 L1318.7 2040 L1320.1 2046.6 L1321.6 2053.2 L1323.1 2059.9 L1324.6 2066.5 L1326.1 2073 L1327.6 2079.6 L1329.1 2086.1 L1330.6 2092.6 L1332.1 2099.1 L1333.6 2105.5 L1335.1 2111.9 L1336.6 2118.2 L1338 2124.5 L1339.5 2130.6 L1341 2136.7 L1342.5 2142.7 L1344 2148.6 L1345.5 2154.4 L1347 2160.2 L1348.5 2165.9 L1350 2171.6 L1351.5 2177.2 L1353 2182.7 L1354.5 2188.1 L1355.9 2193.4 L1357.4 2198.6 L1358.9 2203.6 L1360.4 2208.4 L1361.9 2213 L1363.4 2217.4 L1364.9 2221.5 L1366.4 2225.5 L1367.9 2229.4 L1369.4 2233 L1370.9 2236.6 L1372.4 2239.9 L1373.8 2243.2 L1375.3 2246.3 L1376.8 2249.3 L1378.3 2252.2 L1379.8 2254.9 L1381.3 2257.6 L1382.8 2260.1 L1384.3 2262.6 L1385.8 2264.9 L1387.3 2267.2 L1388.8 2269.4 L1390.3 2271.4 L1391.7 2273.4 L1393.2 2275.4 L1394.7 2277.2 L1396.2 2278.9 L1397.7 2280.6 L1399.2 2282.2 L1400.7 2283.7 L1402.2 2285.1 L1403.7 2286.4 L1405.2 2287.7 L1406.7 2288.9 L1408.2 2290 L1409.6 2291 L1411.1 2292 L1412.6 2292.9 L1414.1 2293.8 L1415.6 2294.6 L1417.1 2295.3 L1418.6 2296 L1420.1 2296.7 L1421.6 2297.3 L1423.1 2297.9 L1424.6 2298.4 L1426.1 2298.9 L1427.5 2299.4 L1429 2299.9 L1430.5 2300.3 L1432 2300.7 L1433.5 2301.2 L1435 2301.5 L1436.5 2301.5 L1438 2302 L1439.5 2302.4 L1441 2302.7 L1442.5 2303 L1444 2303.4 L1445.4 2303.7 L1446.9 2304.1 L1448.4 2304.5 L1449.9 2304.7 L1451.4 2305 L1452.9 2305.3 L1454.4 2305.7 L1455.9 2306 L1457.4 2306.2 L1458.9 2306.4 L1460.4 2306.7 L1461.9 2307.1 L1463.3 2307.4 L1464.8 2307.7 L1466.3 2307.9 L1467.8 2308.2 L1469.3 2308.6 L1470.8 2308.9 L1472.3 2309.2 L1473.8 2309.4 L1475.3 2309.7 L1476.8 2309.9 L1478.3 2310.1 L1479.8 2310.3 L1481.2 2310.5 L1482.7 2310.9 L1484.2 2311 L1485.7 2311.2 L1487.2 2311.3 L1488.7 2311.5 L1490.2 2311.8 L1491.7 2312 L1493.2 2312.2 L1494.7 2312.3 L1496.2 2312.5 L1497.7 2312.6 L1499.1 2312.8 L1500.6 2312.9 L1502.1 2313 L1503.6 2313.1 L1505.1 2313.2 L1506.6 2313.4 L1508.1 2313.6 L1509.6 2313.9 L1511.1 2313.9 L1512.6 2314.1 L1514.1 2314.1 L1515.6 2314.1 L1517 2314.1 L1518.5 2314.2 L1520 2314.4 L1521.5 2314.5 L1523 2314.6 L1524.5 2314.6 L1526 2314.7 L1527.5 2314.8 L1529 2314.8 L1530.5 2314.9 L1532 2315 L1533.5 2315.1 L1534.9 2315.2 L1536.4 2315.2 L1537.9 2315.2 L1539.4 2315.3 L1540.9 2315.4 L1542.4 2315.5 L1543.9 2315.6 L1545.4 2315.7 L1546.9 2315.7 L1548.4 2315.9 L1549.9 2315.8 L1551.4 2315.9 L1552.8 2316 L1554.3 2316 L1555.8 2316.1 L1557.3 2316.1 L1558.8 2316.2 L1559.8 2316.3 L1567.3 2316.7 L1574.7 2317 L1582.2 2317.2 L1589.6 2317.4 L1597.1 2317.7 L1604.6 2318 L1612 2318.4 L1619.5 2318.8 L1626.9 2319.2 L1634.4 2319.5 L1641.8 2319.7 L1649.3 2320 L1656.8 2320.4 L1664.2 2320.8 L1671.7 2321.2 L1679.1 2321.5 L1686.6 2321.8 L1694.1 2322.1 L1701.5 2322.3 L1709 2322.6 L1716.4 2322.7 L1723.9 2322.9 L1731.3 2323.1 L1738.8 2323.4 L1746.3 2323.6 L1753.7 2323.8 L1761.2 2323.9 L1768.6 2324 L1776.1 2324.1 L1783.6 2324.3 L1791 2324.5 L1798.5 2324.5 L1805.9 2324.6 L1813.4 2324.5 L1820.8 2324.7 L1828.3 2324.8 L1835.8 2325.1 L1843.2 2325.1 L1850.7 2325.2 L1858.1 2325.2 L1865.6 2325.2 L1873 2325.2 L1880.5 2325.2 L1888 2325.2 L1895.4 2325.3 L1902.9 2325.3 L1910.3 2325.2 L1917.8 2325.1 L1925.3 2325 L1932.7 2325 L1940.2 2325 L1947.6 2325.1 L1955.1 2324.9 L1962.5 2324.8 L1970 2324.7 L1977.5 2324.8 L1984.9 2324.7 L1992.4 2324.7 L1999.8 2324.7 L2007.3 2324.6 L2014.8 2324.6 L2022.2 2324.5 L2029.7 2324.3 L2037.1 2324.2 L2044.6 2324.1 L2052 2324.1 L2059.5 2324.1 L2067 2324 L2074.4 2323.9 L2081.9 2323.9 L2089.3 2323.8 L2096.8 2323.9 L2104.3 2323.7 L2111.7 2323.6 L2119.2 2323.4 L2126.6 2323.3 L2134.1 2323.2 L2141.5 2323.1 L2149 2323.1 L2156.5 2323 L2163.9 2322.8 L2171.4 2322.8 L2178.8 2322.6 L2186.3 2322.4 L2193.7 2322.3 L2201.2 2322.2 L2208.7 2322.1 L2216.1 2322 L2223.6 2321.9 L2231 2321.8 L2238.5 2321.7 L2246 2321.5 L2253.4 2321.5" fill="none" stroke="#3a9e3a" stroke-width="4" stroke-linejoin="round"/>
<path d="M366.5 1756.3 L374 1756.3 L381.4 1756.3 L388.9 1756.3 L396.3 1756.3 L403.8 1756.4 L411.2 1756.4 L418.7 1756.4 L426.2 1756.4 L433.6 1756.4 L441.1 1756.4 L448.5 1756.4 L456 1756.5 L463.5 1756.5 L470.9 1756.5 L478.4 1756.5 L485.8 1756.5 L493.3 1756.6 L500.7 1756.6 L508.2 1756.6 L515.7 1756.6 L523.1 1756.7 L530.6 1756.7 L538 1756.7 L545.5 1756.7 L553 1756.8 L560.4 1756.8 L567.9 1756.8 L575.3 1756.8 L582.8 1756.9 L590.2 1756.9 L597.7 1756.9 L605.2 1757 L612.6 1757 L620.1 1757 L627.5 1757.1 L635 1757.1 L642.5 1757.2 L649.9 1757.2 L657.4 1757.2 L664.8 1757.3 L672.3 1757.3 L679.7 1757.4 L687.2 1757.5 L694.7 1757.5 L702.1 1757.6 L709.6 1757.6 L717 1757.7 L724.5 1757.8 L731.9 1757.9 L739.4 1757.9 L746.9 1758 L754.3 1758.1 L761.8 1758.2 L769.2 1758.3 L776.7 1758.4 L784.2 1758.5 L791.6 1758.6 L799.1 1758.7 L806.5 1758.8 L814 1758.9 L821.4 1759 L828.9 1759.1 L836.4 1759.2 L843.8 1759.4 L851.3 1759.5 L858.7 1759.6 L866.2 1759.7 L873.7 1759.9 L881.1 1760 L888.6 1760.2 L896 1760.3 L903.5 1760.5 L910.9 1760.7 L918.4 1760.9 L925.9 1761 L933.3 1761.2 L940.8 1761.5 L948.2 1761.7 L955.7 1761.9 L963.2 1762.1 L970.6 1762.4 L978.1 1762.6 L985.5 1762.9 L993 1763.2 L1000.4 1763.5 L1007.9 1763.8 L1015.4 1764.1 L1022.8 1764.5 L1030.3 1764.9 L1037.7 1765.4 L1045.2 1765.8 L1052.7 1766.3 L1060.1 1766.8 L1067.6 1767.3 L1075 1767.9 L1082.5 1768.5 L1087.5 1768.8 L1088.9 1768.9 L1090.4 1769.1 L1091.9 1769.2 L1093.4 1769.3 L1094.9 1769.4 L1096.4 1769.5 L1097.9 1769.6 L1099.4 1769.7 L1100.9 1769.9 L1102.4 1770 L1103.9 1770.1 L1105.4 1770.2 L1106.8 1770.3 L1108.3 1770.5 L1109.8 1770.6 L1111.3 1770.7 L1112.8 1770.8 L1114.3 1770.9 L1115.8 1771 L1117.3 1771.2 L1118.8 1771.3 L1120.3 1771.4 L1121.8 1771.6 L1123.3 1771.7 L1124.7 1771.9 L1126.2 1772 L1127.7 1772.2 L1129.2 1772.3 L1130.7 1772.5 L1132.2 1772.7 L1133.7 1772.8 L1135.2 1773 L1136.7 1773.2 L1138.2 1773.4 L1139.7 1773.6 L1141.2 1773.8 L1142.6 1774 L1144.1 1774.2 L1145.6 1774.5 L1147.1 1774.7 L1148.6 1774.9 L1150.1 1775.2 L1151.6 1775.5 L1153.1 1775.8 L1154.6 1776.1 L1156.1 1776.5 L1157.6 1776.8 L1159.1 1777.2 L1160.5 1777.7 L1162 1778.1 L1163.5 1778.6 L1165 1779.1 L1166.5 1779.6 L1168 1780.1 L1169.5 1780.6 L1171 1781.2 L1172.5 1781.8 L1174 1782.4 L1175.5 1783 L1177 1783.6 L1178.4 1784.2 L1179.9 1784.9 L1181.4 1785.5 L1182.9 1786.2 L1184.4 1786.8 L1185.9 1787.5 L1187.4 1788.2 L1188.9 1788.9 L1190.4 1789.7 L1191.9 1790.4 L1193.4 1791.2 L1194.9 1792 L1196.3 1792.8 L1197.8 1793.6 L1199.3 1794.4 L1200.8 1795.3 L1202.3 1796.2 L1203.8 1797.1 L1205.3 1798.1 L1206.8 1799.1 L1208.3 1800.1 L1209.8 1801.1 L1211.3 1802.2 L1212.8 1803.2 L1214.2 1804.3 L1215.7 1805.5 L1217.2 1806.6 L1218.7 1807.8 L1220.2 1809.1 L1221.7 1810.4 L1223.2 1811.7 L1224.7 1813.1 L1226.2 1814.5 L1227.7 1816 L1229.2 1817.5 L1230.7 1819.1 L1232.1 1820.8 L1233.6 1822.5 L1235.1 1824.3 L1236.6 1826.1 L1238.1 1828 L1239.6 1829.9 L1241.1 1831.9 L1242.6 1834 L1244.1 1836 L1245.6 1838.2 L1247.1 1840.3 L1248.6 1842.5 L1250 1844.7 L1251.5 1847 L1253 1849.4 L1254.5 1851.7 L1256 1854.2 L1257.5 1856.7 L1259 1859.3 L1260.5 1861.9 L1262 1864.7 L1263.5 1867.4 L1265 1870.3 L1266.5 1873.3 L1267.9 1876.3 L1269.4 1879.4 L1270.9 1882.6 L1272.4 1885.9 L1273.9 1889.3 L1275.4 1892.7 L1276.9 1896.3 L1278.4 1900 L1279.9 1903.7 L1281.4 1907.5 L1282.9 1911.4 L1284.4 1915.3 L1285.8 1919.4 L1287.3 1923.5 L1288.8 1927.6 L1290.3 1931.8 L1291.8 1936.2 L1293.3 1940.6 L1294.8 1945.1 L1296.3 1949.7 L1297.8 1954.5 L1299.3 1959.4 L1300.8 1964.4 L1302.3 1969.7 L1303.7 1975.2 L1305.2 1980.8 L1306.7 1986.6 L1308.2 1992.7 L1309.7 1998.8 L1311.2 2005.1 L1312.7 2011.5 L1314.2 2018 L1315.7 2024.6 L1317.2 2031.2 L1318.7 2037.9 L1320.1 2044.5 L1321.6 2051.2 L1323.1 2057.9 L1324.6 2064.6 L1326.1 2071.2 L1327.6 2077.9 L1329.1 2084.5 L1330.6 2091.1 L1332.1 2097.7 L1333.6 2104.2 L1335.1 2110.7 L1336.6 2117.1 L1338 2123.5 L1339.5 2129.8 L1341 2136 L1342.5 2142.2 L1344 2148.2 L1345.5 2154.2 L1347 2160.1 L1348.5 2165.9 L1350 2171.7 L1351.5 2177.4 L1353 2183 L1354.5 2188.6 L1355.9 2194.1 L1357.4 2199.5 L1358.9 2204.7 L1360.4 2209.8 L1361.9 2214.6 L1363.4 2219.3 L1364.9 2223.7 L1366.4 2228 L1367.9 2232 L1369.4 2235.9 L1370.9 2239.6 L1372.4 2243.2 L1373.8 2246.6 L1375.3 2249.9 L1376.8 2253.1 L1378.3 2256.1 L1379.8 2259 L1381.3 2261.9 L1382.8 2264.6 L1384.3 2267.1 L1385.8 2269.6 L1387.3 2272 L1388.8 2274.3 L1390.3 2276.5 L1391.7 2278.6 L1393.2 2280.7 L1394.7 2282.6 L1396.2 2284.5 L1397.7 2286.3 L1399.2 2288 L1400.7 2289.6 L1402.2 2291.2 L1403.7 2292.6 L1405.2 2294 L1406.7 2295.2 L1408.2 2296.5 L1409.6 2297.6 L1411.1 2298.7 L1412.6 2299.7 L1414.1 2300.6 L1415.6 2301.5 L1417.1 2302.3 L1418.6 2303.1 L1420.1 2303.8 L1421.6 2304.4 L1423.1 2305.1 L1424.6 2305.7 L1426.1 2306.2 L1427.5 2306.7 L1429 2307.2 L1430.5 2307.7 L1432 2308.2 L1433.5 2308.6 L1435 2308.9 L1436.5 2308.9 L1438 2309.4 L1439.5 2309.8 L1441 2310.2 L1442.5 2310.6 L1444 2311.1 L1445.4 2311.5 L1446.9 2311.8 L1448.4 2312.1 L1449.9 2312.4 L1451.4 2312.7 L1452.9 2313 L1454.4 2313.3 L1455.9 2313.7 L1457.4 2313.9 L1458.9 2314.2 L1460.4 2314.4 L1461.9 2314.7 L1463.3 2315.1 L1464.8 2315.4 L1466.3 2315.8 L1467.8 2316.1 L1469.3 2316.3 L1470.8 2316.6 L1472.3 2316.7 L1473.8 2317 L1475.3 2317.2 L1476.8 2317.4 L1478.3 2317.8 L1479.8 2318.1 L1481.2 2318.4 L1482.7 2318.6 L1484.2 2318.8 L1485.7 2318.9 L1487.2 2319.1 L1488.7 2319.3 L1490.2 2319.6 L1491.7 2319.8 L1493.2 2320.1 L1494.7 2320.2 L1496.2 2320.4 L1497.7 2320.5 L1499.1 2320.7 L1500.6 2320.9 L1502.1 2321.1 L1503.6 2321.2 L1505.1 2321.3 L1506.6 2321.5 L1508.1 2321.6 L1509.6 2321.7 L1511.1 2321.8 L1512.6 2321.9 L1514.1 2322 L1515.6 2322.1 L1517 2322.1 L1518.5 2322.2 L1520 2322.3 L1521.5 2322.5 L1523 2322.6 L1524.5 2322.7 L1526 2322.9 L1527.5 2323 L1529 2323 L1530.5 2323 L1532 2323.1 L1533.5 2323.2 L1534.9 2323.2 L1536.4 2323.2 L1537.9 2323.3 L1539.4 2323.5 L1540.9 2323.6 L1542.4 2323.6 L1543.9 2323.6 L1545.4 2323.7 L1546.9 2323.9 L1548.4 2324 L1549.9 2324 L1551.4 2324 L1552.8 2324.1 L1554.3 2324.3 L1555.8 2324.4 L1557.3 2324.4 L1558.8 2324.5 L1559.8 2324.4 L1567.3 2324.7 L1574.7 2324.9 L1582.2 2325.2 L1589.6 2325.5 L1597.1 2325.8 L1604.6 2326.1 L1612 2326.4 L1619.5 2326.8 L1626.9 2327.2 L1634.4 2327.6 L1641.8 2328 L1649.3 2328.3 L1656.8 2328.5 L1664.2 2328.7 L1671.7 2329.1 L1679.1 2329.5 L1686.6 2329.8 L1694.1 2330.1 L1701.5 2330.5 L1709 2330.8 L1716.4 2331.1 L1723.9 2331.1 L1731.3 2331.4 L1738.8 2331.5 L1746.3 2331.7 L1753.7 2331.9 L1761.2 2332.1 L1768.6 2332.3 L1776.1 2332.3 L1783.6 2332.4 L1791 2332.5 L1798.5 2332.6 L1805.9 2332.7 L1813.4 2332.8 L1820.8 2333 L1828.3 2333.1 L1835.8 2333.2 L1843.2 2333.2 L1850.7 2333.3 L1858.1 2333.3 L1865.6 2333.3 L1873 2333.4 L1880.5 2333.5 L1888 2333.6 L1895.4 2333.6 L1902.9 2333.5 L1910.3 2333.5 L1917.8 2333.4 L1925.3 2333.4 L1932.7 2333.3 L1940.2 2333.3 L1947.6 2333.2 L1955.1 2333.2 L1962.5 2333.1 L1970 2333.1 L1977.5 2333.1 L1984.9 2333 L1992.4 2332.9 L1999.8 2332.9 L2007.3 2332.8 L2014.8 2332.8 L2022.2 2332.8 L2029.7 2332.7 L2037.1 2332.6 L2044.6 2332.5 L2052 2332.5 L2059.5 2332.5 L2067 2332.3 L2074.4 2332.3 L2081.9 2332.2 L2089.3 2332.2 L2096.8 2332.1 L2104.3 2332.1 L2111.7 2331.9 L2119.2 2331.7 L2126.6 2331.6 L2134.1 2331.5 L2141.5 2331.4 L2149 2331.2 L2156.5 2331.2 L2163.9 2331 L2171.4 2330.9 L2178.8 2330.8 L2186.3 2330.8 L2193.7 2330.7 L2201.2 2330.6 L2208.7 2330.4 L2216.1 2330.3 L2223.6 2330.2 L2231 2330.1 L2238.5 2330 L2246 2329.9 L2253.4 2329.8" fill="none" stroke="#8a1010" stroke-width="4" stroke-linejoin="round"/>
<path d="M366.5 1756.3 L374 1756.3 L381.4 1756.3 L388.9 1756.4 L396.3 1756.4 L403.8 1756.4 L411.2 1756.4 L418.7 1756.5 L426.2 1756.5 L433.6 1756.5 L441.1 1756.6 L448.5 1756.6 L456 1756.6 L463.5 1756.7 L470.9 1756.7 L478.4 1756.7 L485.8 1756.8 L493.3 1756.8 L500.7 1756.9 L508.2 1756.9 L515.7 1757 L523.1 1757 L530.6 1757.1 L538 1757.1 L545.5 1757.2 L553 1757.2 L560.4 1757.3 L567.9 1757.3 L575.3 1757.4 L582.8 1757.4 L590.2 1757.5 L597.7 1757.6 L605.2 1757.6 L612.6 1757.7 L620.1 1757.8 L627.5 1757.9 L635 1757.9 L642.5 1758 L649.9 1758.1 L657.4 1758.2 L664.8 1758.3 L672.3 1758.4 L679.7 1758.5 L687.2 1758.6 L694.7 1758.7 L702.1 1758.8 L709.6 1758.9 L717 1759 L724.5 1759.2 L731.9 1759.3 L739.4 1759.4 L746.9 1759.6 L754.3 1759.7 L761.8 1759.9 L769.2 1760 L776.7 1760.2 L784.2 1760.4 L791.6 1760.5 L799.1 1760.7 L806.5 1760.9 L814 1761.1 L821.4 1761.3 L828.9 1761.4 L836.4 1761.6 L843.8 1761.8 L851.3 1762 L858.7 1762.2 L866.2 1762.5 L873.7 1762.7 L881.1 1762.9 L888.6 1763.2 L896 1763.4 L903.5 1763.7 L910.9 1763.9 L918.4 1764.2 L925.9 1764.5 L933.3 1764.8 L940.8 1765.1 L948.2 1765.5 L955.7 1765.8 L963.2 1766.1 L970.6 1766.5 L978.1 1766.9 L985.5 1767.3 L993 1767.6 L1000.4 1768.1 L1007.9 1768.5 L1015.4 1768.9 L1022.8 1769.4 L1030.3 1769.9 L1037.7 1770.5 L1045.2 1771.1 L1052.7 1771.7 L1060.1 1772.3 L1067.6 1772.9 L1075 1773.6 L1082.5 1774.3 L1087.5 1774.8 L1088.9 1774.9 L1090.4 1775.1 L1091.9 1775.2 L1093.4 1775.4 L1094.9 1775.5 L1096.4 1775.7 L1097.9 1775.8 L1099.4 1776 L1100.9 1776.1 L1102.4 1776.3 L1103.9 1776.4 L1105.4 1776.6 L1106.8 1776.7 L1108.3 1776.9 L1109.8 1777.1 L1111.3 1777.2 L1112.8 1777.4 L1114.3 1777.5 L1115.8 1777.7 L1117.3 1777.8 L1118.8 1778 L1120.3 1778.2 L1121.8 1778.4 L1123.3 1778.6 L1124.7 1778.8 L1126.2 1779 L1127.7 1779.2 L1129.2 1779.4 L1130.7 1779.6 L1132.2 1779.8 L1133.7 1780 L1135.2 1780.2 L1136.7 1780.4 L1138.2 1780.7 L1139.7 1780.9 L1141.2 1781.1 L1142.6 1781.4 L1144.1 1781.6 L1145.6 1781.9 L1147.1 1782.2 L1148.6 1782.5 L1150.1 1782.8 L1151.6 1783.1 L1153.1 1783.4 L1154.6 1783.7 L1156.1 1784.1 L1157.6 1784.4 L1159.1 1784.8 L1160.5 1785.2 L1162 1785.7 L1163.5 1786.1 L1165 1786.5 L1166.5 1787 L1168 1787.5 L1169.5 1788 L1171 1788.5 L1172.5 1789 L1174 1789.5 L1175.5 1790.1 L1177 1790.6 L1178.4 1791.2 L1179.9 1791.8 L1181.4 1792.4 L1182.9 1793 L1184.4 1793.6 L1185.9 1794.2 L1187.4 1794.8 L1188.9 1795.5 L1190.4 1796.2 L1191.9 1796.8 L1193.4 1797.5 L1194.9 1798.2 L1196.3 1799 L1197.8 1799.7 L1199.3 1800.5 L1200.8 1801.3 L1202.3 1802.1 L1203.8 1803 L1205.3 1803.8 L1206.8 1804.7 L1208.3 1805.6 L1209.8 1806.5 L1211.3 1807.4 L1212.8 1808.4 L1214.2 1809.4 L1215.7 1810.4 L1217.2 1811.4 L1218.7 1812.5 L1220.2 1813.5 L1221.7 1814.6 L1223.2 1815.8 L1224.7 1816.9 L1226.2 1818.2 L1227.7 1819.4 L1229.2 1820.7 L1230.7 1822 L1232.1 1823.4 L1233.6 1824.9 L1235.1 1826.3 L1236.6 1827.8 L1238.1 1829.4 L1239.6 1831 L1241.1 1832.6 L1242.6 1834.3 L1244.1 1835.9 L1245.6 1837.7 L1247.1 1839.4 L1248.6 1841.2 L1250 1843 L1251.5 1844.8 L1253 1846.6 L1254.5 1848.5 L1256 1850.4 L1257.5 1852.3 L1259 1854.3 L1260.5 1856.3 L1262 1858.4 L1263.5 1860.6 L1265 1862.8 L1266.5 1865 L1267.9 1867.4 L1269.4 1869.9 L1270.9 1872.4 L1272.4 1875.1 L1273.9 1878 L1275.4 1880.9 L1276.9 1884.1 L1278.4 1887.4 L1279.9 1890.9 L1281.4 1894.5 L1282.9 1898.3 L1284.4 1902.2 L1285.8 1906.3 L1287.3 1910.5 L1288.8 1914.7 L1290.3 1919 L1291.8 1923.4 L1293.3 1927.8 L1294.8 1932.3 L1296.3 1936.8 L1297.8 1941.3 L1299.3 1945.9 L1300.8 1950.5 L1302.3 1955.1 L1303.7 1959.6 L1305.2 1964.2 L1306.7 1968.7 L1308.2 1973.1 L1309.7 1977.5 L1311.2 1981.8 L1312.7 1986.1 L1314.2 1990.3 L1315.7 1994.5 L1317.2 1998.7 L1318.7 2002.9 L1320.1 2007.2 L1321.6 2011.6 L1323.1 2016 L1324.6 2020.6 L1326.1 2025.2 L1327.6 2030 L1329.1 2034.9 L1330.6 2040 L1332.1 2045.1 L1333.6 2050.3 L1335.1 2055.6 L1336.6 2061 L1338 2066.4 L1339.5 2071.8 L1341 2077.2 L1342.5 2082.7 L1344 2088.1 L1345.5 2093.6 L1347 2099 L1348.5 2104.5 L1350 2109.9 L1351.5 2115.3 L1353 2120.7 L1354.5 2126.1 L1355.9 2131.5 L1357.4 2136.8 L1358.9 2142.1 L1360.4 2147.4 L1361.9 2152.6 L1363.4 2157.8 L1364.9 2162.9 L1366.4 2168 L1367.9 2173.1 L1369.4 2178.1 L1370.9 2183 L1372.4 2187.9 L1373.8 2192.7 L1375.3 2197.4 L1376.8 2201.9 L1378.3 2206.3 L1379.8 2210.5 L1381.3 2214.5 L1382.8 2218.4 L1384.3 2222 L1385.8 2225.5 L1387.3 2228.8 L1388.8 2231.9 L1390.3 2234.9 L1391.7 2237.8 L1393.2 2240.6 L1394.7 2243.2 L1396.2 2245.7 L1397.7 2248.2 L1399.2 2250.5 L1400.7 2252.7 L1402.2 2254.9 L1403.7 2256.9 L1405.2 2258.8 L1406.7 2260.6 L1408.2 2262.2 L1409.6 2263.8 L1411.1 2265.3 L1412.6 2266.7 L1414.1 2268.1 L1415.6 2269.4 L1417.1 2270.6 L1418.6 2271.8 L1420.1 2272.9 L1421.6 2274 L1423.1 2275 L1424.6 2276 L1426.1 2277 L1427.5 2277.9 L1429 2278.7 L1430.5 2279.6 L1432 2280.4 L1433.5 2281.1 L1435 2281.7 L1436.5 2281.8 L1438 2282.5 L1439.5 2283.1 L1441 2283.7 L1442.5 2284.3 L1444 2285 L1445.4 2285.5 L1446.9 2286.1 L1448.4 2286.6 L1449.9 2287.1 L1451.4 2287.6 L1452.9 2288.1 L1454.4 2288.5 L1455.9 2289 L1457.4 2289.4 L1458.9 2289.8 L1460.4 2290.2 L1461.9 2290.7 L1463.3 2291 L1464.8 2291.2 L1466.3 2291.6 L1467.8 2292.1 L1469.3 2292.5 L1470.8 2292.7 L1472.3 2293 L1473.8 2293.3 L1475.3 2293.7 L1476.8 2294.1 L1478.3 2294.4 L1479.8 2294.6 L1481.2 2294.9 L1482.7 2295.2 L1484.2 2295.6 L1485.7 2295.8 L1487.2 2296 L1488.7 2296.2 L1490.2 2296.6 L1491.7 2296.8 L1493.2 2297 L1494.7 2297.3 L1496.2 2297.6 L1497.7 2297.8 L1499.1 2298.1 L1500.6 2298.3 L1502.1 2298.6 L1503.6 2298.8 L1505.1 2299 L1506.6 2299.3 L1508.1 2299.4 L1509.6 2299.8 L1511.1 2299.9 L1512.6 2300.1 L1514.1 2300.3 L1515.6 2300.6 L1517 2300.9 L1518.5 2301 L1520 2301.2 L1521.5 2301.4 L1523 2301.6 L1524.5 2301.9 L1526 2302.1 L1527.5 2302.3 L1529 2302.5 L1530.5 2302.7 L1532 2302.9 L1533.5 2303.2 L1534.9 2303.4 L1536.4 2303.7 L1537.9 2303.7 L1539.4 2303.8 L1540.9 2303.9 L1542.4 2304.2 L1543.9 2304.4 L1545.4 2304.5 L1546.9 2304.8 L1548.4 2304.9 L1549.9 2305.1 L1551.4 2305.3 L1552.8 2305.5 L1554.3 2305.7 L1555.8 2305.8 L1557.3 2305.9 L1558.8 2306.1 L1559.8 2306.3 L1567.3 2307.2 L1574.7 2308 L1582.2 2308.6 L1589.6 2309.3 L1597.1 2309.8 L1604.6 2310.2 L1612 2310.7 L1619.5 2311.1 L1626.9 2311.5 L1634.4 2311.8 L1641.8 2312.2 L1649.3 2312.6 L1656.8 2313 L1664.2 2313.2 L1671.7 2313.5 L1679.1 2313.8 L1686.6 2314.1 L1694.1 2314.4 L1701.5 2314.6 L1709 2314.8 L1716.4 2314.9 L1723.9 2315.1 L1731.3 2315.3 L1738.8 2315.3 L1746.3 2315.4 L1753.7 2315.4 L1761.2 2315.4 L1768.6 2315.4 L1776.1 2315.5 L1783.6 2315.7 L1791 2315.7 L1798.5 2315.7 L1805.9 2315.7 L1813.4 2315.8 L1820.8 2315.8 L1828.3 2315.9 L1835.8 2315.9 L1843.2 2316 L1850.7 2316 L1858.1 2316 L1865.6 2316 L1873 2316.1 L1880.5 2316.1 L1888 2316.1 L1895.4 2316.2 L1902.9 2316.1 L1910.3 2316.1 L1917.8 2316.3 L1925.3 2316.3 L1932.7 2316.3 L1940.2 2316.2 L1947.6 2316.4 L1955.1 2316.4 L1962.5 2316.4 L1970 2316.5 L1977.5 2316.4 L1984.9 2316.4 L1992.4 2316.2 L1999.8 2316.2 L2007.3 2316.1 L2014.8 2316.2 L2022.2 2316.2 L2029.7 2316.3 L2037.1 2316.4 L2044.6 2316.4 L2052 2316.5 L2059.5 2316.5 L2067 2316.4 L2074.4 2316.4 L2081.9 2316.4 L2089.3 2316.5 L2096.8 2316.4 L2104.3 2316.3 L2111.7 2316.3 L2119.2 2316.3 L2126.6 2316.3 L2134.1 2316.3 L2141.5 2316.3 L2149 2316.3 L2156.5 2316.3 L2163.9 2316.3 L2171.4 2316.2 L2178.8 2316.2 L2186.3 2316.3 L2193.7 2316.3 L2201.2 2316.3 L2208.7 2316.2 L2216.1 2316.2 L2223.6 2316.2 L2231 2316.2 L2238.5 2316.2 L2246 2316.1 L2253.4 2316.1" fill="none" stroke="#ff9124" stroke-width="4" stroke-linejoin="round"/>
<path d="M366.5 2452.4 L372.7 2452.5 L378.9 2452.4 L385.1 2452.5 L391.4 2452.6 L397.6 2452.5 L403.8 2452.6 L410 2452.4 L416.2 2452.7 L422.4 2452.8 L428.7 2453.2 L434.9 2453.5 L441.1 2454 L447.3 2453.8 L453.5 2453.7 L459.7 2453.4 L465.9 2453.6 L472.2 2453.3 L478.4 2453 L484.6 2452.8 L490.8 2452.7 L497 2452.1 L503.2 2452.3 L509.4 2452.5 L515.7 2453.8 L521.9 2454.3 L528.1 2453.8 L534.3 2452.7 L540.5 2452.2 L546.7 2452.8 L553 2453.3 L559.2 2454 L565.4 2454.1 L571.6 2454.4 L577.8 2453.5 L584 2453.6 L590.2 2453.4 L596.5 2453.7 L602.7 2453.2 L608.9 2453.4 L615.1 2453.8 L621.3 2454.6 L627.5 2454.3 L633.8 2453.8 L640 2453.5 L646.2 2453.7 L652.4 2454.4 L658.6 2454.3 L664.8 2454.2 L671 2454 L677.3 2454 L683.5 2453.9 L689.7 2453.7 L695.9 2453.9 L702.1 2453.8 L708.3 2453.5 L714.5 2453.1 L720.8 2453.4 L727 2453.7 L733.2 2453.8 L739.4 2454.2 L745.6 2454.2 L751.8 2454.6 L758.1 2454.3 L764.3 2454.6 L770.5 2454.4 L776.7 2454 L782.9 2453.9 L789.1 2454.1 L795.3 2454.4 L801.6 2454.5 L807.8 2454.9 L814 2455.5 L820.2 2455.7 L826.4 2454.9 L832.6 2454.5 L838.9 2454.3 L845.1 2454.5 L851.3 2454.8 L857.5 2454.7 L863.7 2454.8 L869.9 2454.4 L876.1 2454.5 L882.4 2455.3 L888.6 2455.4 L894.8 2456.1 L901 2455.6 L907.2 2455.7 L913.4 2455.5 L919.6 2455.5 L925.9 2455.9 L932.1 2455.9 L938.3 2455.5 L944.5 2454.9 L950.7 2455.2 L956.9 2455.7 L963.2 2456.1 L969.4 2455.9 L975.6 2456.4 L981.8 2456.3 L988 2456.6 L994.2 2456.7 L1000.4 2456.8 L1006.7 2456.6 L1012.9 2456.3 L1019.1 2457.3 L1025.3 2457.8 L1031.5 2458.2 L1037.7 2457.9 L1043.9 2458.3 L1050.2 2458.6 L1056.4 2458.9 L1062.6 2459.6 L1068.8 2460.4 L1075 2461.4 L1081.2 2462.3 L1087.5 2463.3 L1088.7 2463.5 L1089.9 2464 L1091.2 2464.4 L1092.4 2464.9 L1093.7 2464.4 L1094.9 2464.6 L1096.2 2464.1 L1097.4 2465 L1098.6 2464.7 L1099.9 2465.1 L1101.1 2465 L1102.4 2465.1 L1103.6 2465.6 L1104.9 2465.9 L1106.1 2466.6 L1107.3 2466.6 L1108.6 2466.3 L1109.8 2465.9 L1111.1 2466.4 L1112.3 2467.2 L1113.6 2467.5 L1114.8 2467.7 L1116 2468 L1117.3 2468.3 L1118.5 2468.5 L1119.8 2468.8 L1121 2469.1 L1122.3 2469.4 L1123.5 2469.7 L1124.7 2470.1 L1126 2470.4 L1127.2 2470.8 L1128.5 2471.2 L1129.7 2471.5 L1131 2472 L1132.2 2472.4 L1133.4 2472.8 L1134.7 2473.3 L1135.9 2473.8 L1137.2 2474.3 L1138.4 2474.8 L1139.7 2475.4 L1140.9 2476 L1142.1 2476.6 L1143.4 2477.2 L1144.6 2477.8 L1145.9 2478.5 L1147.1 2479.2 L1148.4 2479.9 L1149.6 2480.6 L1150.8 2481.3 L1152.1 2482 L1153.3 2482.8 L1154.6 2483.6 L1155.8 2484.4 L1157.1 2485.2 L1158.3 2486.1 L1159.6 2487 L1160.8 2487.9 L1162 2488.8 L1163.3 2489.8 L1164.5 2490.8 L1165.8 2491.8 L1167 2492.9 L1168.3 2494 L1169.5 2495.2 L1170.7 2496.4 L1172 2497.7 L1173.2 2499 L1174.5 2500.3 L1175.7 2501.8 L1177 2503.2 L1178.2 2504.8 L1179.4 2506.4 L1180.7 2508.2 L1181.9 2510 L1183.2 2511.9 L1184.4 2513.9 L1185.7 2516 L1186.9 2518.1 L1188.1 2520.4 L1189.4 2522.8 L1190.6 2525.3 L1191.9 2527.8 L1193.1 2530.5 L1194.4 2533.2 L1195.6 2536 L1196.8 2538.8 L1198.1 2541.7 L1199.3 2544.7 L1200.6 2547.7 L1201.8 2550.7 L1203.1 2553.8 L1204.3 2556.8 L1205.5 2559.9 L1206.8 2562.9 L1208 2565.9 L1209.3 2568.9 L1210.5 2571.8 L1211.8 2574.6 L1213 2577.4 L1214.2 2580.1 L1215.5 2582.8 L1216.7 2585.5 L1218 2588.1 L1219.2 2590.8 L1220.5 2593.5 L1221.7 2596.3 L1222.9 2599.2 L1224.2 2602.3 L1225.4 2605.6 L1226.7 2609.1 L1227.9 2612.8 L1229.2 2616.8 L1230.4 2621 L1231.6 2625.4 L1232.9 2630 L1234.1 2634.8 L1235.4 2639.7 L1236.6 2644.6 L1237.9 2649.6 L1239.1 2654.6 L1240.3 2659.6 L1241.6 2664.5 L1242.8 2669.4 L1244.1 2674.3 L1245.3 2679.2 L1246.6 2684 L1247.8 2688.9 L1249 2693.8 L1250.3 2698.7 L1251.5 2703.7 L1252.8 2708.7 L1254 2713.7 L1255.3 2718.8 L1256.5 2724 L1257.7 2729.1 L1259 2734.3 L1260.2 2739.4 L1261.5 2744.6 L1262.7 2749.8 L1264 2755 L1265.2 2760.2 L1266.5 2765.6 L1267.7 2771 L1268.9 2776.6 L1270.2 2782.4 L1271.4 2788.3 L1272.7 2794.5 L1273.9 2800.8 L1275.2 2807.4 L1276.4 2814.2 L1277.6 2821.2 L1278.9 2828.3 L1280.1 2835.5 L1281.4 2842.8 L1282.6 2850.1 L1283.9 2857.3 L1285.1 2864.5 L1286.3 2871.6 L1287.6 2878.5 L1288.8 2885.2 L1290.1 2891.8 L1291.3 2898.2 L1292.6 2904.4 L1293.8 2910.4 L1295 2916.2 L1296.3 2921.9 L1297.5 2927.4 L1298.8 2932.8 L1300 2938.1 L1301.3 2943.2 L1302.5 2949.6 L1303.7 2954.5 L1305 2959.2 L1306.2 2963.8 L1307.5 2968.2 L1308.7 2972.5 L1310 2976.9 L1311.2 2981.2 L1312.4 2985.5 L1313.7 2989.9 L1314.9 2994.3 L1316.2 2998.7 L1317.4 3003.1 L1318.7 3007.4 L1319.9 3011.5 L1321.1 3015 L1322.4 3017.7 L1323.6 3019.7 L1324.9 3021 L1326.1 3021.7 L1327.4 3021.9 L1328.6 3021.5 L1329.8 3020.3 L1331.1 3018.4 L1332.3 3015.7 L1333.6 3012.6 L1334.8 3009 L1336.1 3005.2 L1337.3 3001.2 L1338.5 2996.8 L1339.8 2992.2 L1341 2987.3 L1342.3 2982.1 L1343.5 2976.6 L1344.8 2970.9 L1346 2965 L1347.2 2958.8 L1348.5 2952.5 L1349.7 2945.9 L1351 2939.1 L1352.2 2932.1 L1353.5 2924.7 L1354.7 2917 L1355.9 2909.2 L1357.2 2901.2 L1358.4 2893.2 L1359.7 2885.2 L1360.9 2871 L1362.2 2860.8 L1363.4 2849.9 L1364.7 2838.5 L1365.9 2826.4 L1367.1 2813.9 L1368.4 2800.9 L1369.6 2787.6 L1370.9 2774.3 L1372.1 2760.9 L1373.4 2747.8 L1374.6 2734.9 L1375.8 2722.4 L1377.1 2710.4 L1378.3 2698.9 L1379.6 2687.8 L1380.8 2677.2 L1382.1 2667 L1383.3 2657.2 L1384.5 2647.8 L1385.8 2638.8 L1387 2630.2 L1388.3 2622 L1389.5 2614.1 L1390.8 2606.6 L1392 2599.5 L1393.2 2592.7 L1394.5 2586.2 L1395.7 2580 L1397 2574.1 L1398.2 2568.5 L1399.5 2563.1 L1400.7 2558 L1401.9 2553.2 L1403.2 2548.6 L1404.4 2544.3 L1405.7 2540.3 L1406.9 2536.4 L1408.2 2532.9 L1409.4 2529.5 L1410.6 2526.3 L1411.9 2523.4 L1413.1 2520.6 L1414.4 2518 L1415.6 2515.5 L1416.9 2513.1 L1418.1 2510.9 L1419.3 2508.8 L1420.6 2506.8 L1421.8 2504.9 L1423.1 2503 L1424.3 2501.3 L1425.6 2499.6 L1426.8 2498 L1428 2496.5 L1429.3 2495.1 L1430.5 2493.8 L1431.8 2492.5 L1433 2491.2 L1434.3 2490 L1435.5 2488.9 L1436.7 2487.8 L1438 2486.8 L1439.2 2485.8 L1440.5 2484.9 L1441.7 2484 L1443 2483.1 L1444.2 2482.3 L1445.4 2481.5 L1446.7 2480.8 L1447.9 2480.1 L1449.2 2479.4 L1450.4 2478.8 L1451.7 2478.2 L1452.9 2477.6 L1454.1 2477.1 L1455.4 2476.6 L1456.6 2476.2 L1457.9 2475.7 L1459.1 2475.3 L1460.4 2474.9 L1461.6 2474.7 L1462.8 2474.7 L1464.1 2474.2 L1465.3 2473.6 L1466.6 2472.8 L1467.8 2472.4 L1469.1 2472.1 L1470.3 2471.6 L1471.6 2471.4 L1472.8 2471.1 L1474 2471.4 L1475.3 2470.5 L1476.5 2470.9 L1477.8 2470.6 L1479 2470.4 L1480.3 2469.6 L1481.5 2469.3 L1482.7 2469.6 L1484 2469.2 L1485.2 2469.4 L1486.5 2468.7 L1487.7 2468.8 L1489 2468.8 L1490.2 2469 L1491.4 2469 L1492.7 2467.5 L1493.9 2467.1 L1495.2 2466.7 L1496.4 2467.8 L1497.7 2467.5 L1498.9 2467.7 L1500.1 2467.6 L1501.4 2468.1 L1502.6 2467.9 L1503.9 2467.8 L1505.1 2467.9 L1506.4 2467.5 L1507.6 2467.7 L1508.8 2467 L1510.1 2466.5 L1511.3 2466.2 L1512.6 2466.5 L1513.8 2466.5 L1515.1 2466.4 L1516.3 2466 L1517.5 2466.4 L1518.8 2466.1 L1520 2466.4 L1521.3 2466 L1522.5 2465.8 L1523.8 2465.5 L1525 2465.8 L1526.2 2466.3 L1527.5 2465.8 L1528.7 2465.3 L1530 2464.1 L1531.2 2464.6 L1532.5 2464 L1533.7 2464.5 L1534.9 2463.5 L1536.2 2464.9 L1537.4 2464.8 L1538.7 2465 L1539.9 2464.9 L1541.2 2464.7 L1542.4 2464.5 L1543.6 2464.1 L1544.9 2463.8 L1546.1 2464 L1547.4 2463.1 L1548.6 2463.6 L1549.9 2464.2 L1551.1 2464.8 L1552.3 2464.5 L1553.6 2464.8 L1554.8 2464.4 L1556.1 2464.4 L1557.3 2463.4 L1558.6 2464.7 L1559.8 2465.1 L1566 2464.8 L1572.2 2463.4 L1578.5 2462.4 L1584.7 2462.3 L1590.9 2462.1 L1597.1 2461.5 L1603.3 2460.5 L1609.5 2459.9 L1615.7 2460.2 L1622 2460.9 L1628.2 2460.3 L1634.4 2459.9 L1640.6 2458.1 L1646.8 2458.3 L1653 2457.8 L1659.2 2458.6 L1665.5 2457.9 L1671.7 2456.5 L1677.9 2456.1 L1684.1 2456.4 L1690.3 2457.1 L1696.5 2456.6 L1702.8 2456.7 L1709 2456.3 L1715.2 2456.6 L1721.4 2455.3 L1727.6 2455.5 L1733.8 2455.1 L1740 2455.2 L1746.3 2455.4 L1752.5 2455.6 L1758.7 2455.9 L1764.9 2455.5 L1771.1 2455.3 L1777.3 2455 L1783.6 2455.3 L1789.8 2454.4 L1796 2454.4 L1802.2 2454 L1808.4 2455.1 L1814.6 2454.9 L1820.8 2455.6 L1827.1 2454.8 L1833.3 2455.5 L1839.5 2453.8 L1845.7 2453.5 L1851.9 2452.8 L1858.1 2453.1 L1864.3 2453.1 L1870.6 2452.8 L1876.8 2453.6 L1883 2452.9 L1889.2 2452.9 L1895.4 2452.2 L1901.6 2453.3 L1907.9 2454.3 L1914.1 2454.7 L1920.3 2454 L1926.5 2452.9 L1932.7 2452.4 L1938.9 2452.3 L1945.1 2452.5 L1951.4 2452.6 L1957.6 2452.7 L1963.8 2452.8 L1970 2452 L1976.2 2451.6 L1982.4 2451.3 L1988.6 2451 L1994.9 2451.6 L2001.1 2452.1 L2007.3 2452.5 L2013.5 2451.6 L2019.7 2451.3 L2025.9 2452.2 L2032.2 2452.3 L2038.4 2451.9 L2044.6 2450.8 L2050.8 2451.1 L2057 2451 L2063.2 2451.9 L2069.4 2452.4 L2075.7 2451.6 L2081.9 2451.2 L2088.1 2449.9 L2094.3 2450.4 L2100.5 2450.1 L2106.7 2449.9 L2113 2449.3 L2119.2 2449.5 L2125.4 2449.9 L2131.6 2451.2 L2137.8 2450.9 L2144 2450.7 L2150.2 2450.3 L2156.5 2450.6 L2162.7 2451 L2168.9 2450.9 L2175.1 2450.2 L2181.3 2450 L2187.5 2450 L2193.7 2450.8 L2200 2450.5 L2206.2 2450.2 L2212.4 2450 L2218.6 2449.5 L2224.8 2450.2 L2231 2449.5 L2237.3 2450 L2243.5 2449.9 L2249.7 2450.1 L2255.9 2450.3" fill="none" stroke="#3a9e3a" stroke-width="4" stroke-linejoin="round"/>
<path d="M366.5 2451.7 L372.7 2452 L378.9 2452.5 L385.1 2452.8 L391.4 2452 L397.6 2452.2 L403.8 2451.9 L410 2452.5 L416.2 2452 L422.4 2452.4 L428.7 2452.4 L434.9 2452.6 L441.1 2452.6 L447.3 2452.6 L453.5 2452.7 L459.7 2452.4 L465.9 2452.2 L472.2 2452.3 L478.4 2452.7 L484.6 2453.1 L490.8 2453.5 L497 2453.5 L503.2 2453.7 L509.4 2453.6 L515.7 2454.1 L521.9 2454 L528.1 2453.7 L534.3 2453.5 L540.5 2453.7 L546.7 2454 L553 2453.9 L559.2 2454 L565.4 2454 L571.6 2454.3 L577.8 2454.1 L584 2453.5 L590.2 2453.3 L596.5 2452.8 L602.7 2453.4 L608.9 2453.7 L615.1 2454.3 L621.3 2454.1 L627.5 2453.8 L633.8 2453.7 L640 2453.8 L646.2 2453.7 L652.4 2453.8 L658.6 2453.6 L664.8 2453.7 L671 2453.7 L677.3 2453.8 L683.5 2454.1 L689.7 2454.1 L695.9 2454 L702.1 2454 L708.3 2453.5 L714.5 2453.7 L720.8 2453.9 L727 2454.9 L733.2 2455.2 L739.4 2455.4 L745.6 2455 L751.8 2455.1 L758.1 2454.5 L764.3 2454.9 L770.5 2454.7 L776.7 2454.5 L782.9 2454.1 L789.1 2454.6 L795.3 2454.9 L801.6 2455.1 L807.8 2454.5 L814 2454.4 L820.2 2453.9 L826.4 2454.2 L832.6 2454.6 L838.9 2455.3 L845.1 2455 L851.3 2455.1 L857.5 2454.8 L863.7 2454.6 L869.9 2454.4 L876.1 2454.7 L882.4 2455.1 L888.6 2455 L894.8 2455.2 L901 2455.2 L907.2 2455.3 L913.4 2454.9 L919.6 2455.3 L925.9 2455.2 L932.1 2455.5 L938.3 2455.1 L944.5 2455.7 L950.7 2455.6 L956.9 2455.9 L963.2 2456 L969.4 2456.7 L975.6 2457 L981.8 2457 L988 2456.8 L994.2 2456.8 L1000.4 2456.2 L1006.7 2456.2 L1012.9 2456 L1019.1 2456.6 L1025.3 2456.6 L1031.5 2457.1 L1037.7 2457.4 L1043.9 2457.9 L1050.2 2457.8 L1056.4 2458.6 L1062.6 2459.2 L1068.8 2460.3 L1075 2461 L1081.2 2461.8 L1087.5 2462.8 L1088.7 2462.4 L1089.9 2462.6 L1091.2 2462.8 L1092.4 2463.2 L1093.7 2464.1 L1094.9 2463.8 L1096.2 2464 L1097.4 2464 L1098.6 2465 L1099.9 2465.3 L1101.1 2465.3 L1102.4 2465.2 L1103.6 2465.5 L1104.9 2465.5 L1106.1 2465.8 L1107.3 2465.9 L1108.6 2466.6 L1109.8 2466.9 L1111.1 2467.1 L1112.3 2466.8 L1113.6 2467 L1114.8 2467.2 L1116 2467.5 L1117.3 2467.7 L1118.5 2468 L1119.8 2468.3 L1121 2468.5 L1122.3 2468.8 L1123.5 2469.1 L1124.7 2469.4 L1126 2469.7 L1127.2 2470.1 L1128.5 2470.4 L1129.7 2470.8 L1131 2471.2 L1132.2 2471.5 L1133.4 2472 L1134.7 2472.4 L1135.9 2472.8 L1137.2 2473.3 L1138.4 2473.8 L1139.7 2474.3 L1140.9 2474.8 L1142.1 2475.4 L1143.4 2476 L1144.6 2476.6 L1145.9 2477.2 L1147.1 2477.8 L1148.4 2478.5 L1149.6 2479.2 L1150.8 2479.9 L1152.1 2480.6 L1153.3 2481.3 L1154.6 2482 L1155.8 2482.8 L1157.1 2483.6 L1158.3 2484.4 L1159.6 2485.2 L1160.8 2486.1 L1162 2487 L1163.3 2487.9 L1164.5 2488.8 L1165.8 2489.8 L1167 2490.8 L1168.3 2491.8 L1169.5 2492.9 L1170.7 2494 L1172 2495.2 L1173.2 2496.4 L1174.5 2497.7 L1175.7 2499 L1177 2500.3 L1178.2 2501.8 L1179.4 2503.2 L1180.7 2504.8 L1181.9 2506.4 L1183.2 2508.2 L1184.4 2510 L1185.7 2511.9 L1186.9 2513.9 L1188.1 2516 L1189.4 2518.1 L1190.6 2520.4 L1191.9 2522.8 L1193.1 2525.3 L1194.4 2527.8 L1195.6 2530.5 L1196.8 2533.2 L1198.1 2536 L1199.3 2538.8 L1200.6 2541.7 L1201.8 2544.7 L1203.1 2547.7 L1204.3 2550.7 L1205.5 2553.8 L1206.8 2556.8 L1208 2559.9 L1209.3 2562.9 L1210.5 2565.9 L1211.8 2568.9 L1213 2571.8 L1214.2 2574.6 L1215.5 2577.4 L1216.7 2580.1 L1218 2582.8 L1219.2 2585.5 L1220.5 2588.1 L1221.7 2590.8 L1222.9 2593.5 L1224.2 2596.3 L1225.4 2599.2 L1226.7 2602.3 L1227.9 2605.6 L1229.2 2609.1 L1230.4 2612.8 L1231.6 2616.8 L1232.9 2621 L1234.1 2625.4 L1235.4 2630 L1236.6 2634.8 L1237.9 2639.7 L1239.1 2644.6 L1240.3 2649.6 L1241.6 2654.6 L1242.8 2659.6 L1244.1 2664.5 L1245.3 2669.4 L1246.6 2674.3 L1247.8 2679.2 L1249 2684 L1250.3 2688.9 L1251.5 2693.8 L1252.8 2698.7 L1254 2703.7 L1255.3 2708.7 L1256.5 2713.7 L1257.7 2718.8 L1259 2724 L1260.2 2729.1 L1261.5 2734.3 L1262.7 2739.4 L1264 2744.6 L1265.2 2749.8 L1266.5 2755 L1267.7 2760.3 L1268.9 2765.6 L1270.2 2771 L1271.4 2776.6 L1272.7 2782.3 L1273.9 2788.3 L1275.2 2794.4 L1276.4 2800.7 L1277.6 2807.2 L1278.9 2813.9 L1280.1 2820.7 L1281.4 2827.6 L1282.6 2834.6 L1283.9 2841.6 L1285.1 2848.6 L1286.3 2855.6 L1287.6 2862.4 L1288.8 2869.2 L1290.1 2875.8 L1291.3 2882.2 L1292.6 2888.5 L1293.8 2894.7 L1295 2900.7 L1296.3 2906.7 L1297.5 2912.6 L1298.8 2918.4 L1300 2924.3 L1301.3 2930.2 L1302.5 2934.9 L1303.7 2940.8 L1305 2946.8 L1306.2 2952.9 L1307.5 2959.3 L1308.7 2965.8 L1310 2972.4 L1311.2 2979.2 L1312.4 2986.1 L1313.7 2993.1 L1314.9 3000.1 L1316.2 3006.9 L1317.4 3013.2 L1318.7 3018.9 L1319.9 3023.8 L1321.1 3027.9 L1322.4 3031.3 L1323.6 3033.7 L1324.9 3035.3 L1326.1 3036.1 L1327.4 3036.3 L1328.6 3036 L1329.8 3035.4 L1331.1 3034.4 L1332.3 3033 L1333.6 3031.1 L1334.8 3028.7 L1336.1 3025.8 L1337.3 3022.5 L1338.5 3018.8 L1339.8 3014.8 L1341 3010.4 L1342.3 3005.6 L1343.5 3000.7 L1344.8 2995.5 L1346 2990.1 L1347.2 2984.5 L1348.5 2978.6 L1349.7 2972.3 L1351 2965.6 L1352.2 2958.5 L1353.5 2951.1 L1354.7 2943.3 L1355.9 2935.3 L1357.2 2927.2 L1358.4 2918.9 L1359.7 2910.6 L1360.9 2900.5 L1362.2 2891.5 L1363.4 2882 L1364.7 2872.1 L1365.9 2861.6 L1367.1 2850.6 L1368.4 2839 L1369.6 2826.8 L1370.9 2814.2 L1372.1 2801.1 L1373.4 2787.8 L1374.6 2774.3 L1375.8 2760.9 L1377.1 2747.8 L1378.3 2734.9 L1379.6 2722.4 L1380.8 2710.4 L1382.1 2698.8 L1383.3 2687.8 L1384.5 2677.2 L1385.8 2667 L1387 2657.2 L1388.3 2647.8 L1389.5 2638.8 L1390.8 2630.2 L1392 2622 L1393.2 2614.1 L1394.5 2606.6 L1395.7 2599.5 L1397 2592.7 L1398.2 2586.2 L1399.5 2580 L1400.7 2574.1 L1401.9 2568.5 L1403.2 2563.1 L1404.4 2558 L1405.7 2553.2 L1406.9 2548.6 L1408.2 2544.3 L1409.4 2540.3 L1410.6 2536.4 L1411.9 2532.9 L1413.1 2529.5 L1414.4 2526.3 L1415.6 2523.4 L1416.9 2520.6 L1418.1 2518 L1419.3 2515.5 L1420.6 2513.1 L1421.8 2510.9 L1423.1 2508.8 L1424.3 2506.8 L1425.6 2504.9 L1426.8 2503 L1428 2501.3 L1429.3 2499.6 L1430.5 2498 L1431.8 2496.5 L1433 2495.1 L1434.3 2493.8 L1435.5 2492.5 L1436.7 2491.2 L1438 2490 L1439.2 2488.9 L1440.5 2487.8 L1441.7 2486.8 L1443 2485.8 L1444.2 2484.9 L1445.4 2484 L1446.7 2483.1 L1447.9 2482.3 L1449.2 2481.5 L1450.4 2480.8 L1451.7 2480.1 L1452.9 2479.4 L1454.1 2478.8 L1455.4 2478.2 L1456.6 2477.6 L1457.9 2477.1 L1459.1 2476.6 L1460.4 2476.2 L1461.6 2474.1 L1462.8 2474.1 L1464.1 2474.6 L1465.3 2473.7 L1466.6 2473.6 L1467.8 2472.7 L1469.1 2473.2 L1470.3 2472.8 L1471.6 2473.6 L1472.8 2473.2 L1474 2473.7 L1475.3 2472.9 L1476.5 2473.6 L1477.8 2473.5 L1479 2472.6 L1480.3 2471.8 L1481.5 2470.9 L1482.7 2471 L1484 2471 L1485.2 2471.1 L1486.5 2471.3 L1487.7 2470.8 L1489 2471.2 L1490.2 2470.7 L1491.4 2470 L1492.7 2468.4 L1493.9 2467.5 L1495.2 2467.6 L1496.4 2468.3 L1497.7 2468.3 L1498.9 2468.1 L1500.1 2467.5 L1501.4 2468.2 L1502.6 2468.1 L1503.9 2467.5 L1505.1 2466.6 L1506.4 2466.7 L1507.6 2466.9 L1508.8 2467.1 L1510.1 2466.8 L1511.3 2466.6 L1512.6 2466.3 L1513.8 2466.3 L1515.1 2466.4 L1516.3 2466.8 L1517.5 2467.1 L1518.8 2467 L1520 2466.8 L1521.3 2466 L1522.5 2466.9 L1523.8 2466 L1525 2466.2 L1526.2 2464.6 L1527.5 2466.1 L1528.7 2466.7 L1530 2466.7 L1531.2 2465.5 L1532.5 2464.6 L1533.7 2465 L1534.9 2465 L1536.2 2464.8 L1537.4 2465.2 L1538.7 2465.2 L1539.9 2464.8 L1541.2 2464.2 L1542.4 2464.4 L1543.6 2464.8 L1544.9 2464.3 L1546.1 2464.1 L1547.4 2464.1 L1548.6 2464.3 L1549.9 2463.7 L1551.1 2463 L1552.3 2463.2 L1553.6 2463.3 L1554.8 2463.4 L1556.1 2464.1 L1557.3 2464.1 L1558.6 2464.2 L1559.8 2463.4 L1566 2463.4 L1572.2 2463 L1578.5 2462 L1584.7 2461.3 L1590.9 2461.4 L1597.1 2461.6 L1603.3 2460.5 L1609.5 2459.5 L1615.7 2459 L1622 2459.8 L1628.2 2460.5 L1634.4 2460.4 L1640.6 2459.7 L1646.8 2458.8 L1653 2458.9 L1659.2 2458.5 L1665.5 2458.1 L1671.7 2458.1 L1677.9 2456.8 L1684.1 2456.6 L1690.3 2455.4 L1696.5 2456.7 L1702.8 2457.2 L1709 2456.7 L1715.2 2455.6 L1721.4 2456 L1727.6 2455.7 L1733.8 2455.6 L1740 2454.1 L1746.3 2455 L1752.5 2455 L1758.7 2455.4 L1764.9 2454.6 L1771.1 2453.8 L1777.3 2453.1 L1783.6 2452.8 L1789.8 2453.6 L1796 2454.2 L1802.2 2454.6 L1808.4 2453.9 L1814.6 2452.7 L1820.8 2452.7 L1827.1 2452.9 L1833.3 2453.6 L1839.5 2454.3 L1845.7 2454.3 L1851.9 2453.9 L1858.1 2453.2 L1864.3 2453.3 L1870.6 2454.1 L1876.8 2453.8 L1883 2453.1 L1889.2 2452.2 L1895.4 2451.9 L1901.6 2452.2 L1907.9 2452.5 L1914.1 2452.6 L1920.3 2453 L1926.5 2451.4 L1932.7 2451.3 L1938.9 2451.3 L1945.1 2453.1 L1951.4 2452.5 L1957.6 2451.7 L1963.8 2450.8 L1970 2452 L1976.2 2452.4 L1982.4 2453 L1988.6 2451.9 L1994.9 2451.8 L2001.1 2450.4 L2007.3 2450.6 L2013.5 2450.5 L2019.7 2450.7 L2025.9 2451.8 L2032.2 2451.9 L2038.4 2452.6 L2044.6 2451.2 L2050.8 2450.4 L2057 2450 L2063.2 2451.2 L2069.4 2451.8 L2075.7 2452.4 L2081.9 2451 L2088.1 2451 L2094.3 2450.2 L2100.5 2449.9 L2106.7 2449.7 L2113 2449.6 L2119.2 2450.5 L2125.4 2450.4 L2131.6 2450.7 L2137.8 2450.4 L2144 2450.4 L2150.2 2450.5 L2156.5 2449.7 L2162.7 2450 L2168.9 2449.7 L2175.1 2450.6 L2181.3 2451.2 L2187.5 2450.9 L2193.7 2450.6 L2200 2450.2 L2206.2 2450.9 L2212.4 2451.7 L2218.6 2451 L2224.8 2450 L2231 2448.8 L2237.3 2449.4 L2243.5 2450.8 L2249.7 2451.1 L2255.9 2450.5" fill="none" stroke="#8a1010" stroke-width="4" stroke-linejoin="round"/>
<path d="M366.5 2452.3 L372.7 2452.2 L378.9 2452.4 L385.1 2452.3 L391.4 2452.4 L397.6 2452.1 L403.8 2452.2 L410 2452.1 L416.2 2452.5 L422.4 2452.2 L428.7 2452.2 L434.9 2452.2 L441.1 2452.5 L447.3 2452.8 L453.5 2453.1 L459.7 2453.2 L465.9 2453.4 L472.2 2453.1 L478.4 2453.5 L484.6 2453.5 L490.8 2453.4 L497 2453.3 L503.2 2453.6 L509.4 2453.7 L515.7 2454.1 L521.9 2454.1 L528.1 2454.1 L534.3 2453.6 L540.5 2453.2 L546.7 2453.3 L553 2453.7 L559.2 2454.1 L565.4 2453.9 L571.6 2453.6 L577.8 2453.4 L584 2453.3 L590.2 2453.4 L596.5 2453.1 L602.7 2453.8 L608.9 2454.4 L615.1 2454.9 L621.3 2454.2 L627.5 2453.8 L633.8 2453.7 L640 2454.2 L646.2 2454.4 L652.4 2454.7 L658.6 2454.2 L664.8 2453.8 L671 2453.8 L677.3 2454 L683.5 2454.4 L689.7 2454.2 L695.9 2454.5 L702.1 2454.4 L708.3 2454.6 L714.5 2454.4 L720.8 2454.6 L727 2454.6 L733.2 2454.6 L739.4 2454.6 L745.6 2454.4 L751.8 2454.6 L758.1 2454.4 L764.3 2454.6 L770.5 2454.3 L776.7 2454.2 L782.9 2454.1 L789.1 2453.9 L795.3 2453.7 L801.6 2453.6 L807.8 2454.4 L814 2455.3 L820.2 2455.5 L826.4 2454.8 L832.6 2454.3 L838.9 2454.1 L845.1 2454.6 L851.3 2455 L857.5 2455.1 L863.7 2455.4 L869.9 2455.3 L876.1 2455.3 L882.4 2455 L888.6 2454.9 L894.8 2455.2 L901 2455.1 L907.2 2455.2 L913.4 2455.5 L919.6 2456 L925.9 2456.3 L932.1 2455.8 L938.3 2455.6 L944.5 2455.4 L950.7 2455.6 L956.9 2455.6 L963.2 2455.5 L969.4 2455.7 L975.6 2456.4 L981.8 2456.6 L988 2456.6 L994.2 2456.3 L1000.4 2456.7 L1006.7 2457.1 L1012.9 2457.6 L1019.1 2457.6 L1025.3 2457.2 L1031.5 2456.9 L1037.7 2457.3 L1043.9 2457.8 L1050.2 2458.4 L1056.4 2458.9 L1062.6 2459.6 L1068.8 2460.3 L1075 2461 L1081.2 2461.4 L1087.5 2462.6 L1088.7 2462.7 L1089.9 2463.1 L1091.2 2463.2 L1092.4 2463.4 L1093.7 2463.8 L1094.9 2463.8 L1096.2 2464.2 L1097.4 2464.7 L1098.6 2464.4 L1099.9 2463.9 L1101.1 2463.4 L1102.4 2464.1 L1103.6 2464.8 L1104.9 2465.3 L1106.1 2465.6 L1107.3 2465.9 L1108.6 2466.1 L1109.8 2466.2 L1111.1 2466.8 L1112.3 2466.6 L1113.6 2466.9 L1114.8 2467.1 L1116 2467.3 L1117.3 2467.6 L1118.5 2467.8 L1119.8 2468.1 L1121 2468.4 L1122.3 2468.6 L1123.5 2468.9 L1124.7 2469.2 L1126 2469.5 L1127.2 2469.8 L1128.5 2470.2 L1129.7 2470.5 L1131 2470.9 L1132.2 2471.3 L1133.4 2471.7 L1134.7 2472.1 L1135.9 2472.5 L1137.2 2473 L1138.4 2473.5 L1139.7 2474 L1140.9 2474.5 L1142.1 2475 L1143.4 2475.6 L1144.6 2476.2 L1145.9 2476.8 L1147.1 2477.4 L1148.4 2478 L1149.6 2478.7 L1150.8 2479.4 L1152.1 2480.1 L1153.3 2480.8 L1154.6 2481.5 L1155.8 2482.3 L1157.1 2483 L1158.3 2483.8 L1159.6 2484.6 L1160.8 2485.5 L1162 2486.3 L1163.3 2487.2 L1164.5 2488.1 L1165.8 2489.1 L1167 2490.1 L1168.3 2491.1 L1169.5 2492.1 L1170.7 2493.2 L1172 2494.3 L1173.2 2495.5 L1174.5 2496.7 L1175.7 2498 L1177 2499.3 L1178.2 2500.6 L1179.4 2502.1 L1180.7 2503.6 L1181.9 2505.1 L1183.2 2506.8 L1184.4 2508.5 L1185.7 2510.3 L1186.9 2512.2 L1188.1 2514.2 L1189.4 2516.3 L1190.6 2518.5 L1191.9 2520.8 L1193.1 2523.2 L1194.4 2525.6 L1195.6 2528.2 L1196.8 2530.8 L1198.1 2533.4 L1199.3 2536.1 L1200.6 2538.9 L1201.8 2541.7 L1203.1 2544.6 L1204.3 2547.4 L1205.5 2550.4 L1206.8 2553.3 L1208 2556.2 L1209.3 2559.1 L1210.5 2562 L1211.8 2564.9 L1213 2567.7 L1214.2 2570.5 L1215.5 2573.2 L1216.7 2575.8 L1218 2578.4 L1219.2 2580.9 L1220.5 2583.3 L1221.7 2585.7 L1222.9 2588 L1224.2 2590.4 L1225.4 2592.8 L1226.7 2595.2 L1227.9 2597.7 L1229.2 2600.3 L1230.4 2603 L1231.6 2605.8 L1232.9 2608.9 L1234.1 2612.1 L1235.4 2615.5 L1236.6 2619.1 L1237.9 2622.8 L1239.1 2626.7 L1240.3 2630.8 L1241.6 2634.9 L1242.8 2639.1 L1244.1 2643.3 L1245.3 2647.6 L1246.6 2651.8 L1247.8 2656.1 L1249 2660.2 L1250.3 2664.4 L1251.5 2668.5 L1252.8 2672.5 L1254 2676.6 L1255.3 2680.6 L1256.5 2684.6 L1257.7 2688.6 L1259 2692.7 L1260.2 2696.8 L1261.5 2700.9 L1262.7 2705 L1264 2709.2 L1265.2 2713.5 L1266.5 2717.8 L1267.7 2722 L1268.9 2726.4 L1270.2 2730.7 L1271.4 2735 L1272.7 2739.3 L1273.9 2743.5 L1275.2 2747.8 L1276.4 2752.1 L1277.6 2756.3 L1278.9 2760.6 L1280.1 2764.9 L1281.4 2769.2 L1282.6 2773.7 L1283.9 2778.2 L1285.1 2782.8 L1286.3 2787.5 L1287.6 2792.4 L1288.8 2797.4 L1290.1 2802.5 L1291.3 2807.7 L1292.6 2812.9 L1293.8 2818.2 L1295 2823.6 L1296.3 2829 L1297.5 2834.3 L1298.8 2839.7 L1300 2845.1 L1301.3 2850.5 L1302.5 2855.6 L1303.7 2860.5 L1305 2865.5 L1306.2 2870.6 L1307.5 2875.9 L1308.7 2881.6 L1310 2887.7 L1311.2 2894.3 L1312.4 2901.5 L1313.7 2909 L1314.9 2916.6 L1316.2 2923.9 L1317.4 2930.7 L1318.7 2936.7 L1319.9 2942.2 L1321.1 2946.9 L1322.4 2951 L1323.6 2954.4 L1324.9 2957.2 L1326.1 2959.5 L1327.4 2961.4 L1328.6 2962.9 L1329.8 2964.1 L1331.1 2965.1 L1332.3 2965.8 L1333.6 2966.3 L1334.8 2966.5 L1336.1 2966.3 L1337.3 2965.6 L1338.5 2964.4 L1339.8 2962.8 L1341 2960.8 L1342.3 2958.4 L1343.5 2955.6 L1344.8 2952.5 L1346 2949.1 L1347.2 2945.5 L1348.5 2941.7 L1349.7 2937.7 L1351 2933.6 L1352.2 2929.4 L1353.5 2925 L1354.7 2920.5 L1355.9 2915.8 L1357.2 2911 L1358.4 2906.2 L1359.7 2901.3 L1360.9 2897.1 L1362.2 2892.5 L1363.4 2887.8 L1364.7 2883 L1365.9 2878.2 L1367.1 2873.1 L1368.4 2867.8 L1369.6 2862.2 L1370.9 2856.2 L1372.1 2849.8 L1373.4 2843 L1374.6 2835.7 L1375.8 2827.8 L1377.1 2819.5 L1378.3 2810.7 L1379.6 2801.5 L1380.8 2792.1 L1382.1 2782.4 L1383.3 2772.6 L1384.5 2762.7 L1385.8 2753 L1387 2743.4 L1388.3 2734 L1389.5 2724.9 L1390.8 2716 L1392 2707.4 L1393.2 2699 L1394.5 2690.8 L1395.7 2682.8 L1397 2674.9 L1398.2 2667.2 L1399.5 2659.7 L1400.7 2652.3 L1401.9 2645 L1403.2 2637.9 L1404.4 2631 L1405.7 2624.3 L1406.9 2617.8 L1408.2 2611.5 L1409.4 2605.4 L1410.6 2599.6 L1411.9 2594 L1413.1 2588.5 L1414.4 2583.3 L1415.6 2578.2 L1416.9 2573.2 L1418.1 2568.5 L1419.3 2563.8 L1420.6 2559.4 L1421.8 2555.1 L1423.1 2550.9 L1424.3 2547 L1425.6 2543.2 L1426.8 2539.6 L1428 2536.2 L1429.3 2532.9 L1430.5 2529.8 L1431.8 2526.9 L1433 2524.1 L1434.3 2521.5 L1435.5 2519 L1436.7 2516.6 L1438 2514.4 L1439.2 2512.2 L1440.5 2510.1 L1441.7 2508.1 L1443 2506.2 L1444.2 2504.4 L1445.4 2502.7 L1446.7 2501 L1447.9 2499.4 L1449.2 2497.9 L1450.4 2496.5 L1451.7 2495.1 L1452.9 2493.8 L1454.1 2492.5 L1455.4 2491.3 L1456.6 2490.2 L1457.9 2489.1 L1459.1 2488 L1460.4 2487 L1461.6 2485.6 L1462.8 2484.5 L1464.1 2483.7 L1465.3 2482.9 L1466.6 2481.8 L1467.8 2481.1 L1469.1 2479.7 L1470.3 2479.2 L1471.6 2478.5 L1472.8 2477.9 L1474 2477.7 L1475.3 2478.2 L1476.5 2477.9 L1477.8 2477.5 L1479 2476.6 L1480.3 2475.2 L1481.5 2474.9 L1482.7 2474.9 L1484 2474.9 L1485.2 2474 L1486.5 2473 L1487.7 2473.1 L1489 2473.5 L1490.2 2473.7 L1491.4 2472.7 L1492.7 2471.7 L1493.9 2471.1 L1495.2 2471.3 L1496.4 2471.5 L1497.7 2471.7 L1498.9 2471.9 L1500.1 2471.5 L1501.4 2471.6 L1502.6 2471.8 L1503.9 2472.3 L1505.1 2471.6 L1506.4 2470.5 L1507.6 2470.2 L1508.8 2470.3 L1510.1 2471.1 L1511.3 2470.5 L1512.6 2470.4 L1513.8 2470 L1515.1 2470.1 L1516.3 2468.5 L1517.5 2468 L1518.8 2467.6 L1520 2468.6 L1521.3 2468.1 L1522.5 2467.3 L1523.8 2466.8 L1525 2467.9 L1526.2 2467.8 L1527.5 2467.3 L1528.7 2466 L1530 2466.1 L1531.2 2466.4 L1532.5 2466.1 L1533.7 2466.4 L1534.9 2465.8 L1536.2 2466.4 L1537.4 2466.4 L1538.7 2466.9 L1539.9 2466.8 L1541.2 2466.8 L1542.4 2466.2 L1543.6 2465.2 L1544.9 2465.2 L1546.1 2465.9 L1547.4 2465.9 L1548.6 2465.7 L1549.9 2465 L1551.1 2465.4 L1552.3 2464.8 L1553.6 2465.2 L1554.8 2464.7 L1556.1 2464.6 L1557.3 2465.1 L1558.6 2465.6 L1559.8 2466 L1566 2464.5 L1572.2 2464.1 L1578.5 2463.9 L1584.7 2463.8 L1590.9 2463.2 L1597.1 2462.5 L1603.3 2462 L1609.5 2460.8 L1615.7 2460.3 L1622 2460.3 L1628.2 2460.8 L1634.4 2460.6 L1640.6 2460.2 L1646.8 2459.9 L1653 2460 L1659.2 2460.2 L1665.5 2459.9 L1671.7 2459 L1677.9 2457.5 L1684.1 2457.4 L1690.3 2457.7 L1696.5 2457.6 L1702.8 2457.1 L1709 2456.2 L1715.2 2455.5 L1721.4 2455.2 L1727.6 2455.6 L1733.8 2456 L1740 2456.7 L1746.3 2455.9 L1752.5 2455.5 L1758.7 2454.2 L1764.9 2454.2 L1771.1 2453.6 L1777.3 2454.2 L1783.6 2454.2 L1789.8 2454.8 L1796 2454.5 L1802.2 2455.3 L1808.4 2455.4 L1814.6 2456.1 L1820.8 2455.3 L1827.1 2455.2 L1833.3 2454.3 L1839.5 2454.8 L1845.7 2454.7 L1851.9 2454.7 L1858.1 2454.9 L1864.3 2453.9 L1870.6 2453.5 L1876.8 2452.8 L1883 2452.6 L1889.2 2452.2 L1895.4 2452.8 L1901.6 2453.6 L1907.9 2454.4 L1914.1 2453.3 L1920.3 2453.4 L1926.5 2453.2 L1932.7 2453.1 L1938.9 2453.7 L1945.1 2453.4 L1951.4 2452.8 L1957.6 2451.6 L1963.8 2451.1 L1970 2450.9 L1976.2 2450.8 L1980.7 2452 L1981.8 2452 L1982.4 2451.1 L1982.8 2452 L1983.9 2452 L1985 2452.1 L1986.1 2452.4 L1987.2 2452.9 L1988.2 2453.7 L1988.6 2453.7 L1989.3 2454.9 L1990.4 2456.3 L1991.5 2457.7 L1992.5 2458.8 L1993.6 2459.2 L1994.7 2458.8 L1994.9 2458.5 L1995.8 2457.7 L1996.9 2456.2 L1997.9 2454.8 L1999 2453.6 L2000.1 2452.8 L2001.1 2451.3 L2001.2 2452.2 L2002.2 2452 L2003.3 2451.8 L2004.4 2451.7 L2005.5 2451.7 L2006.5 2451.7 L2007.3 2450.7 L2013.5 2450.3 L2019.7 2450.8 L2025.9 2450.3 L2032.2 2451 L2038.4 2451.8 L2044.6 2452.3 L2050.8 2451.5 L2057 2451.5 L2063.2 2452.1 L2069.4 2451.9 L2075.7 2451.1 L2081.9 2450.6 L2088.1 2451 L2094.3 2451.5 L2100.5 2451.9 L2106.7 2452.1 L2113 2451.7 L2119.2 2451.2 L2125.4 2450.4 L2131.6 2451 L2137.8 2451.6 L2144 2451.7 L2150.2 2451.5 L2156.5 2450.9 L2162.7 2451.1 L2168.9 2451.2 L2175.1 2451.7 L2181.3 2451.6 L2187.5 2452.2 L2193.7 2451.2 L2200 2452.1 L2206.2 2450.5 L2212.4 2450.6 L2218.6 2449.8 L2224.8 2449.9 L2227.3 2450.2 L2228.1 2450.2 L2229 2450.1 L2229.8 2450.1 L2230.6 2449.9 L2231 2449.5 L2231.5 2449.5 L2232.3 2448.8 L2233.1 2447.6 L2233.9 2445.9 L2234.8 2443.9 L2235.6 2441.9 L2236.4 2440.5 L2237.3 2440.3 L2237.3 2439.9 L2238.1 2440.4 L2238.9 2441.9 L2239.7 2443.9 L2240.6 2445.9 L2241.4 2447.6 L2242.2 2448.7 L2243.1 2449.5 L2243.5 2450 L2243.9 2449.8 L2244.7 2450 L2245.5 2450.1 L2246.4 2450.1 L2249.7 2450.4 L2255.9 2449.8" fill="none" stroke="#ff9124" stroke-width="4" stroke-linejoin="round"/>
</g>
<g>
<clipPath id="ca"><rect x="488.6" y="1002.6" width="599.4" height="351.9999999999999"/></clipPath>
<rect x="488.6" y="1002.6" width="599.4" height="351.9999999999999" fill="#fff"/>
<g clip-path="url(#ca)" fill="none" stroke-width="3.6" stroke-linejoin="miter">
<polyline points="720.4,995 759.8,1066.8 780,1092.5 836.2,1151.6 916,1106 984.9,1002.8 990,995" stroke="#d8ea7c"/>
<polyline points="650,996 653.4,1002.8 730.2,1064.9 780,1029.4 808.6,1002.8 815,996" stroke="#ffd34f"/>
<polyline points="612,996 616,1002.8 683,1102.3 756.8,1115.1 800,1068.8 833.2,1041.2 855.9,1002.8 860,996" stroke="#ff8c1f"/>
<polyline points="547,996 549,1002.8 572.6,1064.9 598.2,1124 621.9,1175.2 647.5,1226.5 680,1293.4 755.9,1331.9 800,1283.6 835.2,1250.1 866.7,1173.2 908.1,1100.3 946.5,1002.8 949,996" stroke="#a3622b"/>
<polyline points="595,996 598.2,1002.8 669.2,1143.7 742.1,1283.6 800,1271.8 816.5,1269.8 858.8,1183.1 908.1,1076.7 940.6,1002.8 944,996" stroke="#84b850"/>
<polyline points="660,996 663.2,1002.8 688.9,1043.2 716.4,1104.3 763.7,1210.7 841.1,1317.1 917.9,1250.1 990.8,1100.3 1031.2,1002.8 1034,996" stroke="#2f7f1b"/>
</g>
<rect x="488.6" y="1002.6" width="599.4" height="351.9999999999999" fill="none" stroke="#9a9a9a" stroke-width="3"/>
<path d="M481.6 1002.6H488.6M481.6 1054.5H488.6M481.6 1106.5H488.6M481.6 1158.4H488.6M481.6 1210.3H488.6M481.6 1262.3H488.6M481.6 1314.2H488.6M547.5 1354.6V1361.6M622.4 1354.6V1358.6M697.2 1354.6V1361.6M772 1354.6V1358.6M846.9 1354.6V1361.6M921.8 1354.6V1358.6M996.6 1354.6V1361.6M1071.4 1354.6V1358.6" stroke="#8a8a8a" stroke-width="2.5"/>
<g font-family="'Liberation Sans', Arial, sans-serif" font-size="29" fill="#2a2a2a" stroke="#2a2a2a" stroke-width="0.9" text-anchor="end">
<text x="475.5" y="1011.6">-15.0</text>
<text x="475.5" y="1115.5">-15.5</text>
<text x="475.5" y="1219.3">-16.0</text>
<text x="475.5" y="1323.2">-16.5</text>
</g>
<g font-family="'Liberation Sans', Arial, sans-serif" font-size="29" fill="#2a2a2a" stroke="#2a2a2a" stroke-width="0.9" text-anchor="middle">
<text x="547.5" y="1389.5">420</text>
<text x="697.2" y="1389.5">425</text>
<text x="846.9" y="1389.5">430</text>
<text x="996.6" y="1389.5">435</text>
</g>
</g>
<clipPath id="cb"><rect x="478.9" y="2605.2" width="595.6999999999999" height="351.7000000000003"/></clipPath>
<rect x="478.9" y="2605.2" width="595.6999999999999" height="351.7000000000003" fill="#fff"/>
<g clip-path="url(#cb)" fill="none" stroke-width="3.6">
<polyline points="671.5,2597.8 675.9,2605.2 723.3,2690.5 775,2748.7 824.6,2770.3 874.1,2776.7 921.5,2760.3 973.3,2720.7 1020.7,2675.4 1074.6,2615.1 1081,2607.8" stroke="#ff9124"/>
<polyline points="499.1,2597.8 503.4,2605.2 559.5,2677.6 619.8,2750.9 675.9,2806.9 727.6,2858.6 768.5,2896.5 815.9,2903.9 867.7,2871.5 917.2,2822 964.6,2759.5 1012.1,2686.2 1055.2,2606.5 1057.3,2602.2" stroke="#3a9e3a"/>
<polyline points="525,2597.8 529.3,2605.2 585.3,2673.3 641.4,2748.7 693.1,2828.4 740.5,2901.7 790.1,2936.2 839.7,2931 889.2,2901.7 938.8,2850 988.4,2785.3 1037.9,2699.1 1074.6,2628 1081,2617.2" stroke="#8a1010"/>
</g>
<rect x="478.9" y="2605.2" width="595.6999999999999" height="351.7000000000003" fill="none" stroke="#9a9a9a" stroke-width="3"/>
<path d="M471.9 2605.2H478.9M474.9 2647H478.9M471.9 2688.8H478.9M474.9 2730.6H478.9M471.9 2772.4H478.9M474.9 2814.3H478.9M471.9 2856.1H478.9M474.9 2897.9H478.9M471.9 2939.7H478.9M478.9 2956.9V2963.9M528.5 2956.9V2960.9M578.2 2956.9V2963.9M627.8 2956.9V2960.9M677.5 2956.9V2963.9M727.1 2956.9V2960.9M776.8 2956.9V2963.9M826.4 2956.9V2960.9M876 2956.9V2963.9M925.7 2956.9V2960.9M975.3 2956.9V2963.9M1025 2956.9V2960.9M1074.6 2956.9V2963.9" stroke="#8a8a8a" stroke-width="2.5"/>
<g font-family="'Liberation Sans', Arial, sans-serif" font-size="30" fill="#2a2a2a" stroke="#2a2a2a" stroke-width="0.9" text-anchor="end">
<text x="468.5" y="2615.7">-12</text>
<text x="468.5" y="2699.3">-13</text>
<text x="468.5" y="2782.9">-14</text>
<text x="468.5" y="2866.6">-15</text>
<text x="468.5" y="2950.2">-16</text>
</g>
<g font-family="'Liberation Sans', Arial, sans-serif" font-size="30" fill="#2a2a2a" stroke="#2a2a2a" stroke-width="0.9" text-anchor="middle">
<text x="478.9" y="2992">410</text>
<text x="578.2" y="2992">415</text>
<text x="677.5" y="2992">420</text>
<text x="776.8" y="2992">425</text>
<text x="876" y="2992">430</text>
<text x="975.3" y="2992">435</text>
<text x="1074.6" y="2992">440</text>
</g>
<g font-family="'Liberation Sans', Arial, sans-serif" font-size="50" fill="#111" text-anchor="end">
<text x="320" y="134">100</text>
<text x="320" y="266">80</text>
<text x="320" y="398">60</text>
<text x="320" y="529.9">40</text>
<text x="320" y="661.9">20</text>
<text x="320" y="847.4">0</text>
<text x="320" y="1025.5">-5</text>
<text x="320" y="1203.7">-10</text>
<text x="320" y="1381.9">-15</text>
</g>
<g font-family="'Liberation Sans', Arial, sans-serif" font-size="50" fill="#111" text-anchor="middle">
<text x="512.6" y="1521">100</text>
<text x="761.1" y="1521">200</text>
<text x="1009.6" y="1521">300</text>
<text x="1258.1" y="1521">400</text>
<text x="1506.7" y="1521">500</text>
<text x="1755.2" y="1521">600</text>
<text x="2003.7" y="1521">700</text>
<text x="2252.2" y="1521">800</text>
</g>
<g font-family="'Liberation Sans', Arial, sans-serif" font-size="50" fill="#111" text-anchor="end">
<text x="323" y="1767.5">100</text>
<text x="323" y="1899.4">80</text>
<text x="323" y="2031.2">60</text>
<text x="323" y="2163.1">40</text>
<text x="323" y="2294.9">20</text>
<text x="323" y="2463.4">0</text>
<text x="323" y="2646.7">-5</text>
<text x="323" y="2829.9">-10</text>
<text x="323" y="3013.1">-15</text>
</g>
<g font-family="'Liberation Sans', Arial, sans-serif" font-size="50" fill="#111" text-anchor="middle">
<text x="515.7" y="3154.2">100</text>
<text x="764.3" y="3154.2">200</text>
<text x="1012.9" y="3154.2">300</text>
<text x="1261.5" y="3154.2">400</text>
<text x="1510.1" y="3154.2">500</text>
<text x="1758.7" y="3154.2">600</text>
<text x="2007.3" y="3154.2">700</text>
<text x="2255.9" y="3154.2">800</text>
</g>
<g font-family="'Liberation Sans', Arial, sans-serif" font-size="61" fill="#111">
<text x="1636.5" y="248.5">Green resin</text>
<path d="M1349.8 302.7H1487.8" stroke="#a3622b" stroke-width="4"/>
<text x="1502" y="323.2">0 wt%</text>
<path d="M1349.8 377.2H1487.8" stroke="#2f7f1b" stroke-width="4"/>
<text x="1502" y="397.7">0.2 wt%</text>
<path d="M1349.8 452.0H1487.8" stroke="#84b850" stroke-width="4"/>
<text x="1502" y="472.5">0.25 wt%</text>
<path d="M1787.9 302.7H1925.3" stroke="#d8ea7c" stroke-width="4"/>
<text x="1938.8" y="323.2">0.33 wt%</text>
<path d="M1787.9 377.2H1925.3" stroke="#ffd34f" stroke-width="4"/>
<text x="1938.8" y="397.7">0.5 wt%</text>
<path d="M1787.9 452.0H1925.3" stroke="#ff8c1f" stroke-width="4"/>
<text x="1938.8" y="472.5">1 wt%</text>
</g>
<g font-family="'Liberation Sans', Arial, sans-serif" font-size="61" fill="#111">
<text x="1746" y="1893.4">ND 1 wt%</text>
<path d="M1662.4 1947.6H1801" stroke="#3a9e3a" stroke-width="4"/>
<text x="1815.5" y="1968.3">Green resin</text>
<path d="M1662.4 2021.7H1801" stroke="#8a1010" stroke-width="4"/>
<text x="1815.5" y="2042.4">Red resin</text>
<path d="M1662.4 2095.9H1801" stroke="#ff9124" stroke-width="4"/>
<text x="1815.5" y="2116.6">Amber resin</text>
</g>
<g font-family="'Liberation Sans', Arial, sans-serif" fill="#000" font-weight="bold" font-size="97">
<text x="41.9" y="122.3">(a)</text>
<text x="55.4" y="1696.7">(b)</text>
</g>
<g font-family="'Liberation Sans', Arial, sans-serif" fill="#111" font-size="61">
<text x="1066" y="1620.7"><tspan letter-spacing="0.65">Temperature </tspan>[<tspan font-size="54" dx="2" dy="4">°</tspan><tspan dx="0" dy="-4">C]</tspan></text>
<text x="1069.2" y="3254.5"><tspan letter-spacing="0.65">Temperature </tspan>[<tspan font-size="54" dx="2" dy="4">°</tspan><tspan dx="0" dy="-4">C]</tspan></text>
<text transform="translate(159.5 658) rotate(-90)">Sample mass [%]</text>
<text transform="translate(165 2291.5) rotate(-90)">Sample mass [%]</text>
<text transform="translate(155.5 1368.5) rotate(-90)">DTG [% <tspan font-size="54" dx="2" dy="1.5">°</tspan><tspan dy="-1.5">C</tspan><tspan font-size="34" dy="-35">-1</tspan><tspan dy="35">]</tspan></text>
<text transform="translate(158.5 2965) rotate(-90)">DTG [% <tspan font-size="54" dx="2" dy="1.5">°</tspan><tspan dy="-1.5">C</tspan><tspan font-size="34" dy="-35">-1</tspan><tspan dy="35">]</tspan></text>
</g>
</svg>
</body></html>
